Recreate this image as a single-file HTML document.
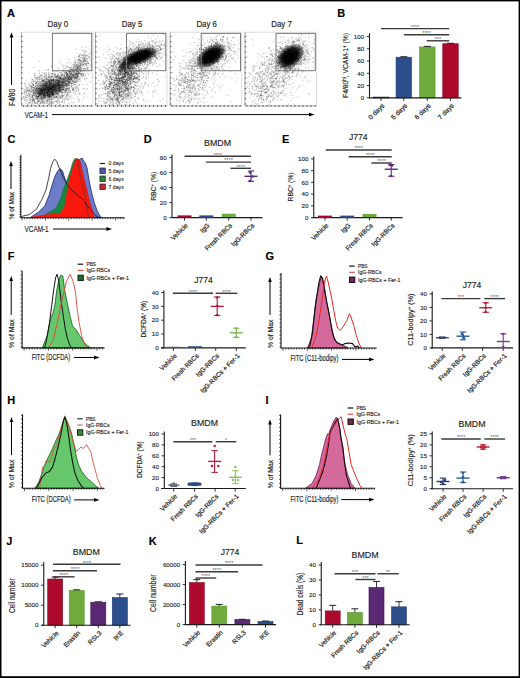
<!DOCTYPE html><html><head><meta charset="utf-8"><style>html,body{margin:0;padding:0;background:#fff;}svg{display:block;}text{font-family:"Liberation Sans", sans-serif;stroke:#222;stroke-width:0.15px;}</style></head><body>
<svg width="520" height="678" viewBox="0 0 520 678">
<rect x="0.00" y="0.00" width="520.00" height="678.00" fill="#fff" stroke="none" stroke-width="0" />
<text x="7.00" y="16.60" font-size="11" fill="#000" font-weight="bold">A</text>
<rect x="21.40" y="32.20" width="71.50" height="73.80" fill="none" stroke="#d4d4d4" stroke-width="0.8" />
<line x1="21.40" y1="32.20" x2="21.40" y2="106.00" stroke="#888" stroke-width="0.6" />
<line x1="21.20" y1="104.00" x2="22.60" y2="104.00" stroke="#333" stroke-width="0.8" />
<line x1="21.20" y1="98.80" x2="22.60" y2="98.80" stroke="#333" stroke-width="0.8" />
<line x1="21.20" y1="93.60" x2="22.60" y2="93.60" stroke="#333" stroke-width="0.8" />
<line x1="21.20" y1="88.40" x2="22.60" y2="88.40" stroke="#333" stroke-width="0.8" />
<line x1="21.20" y1="83.20" x2="22.60" y2="83.20" stroke="#333" stroke-width="0.8" />
<line x1="21.20" y1="78.00" x2="22.60" y2="78.00" stroke="#333" stroke-width="0.8" />
<line x1="21.20" y1="72.80" x2="22.60" y2="72.80" stroke="#333" stroke-width="0.8" />
<line x1="21.20" y1="67.60" x2="22.60" y2="67.60" stroke="#333" stroke-width="0.8" />
<line x1="21.20" y1="62.40" x2="22.60" y2="62.40" stroke="#333" stroke-width="0.8" />
<line x1="21.20" y1="57.20" x2="22.60" y2="57.20" stroke="#333" stroke-width="0.8" />
<line x1="21.20" y1="52.00" x2="22.60" y2="52.00" stroke="#333" stroke-width="0.8" />
<line x1="21.20" y1="46.80" x2="22.60" y2="46.80" stroke="#333" stroke-width="0.8" />
<line x1="21.20" y1="41.60" x2="22.60" y2="41.60" stroke="#333" stroke-width="0.8" />
<line x1="21.20" y1="36.40" x2="22.60" y2="36.40" stroke="#333" stroke-width="0.8" />
<line x1="21.40" y1="106.00" x2="92.90" y2="106.00" stroke="#999" stroke-width="0.6" />
<line x1="23.40" y1="105.00" x2="23.40" y2="106.60" stroke="#333" stroke-width="0.8" />
<line x1="27.40" y1="105.00" x2="27.40" y2="106.60" stroke="#333" stroke-width="0.8" />
<line x1="31.40" y1="105.00" x2="31.40" y2="106.60" stroke="#333" stroke-width="0.8" />
<line x1="35.40" y1="105.00" x2="35.40" y2="106.60" stroke="#333" stroke-width="0.8" />
<line x1="39.40" y1="105.00" x2="39.40" y2="106.60" stroke="#333" stroke-width="0.8" />
<line x1="43.40" y1="105.00" x2="43.40" y2="106.60" stroke="#333" stroke-width="0.8" />
<line x1="47.40" y1="105.00" x2="47.40" y2="106.60" stroke="#333" stroke-width="0.8" />
<line x1="51.40" y1="105.00" x2="51.40" y2="106.60" stroke="#333" stroke-width="0.8" />
<line x1="55.40" y1="105.00" x2="55.40" y2="106.60" stroke="#333" stroke-width="0.8" />
<line x1="59.40" y1="105.00" x2="59.40" y2="106.60" stroke="#333" stroke-width="0.8" />
<line x1="63.40" y1="105.00" x2="63.40" y2="106.60" stroke="#333" stroke-width="0.8" />
<line x1="67.40" y1="105.00" x2="67.40" y2="106.60" stroke="#333" stroke-width="0.8" />
<line x1="71.40" y1="105.00" x2="71.40" y2="106.60" stroke="#333" stroke-width="0.8" />
<line x1="75.40" y1="105.00" x2="75.40" y2="106.60" stroke="#333" stroke-width="0.8" />
<line x1="79.40" y1="105.00" x2="79.40" y2="106.60" stroke="#333" stroke-width="0.8" />
<line x1="83.40" y1="105.00" x2="83.40" y2="106.60" stroke="#333" stroke-width="0.8" />
<line x1="87.40" y1="105.00" x2="87.40" y2="106.60" stroke="#333" stroke-width="0.8" />
<line x1="91.40" y1="105.00" x2="91.40" y2="106.60" stroke="#333" stroke-width="0.8" />
<text x="57.90" y="27.30" font-size="8.7" fill="#1a1a1a" text-anchor="middle" textLength="20.6" lengthAdjust="spacingAndGlyphs">Day 0</text>
<rect x="95.50" y="32.20" width="71.50" height="73.80" fill="none" stroke="#d4d4d4" stroke-width="0.8" />
<line x1="95.50" y1="32.20" x2="95.50" y2="106.00" stroke="#888" stroke-width="0.6" />
<line x1="95.30" y1="104.00" x2="96.70" y2="104.00" stroke="#333" stroke-width="0.8" />
<line x1="95.30" y1="98.80" x2="96.70" y2="98.80" stroke="#333" stroke-width="0.8" />
<line x1="95.30" y1="93.60" x2="96.70" y2="93.60" stroke="#333" stroke-width="0.8" />
<line x1="95.30" y1="88.40" x2="96.70" y2="88.40" stroke="#333" stroke-width="0.8" />
<line x1="95.30" y1="83.20" x2="96.70" y2="83.20" stroke="#333" stroke-width="0.8" />
<line x1="95.30" y1="78.00" x2="96.70" y2="78.00" stroke="#333" stroke-width="0.8" />
<line x1="95.30" y1="72.80" x2="96.70" y2="72.80" stroke="#333" stroke-width="0.8" />
<line x1="95.30" y1="67.60" x2="96.70" y2="67.60" stroke="#333" stroke-width="0.8" />
<line x1="95.30" y1="62.40" x2="96.70" y2="62.40" stroke="#333" stroke-width="0.8" />
<line x1="95.30" y1="57.20" x2="96.70" y2="57.20" stroke="#333" stroke-width="0.8" />
<line x1="95.30" y1="52.00" x2="96.70" y2="52.00" stroke="#333" stroke-width="0.8" />
<line x1="95.30" y1="46.80" x2="96.70" y2="46.80" stroke="#333" stroke-width="0.8" />
<line x1="95.30" y1="41.60" x2="96.70" y2="41.60" stroke="#333" stroke-width="0.8" />
<line x1="95.30" y1="36.40" x2="96.70" y2="36.40" stroke="#333" stroke-width="0.8" />
<line x1="95.50" y1="106.00" x2="167.00" y2="106.00" stroke="#999" stroke-width="0.6" />
<line x1="97.50" y1="105.00" x2="97.50" y2="106.60" stroke="#333" stroke-width="0.8" />
<line x1="101.50" y1="105.00" x2="101.50" y2="106.60" stroke="#333" stroke-width="0.8" />
<line x1="105.50" y1="105.00" x2="105.50" y2="106.60" stroke="#333" stroke-width="0.8" />
<line x1="109.50" y1="105.00" x2="109.50" y2="106.60" stroke="#333" stroke-width="0.8" />
<line x1="113.50" y1="105.00" x2="113.50" y2="106.60" stroke="#333" stroke-width="0.8" />
<line x1="117.50" y1="105.00" x2="117.50" y2="106.60" stroke="#333" stroke-width="0.8" />
<line x1="121.50" y1="105.00" x2="121.50" y2="106.60" stroke="#333" stroke-width="0.8" />
<line x1="125.50" y1="105.00" x2="125.50" y2="106.60" stroke="#333" stroke-width="0.8" />
<line x1="129.50" y1="105.00" x2="129.50" y2="106.60" stroke="#333" stroke-width="0.8" />
<line x1="133.50" y1="105.00" x2="133.50" y2="106.60" stroke="#333" stroke-width="0.8" />
<line x1="137.50" y1="105.00" x2="137.50" y2="106.60" stroke="#333" stroke-width="0.8" />
<line x1="141.50" y1="105.00" x2="141.50" y2="106.60" stroke="#333" stroke-width="0.8" />
<line x1="145.50" y1="105.00" x2="145.50" y2="106.60" stroke="#333" stroke-width="0.8" />
<line x1="149.50" y1="105.00" x2="149.50" y2="106.60" stroke="#333" stroke-width="0.8" />
<line x1="153.50" y1="105.00" x2="153.50" y2="106.60" stroke="#333" stroke-width="0.8" />
<line x1="157.50" y1="105.00" x2="157.50" y2="106.60" stroke="#333" stroke-width="0.8" />
<line x1="161.50" y1="105.00" x2="161.50" y2="106.60" stroke="#333" stroke-width="0.8" />
<line x1="165.50" y1="105.00" x2="165.50" y2="106.60" stroke="#333" stroke-width="0.8" />
<text x="132.00" y="27.30" font-size="8.7" fill="#1a1a1a" text-anchor="middle" textLength="20.6" lengthAdjust="spacingAndGlyphs">Day 5</text>
<rect x="170.20" y="32.20" width="71.50" height="73.80" fill="none" stroke="#d4d4d4" stroke-width="0.8" />
<line x1="170.20" y1="32.20" x2="170.20" y2="106.00" stroke="#888" stroke-width="0.6" />
<line x1="170.00" y1="104.00" x2="171.40" y2="104.00" stroke="#333" stroke-width="0.8" />
<line x1="170.00" y1="98.80" x2="171.40" y2="98.80" stroke="#333" stroke-width="0.8" />
<line x1="170.00" y1="93.60" x2="171.40" y2="93.60" stroke="#333" stroke-width="0.8" />
<line x1="170.00" y1="88.40" x2="171.40" y2="88.40" stroke="#333" stroke-width="0.8" />
<line x1="170.00" y1="83.20" x2="171.40" y2="83.20" stroke="#333" stroke-width="0.8" />
<line x1="170.00" y1="78.00" x2="171.40" y2="78.00" stroke="#333" stroke-width="0.8" />
<line x1="170.00" y1="72.80" x2="171.40" y2="72.80" stroke="#333" stroke-width="0.8" />
<line x1="170.00" y1="67.60" x2="171.40" y2="67.60" stroke="#333" stroke-width="0.8" />
<line x1="170.00" y1="62.40" x2="171.40" y2="62.40" stroke="#333" stroke-width="0.8" />
<line x1="170.00" y1="57.20" x2="171.40" y2="57.20" stroke="#333" stroke-width="0.8" />
<line x1="170.00" y1="52.00" x2="171.40" y2="52.00" stroke="#333" stroke-width="0.8" />
<line x1="170.00" y1="46.80" x2="171.40" y2="46.80" stroke="#333" stroke-width="0.8" />
<line x1="170.00" y1="41.60" x2="171.40" y2="41.60" stroke="#333" stroke-width="0.8" />
<line x1="170.00" y1="36.40" x2="171.40" y2="36.40" stroke="#333" stroke-width="0.8" />
<line x1="170.20" y1="106.00" x2="241.70" y2="106.00" stroke="#999" stroke-width="0.6" />
<line x1="172.20" y1="105.00" x2="172.20" y2="106.60" stroke="#333" stroke-width="0.8" />
<line x1="176.20" y1="105.00" x2="176.20" y2="106.60" stroke="#333" stroke-width="0.8" />
<line x1="180.20" y1="105.00" x2="180.20" y2="106.60" stroke="#333" stroke-width="0.8" />
<line x1="184.20" y1="105.00" x2="184.20" y2="106.60" stroke="#333" stroke-width="0.8" />
<line x1="188.20" y1="105.00" x2="188.20" y2="106.60" stroke="#333" stroke-width="0.8" />
<line x1="192.20" y1="105.00" x2="192.20" y2="106.60" stroke="#333" stroke-width="0.8" />
<line x1="196.20" y1="105.00" x2="196.20" y2="106.60" stroke="#333" stroke-width="0.8" />
<line x1="200.20" y1="105.00" x2="200.20" y2="106.60" stroke="#333" stroke-width="0.8" />
<line x1="204.20" y1="105.00" x2="204.20" y2="106.60" stroke="#333" stroke-width="0.8" />
<line x1="208.20" y1="105.00" x2="208.20" y2="106.60" stroke="#333" stroke-width="0.8" />
<line x1="212.20" y1="105.00" x2="212.20" y2="106.60" stroke="#333" stroke-width="0.8" />
<line x1="216.20" y1="105.00" x2="216.20" y2="106.60" stroke="#333" stroke-width="0.8" />
<line x1="220.20" y1="105.00" x2="220.20" y2="106.60" stroke="#333" stroke-width="0.8" />
<line x1="224.20" y1="105.00" x2="224.20" y2="106.60" stroke="#333" stroke-width="0.8" />
<line x1="228.20" y1="105.00" x2="228.20" y2="106.60" stroke="#333" stroke-width="0.8" />
<line x1="232.20" y1="105.00" x2="232.20" y2="106.60" stroke="#333" stroke-width="0.8" />
<line x1="236.20" y1="105.00" x2="236.20" y2="106.60" stroke="#333" stroke-width="0.8" />
<line x1="240.20" y1="105.00" x2="240.20" y2="106.60" stroke="#333" stroke-width="0.8" />
<text x="206.70" y="27.30" font-size="8.7" fill="#1a1a1a" text-anchor="middle" textLength="20.6" lengthAdjust="spacingAndGlyphs">Day 6</text>
<rect x="245.00" y="32.20" width="71.50" height="73.80" fill="none" stroke="#d4d4d4" stroke-width="0.8" />
<line x1="245.00" y1="32.20" x2="245.00" y2="106.00" stroke="#888" stroke-width="0.6" />
<line x1="244.80" y1="104.00" x2="246.20" y2="104.00" stroke="#333" stroke-width="0.8" />
<line x1="244.80" y1="98.80" x2="246.20" y2="98.80" stroke="#333" stroke-width="0.8" />
<line x1="244.80" y1="93.60" x2="246.20" y2="93.60" stroke="#333" stroke-width="0.8" />
<line x1="244.80" y1="88.40" x2="246.20" y2="88.40" stroke="#333" stroke-width="0.8" />
<line x1="244.80" y1="83.20" x2="246.20" y2="83.20" stroke="#333" stroke-width="0.8" />
<line x1="244.80" y1="78.00" x2="246.20" y2="78.00" stroke="#333" stroke-width="0.8" />
<line x1="244.80" y1="72.80" x2="246.20" y2="72.80" stroke="#333" stroke-width="0.8" />
<line x1="244.80" y1="67.60" x2="246.20" y2="67.60" stroke="#333" stroke-width="0.8" />
<line x1="244.80" y1="62.40" x2="246.20" y2="62.40" stroke="#333" stroke-width="0.8" />
<line x1="244.80" y1="57.20" x2="246.20" y2="57.20" stroke="#333" stroke-width="0.8" />
<line x1="244.80" y1="52.00" x2="246.20" y2="52.00" stroke="#333" stroke-width="0.8" />
<line x1="244.80" y1="46.80" x2="246.20" y2="46.80" stroke="#333" stroke-width="0.8" />
<line x1="244.80" y1="41.60" x2="246.20" y2="41.60" stroke="#333" stroke-width="0.8" />
<line x1="244.80" y1="36.40" x2="246.20" y2="36.40" stroke="#333" stroke-width="0.8" />
<line x1="245.00" y1="106.00" x2="316.50" y2="106.00" stroke="#999" stroke-width="0.6" />
<line x1="247.00" y1="105.00" x2="247.00" y2="106.60" stroke="#333" stroke-width="0.8" />
<line x1="251.00" y1="105.00" x2="251.00" y2="106.60" stroke="#333" stroke-width="0.8" />
<line x1="255.00" y1="105.00" x2="255.00" y2="106.60" stroke="#333" stroke-width="0.8" />
<line x1="259.00" y1="105.00" x2="259.00" y2="106.60" stroke="#333" stroke-width="0.8" />
<line x1="263.00" y1="105.00" x2="263.00" y2="106.60" stroke="#333" stroke-width="0.8" />
<line x1="267.00" y1="105.00" x2="267.00" y2="106.60" stroke="#333" stroke-width="0.8" />
<line x1="271.00" y1="105.00" x2="271.00" y2="106.60" stroke="#333" stroke-width="0.8" />
<line x1="275.00" y1="105.00" x2="275.00" y2="106.60" stroke="#333" stroke-width="0.8" />
<line x1="279.00" y1="105.00" x2="279.00" y2="106.60" stroke="#333" stroke-width="0.8" />
<line x1="283.00" y1="105.00" x2="283.00" y2="106.60" stroke="#333" stroke-width="0.8" />
<line x1="287.00" y1="105.00" x2="287.00" y2="106.60" stroke="#333" stroke-width="0.8" />
<line x1="291.00" y1="105.00" x2="291.00" y2="106.60" stroke="#333" stroke-width="0.8" />
<line x1="295.00" y1="105.00" x2="295.00" y2="106.60" stroke="#333" stroke-width="0.8" />
<line x1="299.00" y1="105.00" x2="299.00" y2="106.60" stroke="#333" stroke-width="0.8" />
<line x1="303.00" y1="105.00" x2="303.00" y2="106.60" stroke="#333" stroke-width="0.8" />
<line x1="307.00" y1="105.00" x2="307.00" y2="106.60" stroke="#333" stroke-width="0.8" />
<line x1="311.00" y1="105.00" x2="311.00" y2="106.60" stroke="#333" stroke-width="0.8" />
<line x1="315.00" y1="105.00" x2="315.00" y2="106.60" stroke="#333" stroke-width="0.8" />
<text x="281.50" y="27.30" font-size="8.7" fill="#1a1a1a" text-anchor="middle" textLength="20.6" lengthAdjust="spacingAndGlyphs">Day 7</text>
<defs><radialGradient id="cg"><stop offset="0" stop-color="#000" stop-opacity="1"/><stop offset="0.55" stop-color="#000" stop-opacity="0.92"/><stop offset="0.8" stop-color="#000" stop-opacity="0.5"/><stop offset="1" stop-color="#000" stop-opacity="0"/></radialGradient></defs>
<clipPath id="cp0"><rect x="22.4" y="33.0" width="70" height="72.0"/></clipPath>
<g clip-path="url(#cp0)">
<ellipse cx="50" cy="89" rx="18" ry="8.5" transform="rotate(-22 50 89)" fill="url(#cg)" opacity="0.42"/>
<ellipse cx="46" cy="91" rx="9" ry="6" transform="rotate(-20 46 91)" fill="url(#cg)" opacity="0.3"/>
<path d="M51.9 89.9h0M45.2 83.8h0M42.8 84.1h0M55.5 96.3h0M43.4 86.6h0M57.8 87.7h0M49.6 81.5h0M52.6 92.6h0M33.7 92.2h0M24.7 89.8h0M28.5 96.2h0M36.7 96.4h0M52.3 86.0h0M50.7 89.0h0M31.5 93.0h0M37.1 88.0h0M61.3 77.2h0M53.1 93.8h0M43.8 90.4h0M52.5 87.8h0M36.7 95.0h0M62.7 70.9h0M61.5 84.2h0M49.1 104.2h0M56.6 76.3h0M53.5 91.3h0M50.7 93.4h0M52.1 92.6h0M66.2 76.1h0M52.1 84.0h0M49.1 79.7h0M43.6 89.8h0M64.9 90.6h0M33.0 89.9h0M53.0 71.8h0M45.2 89.8h0M67.9 85.8h0M46.1 87.4h0M52.4 99.1h0M45.1 88.3h0M54.8 85.4h0M45.5 81.9h0M49.6 85.2h0M66.7 86.0h0M52.6 92.4h0M50.0 96.5h0M52.6 91.8h0M36.7 97.0h0M25.2 83.9h0M44.8 83.9h0M59.3 101.5h0M39.3 88.4h0M54.8 90.1h0M48.3 87.6h0M60.8 87.6h0M38.5 93.0h0M48.4 81.1h0M51.6 81.1h0M63.1 84.1h0M50.4 83.7h0M43.9 75.9h0M38.6 96.3h0M28.1 104.7h0M32.4 102.1h0M43.2 97.5h0M48.2 77.5h0M69.9 90.6h0M49.4 86.6h0M46.3 82.6h0M62.5 78.7h0M48.1 83.2h0M39.9 83.1h0M65.5 80.4h0M62.5 83.0h0M41.8 89.6h0M44.4 91.0h0M45.7 88.1h0M32.3 90.1h0M68.7 75.0h0M39.4 95.7h0M63.6 71.3h0M46.7 85.1h0M32.2 102.0h0M50.9 88.6h0M43.4 94.9h0M44.2 89.9h0M34.4 86.1h0M65.4 77.7h0M54.4 86.2h0M44.3 87.1h0M57.6 82.7h0M49.3 88.9h0M66.9 86.1h0M53.9 82.4h0M37.3 101.4h0M62.1 82.0h0M59.7 90.1h0M63.5 89.5h0M49.9 100.1h0M38.6 100.1h0M59.4 91.0h0M77.5 87.6h0M32.6 83.3h0M57.8 77.2h0M53.2 93.4h0M25.5 83.2h0M54.2 86.9h0M48.2 89.5h0M36.5 82.9h0M46.3 82.7h0M32.9 99.9h0M51.4 90.9h0M37.4 89.0h0M36.6 87.6h0M51.1 82.0h0M56.2 88.3h0M71.1 68.4h0M61.3 82.7h0M46.7 78.8h0M47.7 95.2h0M50.3 89.0h0M50.8 96.9h0M44.5 74.0h0M37.2 79.1h0M67.0 81.3h0M34.4 88.2h0M64.9 83.0h0M51.4 87.4h0M53.7 92.9h0M58.2 86.5h0M40.1 96.8h0M46.0 98.6h0M35.5 93.8h0M47.1 79.6h0M75.6 88.2h0M47.7 95.4h0M48.1 69.3h0M53.8 86.3h0M48.9 80.7h0M47.3 88.3h0M66.1 83.9h0M55.3 97.8h0M43.3 88.4h0M65.1 88.8h0M59.3 85.2h0M52.8 85.2h0M48.7 89.4h0M70.5 83.6h0M48.7 84.6h0M48.0 101.6h0M57.2 85.8h0M43.7 82.7h0M52.7 93.9h0M45.7 88.6h0M48.7 89.9h0M31.4 94.9h0M43.4 98.2h0M43.5 95.8h0M68.2 77.9h0M44.4 92.4h0M48.1 81.7h0M62.2 98.5h0M47.4 88.1h0M39.5 95.6h0M33.0 87.5h0M63.6 75.4h0M68.2 92.0h0M55.7 90.2h0M73.6 76.4h0M40.1 82.5h0M55.7 97.2h0M59.7 76.9h0M39.4 89.3h0M53.9 85.1h0M54.4 88.8h0M47.3 89.3h0M53.2 86.4h0M62.3 97.3h0M58.2 85.2h0M32.1 99.4h0M23.9 89.3h0M63.2 88.0h0M44.4 77.9h0M44.7 85.6h0M65.0 99.1h0M51.4 81.9h0M36.9 93.8h0M45.6 81.6h0M49.1 80.0h0M67.2 88.9h0M62.5 79.2h0M56.7 84.4h0M45.4 87.9h0M31.5 85.6h0M59.9 82.6h0M56.4 93.3h0M28.2 92.1h0M54.2 89.6h0M49.5 96.6h0M50.0 79.1h0M42.2 98.1h0M51.1 73.4h0M68.7 84.7h0M65.9 78.4h0M44.3 82.4h0M80.6 73.5h0M68.0 75.5h0M48.2 76.4h0M49.3 96.3h0M39.2 101.5h0M52.0 79.5h0M43.7 87.7h0M48.9 84.8h0M40.3 90.4h0M35.1 85.2h0M52.9 93.9h0M32.8 96.1h0M40.5 85.2h0M59.7 80.2h0M66.6 75.1h0M54.9 84.5h0M43.7 95.7h0M50.9 92.7h0M47.3 81.3h0M49.9 88.9h0M59.8 77.1h0M45.6 77.2h0M55.7 77.6h0M29.4 97.2h0M59.8 72.4h0M36.0 89.0h0M38.7 96.4h0M39.4 87.7h0M55.8 80.1h0M53.4 79.5h0M31.4 82.7h0M72.2 76.1h0M53.8 86.5h0M53.0 87.5h0M70.7 71.3h0M29.6 89.8h0M37.3 99.8h0M58.0 77.5h0M33.5 93.1h0M59.5 62.6h0M54.2 78.3h0M60.3 75.6h0M43.3 79.9h0M43.3 102.0h0M59.6 81.1h0M35.3 80.5h0M46.2 89.9h0M49.7 87.8h0M37.5 93.5h0M54.2 96.5h0M72.8 77.3h0M41.7 91.6h0M41.7 86.5h0M47.3 81.6h0M57.9 84.1h0M53.4 85.5h0M39.7 85.8h0M46.6 85.7h0M53.8 86.7h0M35.0 95.6h0M33.3 91.2h0M41.6 76.3h0M52.5 88.5h0M47.9 86.1h0M43.8 83.7h0M46.2 85.9h0M48.7 79.8h0M54.2 87.7h0M48.1 85.9h0M52.8 74.4h0M57.2 87.1h0M55.5 89.0h0M42.5 89.8h0M59.8 87.4h0M49.1 77.2h0M60.7 92.6h0M63.7 84.2h0M35.2 102.3h0M42.0 72.6h0M51.2 76.5h0M33.8 90.8h0M65.1 78.9h0M59.2 97.7h0M69.6 78.9h0M44.5 81.2h0M44.0 94.4h0M56.0 86.6h0M60.6 77.8h0M52.4 93.0h0M61.0 91.8h0M54.8 83.9h0M52.4 79.7h0M33.2 100.4h0M51.2 90.3h0M29.8 94.6h0M41.4 85.6h0M23.3 97.8h0M62.7 85.7h0M43.8 91.1h0M52.1 66.3h0M51.1 92.1h0M63.9 95.3h0M65.4 84.0h0M56.8 91.4h0M44.5 90.6h0M67.3 95.7h0M49.0 88.5h0M57.2 95.5h0M54.8 97.6h0M39.0 91.9h0M50.9 94.1h0M59.1 72.8h0M41.1 95.0h0M38.8 81.7h0M64.7 85.7h0M55.5 82.4h0M62.5 81.0h0M61.4 76.4h0M41.4 93.8h0M44.6 96.0h0M51.5 80.7h0M50.9 85.4h0M60.1 79.1h0M49.2 98.1h0M83.3 88.9h0M52.4 89.1h0M68.9 79.1h0M39.7 93.9h0M54.0 80.3h0M27.4 87.5h0M56.7 79.6h0M49.9 90.1h0M57.4 82.6h0M54.4 79.7h0M43.8 83.4h0M64.4 81.8h0M41.2 89.7h0M50.4 93.7h0M29.1 89.8h0M62.0 82.2h0M65.3 97.4h0M47.2 86.9h0M66.8 84.8h0M57.5 81.2h0M78.7 88.8h0M59.7 89.4h0M28.7 102.8h0M49.9 91.8h0M58.1 82.2h0M32.0 99.3h0M41.3 89.8h0M42.8 89.0h0M57.2 93.8h0M74.6 77.7h0M27.0 91.8h0M35.2 91.2h0M46.2 74.8h0M50.8 76.5h0M54.2 85.7h0M47.1 89.2h0M42.8 86.9h0M30.9 96.7h0M78.6 90.9h0M68.7 85.5h0M47.1 100.8h0M50.1 87.9h0M47.8 90.1h0M45.6 89.8h0M37.1 91.3h0M77.9 75.5h0M49.7 92.7h0M56.2 77.1h0M51.2 95.0h0M54.6 87.4h0M67.5 75.4h0M50.5 84.2h0M63.1 67.6h0M41.5 88.2h0M60.6 88.4h0M63.1 70.6h0M59.1 82.2h0M44.6 95.0h0M34.2 79.6h0M42.3 80.4h0M44.4 93.8h0M59.2 96.5h0M44.3 79.3h0M39.4 86.1h0M37.8 97.2h0M37.7 78.8h0M59.0 83.6h0M55.5 86.8h0M58.6 84.9h0M66.9 84.2h0M56.8 88.5h0M33.2 94.6h0M48.5 90.7h0M48.8 79.7h0M29.9 95.2h0M47.9 83.9h0M50.3 83.4h0M55.5 80.4h0M53.3 94.5h0M78.7 68.0h0M43.1 85.1h0M57.0 76.5h0M45.2 90.4h0M36.7 87.1h0M39.4 77.1h0M32.7 93.0h0M52.2 86.0h0M28.6 94.4h0M62.1 87.3h0M47.5 82.7h0M56.8 81.0h0M34.8 89.1h0M68.8 81.7h0M63.4 78.8h0M60.4 79.2h0M56.2 104.7h0M58.7 80.7h0M50.9 90.5h0M64.0 78.5h0M29.5 95.4h0M51.5 88.6h0M67.5 83.1h0M57.5 76.7h0M67.3 96.8h0M60.9 85.5h0M57.9 98.6h0M39.7 92.2h0M58.6 90.3h0M46.7 92.3h0M48.0 90.2h0M46.2 81.4h0M53.2 93.7h0M38.8 91.6h0M55.8 77.6h0M50.2 80.3h0M71.1 96.8h0M74.4 75.9h0M60.1 84.9h0M56.6 97.4h0M38.3 101.7h0M54.4 97.3h0M51.3 82.7h0M56.4 91.2h0M52.8 90.9h0M38.7 77.1h0M63.7 87.7h0M53.0 87.7h0M62.0 79.6h0M42.1 90.5h0M61.2 72.8h0M63.3 77.6h0M41.5 101.9h0M46.1 80.2h0M49.4 95.9h0M63.9 79.0h0M57.9 90.4h0M44.4 93.7h0M49.1 84.7h0M45.3 91.0h0M49.7 84.2h0M49.1 97.4h0M56.1 92.5h0M66.9 85.4h0M75.6 70.7h0M59.7 81.7h0M77.9 89.1h0M25.0 92.1h0M61.1 89.5h0M59.5 83.7h0M58.3 89.8h0M53.0 95.0h0M26.0 104.0h0M41.4 99.6h0M45.8 83.5h0M52.8 80.2h0M35.7 82.8h0M52.1 91.3h0M62.7 81.7h0M63.5 82.6h0M51.5 92.2h0M62.6 80.2h0M47.6 88.3h0M49.4 81.8h0M62.1 80.0h0M54.1 80.3h0M56.4 88.6h0M51.8 103.1h0M60.5 97.4h0M60.5 78.7h0M47.7 92.8h0M51.9 88.0h0M42.5 77.9h0M42.0 75.0h0M53.3 81.4h0M41.9 90.4h0M50.2 77.4h0M27.2 90.4h0M24.0 92.6h0M66.9 72.8h0M54.8 75.8h0M53.6 84.4h0M51.9 92.0h0M72.4 80.0h0M49.7 81.1h0M57.2 83.3h0M60.8 83.3h0M66.0 66.1h0M50.0 95.2h0M44.6 84.8h0M43.9 80.6h0M59.4 103.0h0M61.4 74.9h0M39.5 90.0h0M60.6 77.4h0M45.3 97.3h0M60.2 81.0h0M33.3 84.0h0M36.3 77.4h0M58.1 80.0h0M62.0 97.4h0M61.7 74.4h0M64.6 90.8h0M39.4 85.9h0M45.1 78.3h0M61.6 64.8h0M37.1 92.1h0M48.8 90.3h0M53.6 85.2h0M58.4 68.3h0M49.0 83.4h0M53.2 88.7h0M38.3 88.7h0M61.4 86.0h0M48.7 104.6h0M74.3 66.4h0M61.7 102.4h0M60.9 85.3h0M47.0 85.6h0M46.9 85.6h0M58.7 81.5h0M42.3 82.6h0M47.9 82.5h0M51.8 95.6h0M56.8 89.3h0M55.4 86.5h0M48.6 86.7h0M56.9 77.1h0M67.0 81.1h0M40.7 88.8h0M43.4 92.6h0M45.7 99.1h0M35.2 77.6h0M36.6 79.0h0M53.5 95.0h0M54.9 76.0h0M47.0 103.4h0M54.8 86.3h0M70.5 98.1h0M66.8 82.0h0M57.0 90.1h0M40.7 84.5h0M48.9 81.7h0M50.5 88.9h0M76.4 70.2h0M49.1 87.6h0M59.2 92.4h0M42.8 85.3h0M28.9 90.8h0M57.5 85.5h0M37.9 91.0h0M52.8 91.1h0M43.2 89.5h0M26.1 90.3h0M64.0 65.5h0M47.6 91.2h0M44.3 84.8h0M50.3 88.3h0M44.7 76.4h0M46.8 83.3h0M45.1 92.3h0M61.2 90.3h0M47.7 96.5h0M68.2 89.1h0M67.1 79.7h0M51.3 94.2h0M35.4 96.6h0M43.6 88.4h0M27.8 91.5h0M53.3 93.8h0M62.5 82.3h0M46.4 83.7h0M55.1 84.3h0M63.2 96.0h0M46.4 78.6h0M36.6 83.2h0M40.5 102.7h0M49.4 77.1h0M62.4 92.6h0M44.8 85.6h0M47.8 91.6h0M62.0 92.2h0M68.8 89.2h0M69.1 85.0h0M32.4 95.3h0M53.6 83.9h0M60.8 80.9h0M44.1 102.1h0M59.5 85.9h0M65.0 89.9h0M48.1 70.5h0M41.7 88.7h0M39.9 94.5h0M63.8 78.6h0M42.1 82.5h0M55.0 89.5h0M44.9 96.8h0M42.6 84.7h0M55.3 92.0h0M44.4 93.5h0M46.5 100.6h0M50.0 87.5h0M62.1 89.9h0M67.0 83.4h0M42.3 87.7h0M58.7 89.0h0M68.8 83.3h0M67.9 92.1h0M48.7 77.6h0M32.9 85.0h0M67.5 74.2h0M67.3 85.2h0M74.2 85.3h0M49.2 87.3h0M52.5 88.7h0M44.6 90.6h0M65.3 68.6h0M51.5 80.8h0M55.6 92.4h0M52.5 93.2h0M35.3 103.5h0M45.6 95.2h0M45.8 70.5h0M42.6 93.4h0M70.3 81.6h0M50.0 77.6h0M73.1 92.0h0M50.7 86.4h0M34.3 102.2h0M85.1 78.3h0M67.6 84.8h0M43.1 101.8h0M35.7 93.2h0M56.8 92.2h0M57.0 88.3h0M38.3 83.8h0M49.7 83.1h0M31.9 86.8h0M39.9 78.7h0M30.3 84.7h0M54.3 89.6h0M70.6 67.8h0M45.5 97.4h0M47.5 87.1h0M70.3 76.8h0M33.5 85.7h0M55.9 88.2h0M31.9 89.0h0M59.0 88.9h0M45.1 95.4h0M52.7 73.6h0M48.5 92.3h0M38.1 77.4h0M49.8 94.3h0M63.5 65.6h0M78.8 67.0h0M65.9 90.8h0M63.1 83.8h0M39.0 98.1h0M35.3 75.6h0M86.6 77.6h0M70.0 72.6h0M73.0 90.4h0M69.4 79.6h0M36.2 93.2h0M49.3 81.2h0M48.7 88.2h0M77.6 86.1h0M53.9 96.0h0M40.8 90.0h0M58.3 75.2h0M43.9 81.0h0M57.0 97.8h0M42.7 93.4h0M37.1 85.4h0M40.5 103.8h0M80.4 78.6h0M44.5 96.3h0M49.3 94.9h0M55.3 88.3h0M56.6 81.1h0M41.3 79.1h0M41.7 81.2h0M46.6 82.6h0M53.5 90.4h0M31.8 90.3h0M41.9 97.8h0M73.7 84.4h0M51.0 99.2h0M35.3 73.7h0M87.0 84.1h0M39.2 94.5h0M48.7 89.8h0M31.4 91.5h0M57.2 86.9h0M65.5 82.2h0M76.9 71.0h0M48.6 74.4h0M39.9 103.1h0M41.3 96.4h0M47.3 81.6h0M45.4 86.6h0M47.4 95.4h0M57.1 80.9h0M41.0 94.6h0M52.7 95.1h0M84.9 79.4h0M50.1 87.1h0M38.2 86.7h0M38.0 90.8h0M48.0 95.0h0M45.7 88.8h0M62.1 96.8h0M64.7 93.3h0M50.1 93.9h0M79.6 65.9h0M69.8 92.6h0M58.2 90.7h0M64.3 76.9h0M53.4 80.1h0M41.0 87.6h0M49.7 89.7h0M52.4 76.3h0M78.4 84.9h0M58.8 81.7h0M51.5 92.1h0M51.1 74.8h0M68.5 103.1h0M31.4 104.5h0M55.2 85.3h0M64.3 72.8h0M57.3 96.7h0M47.4 86.3h0M51.1 84.5h0M67.2 73.6h0M58.0 75.0h0M58.9 83.7h0M36.7 90.9h0M66.5 72.3h0M42.3 103.2h0M56.9 97.5h0M52.4 80.4h0M53.8 96.4h0M62.5 82.9h0M51.3 87.0h0M49.6 103.8h0M47.8 80.5h0M47.3 95.4h0M58.4 83.6h0M42.9 91.8h0M26.8 88.5h0M59.4 80.5h0M59.1 94.0h0M59.0 84.6h0M78.9 80.8h0M48.8 94.7h0M53.5 80.2h0M51.4 86.5h0M26.5 97.6h0M46.3 86.7h0M29.9 94.6h0M50.8 88.9h0M39.0 98.3h0M35.5 93.1h0M64.9 76.4h0M47.9 97.8h0M45.4 88.1h0M56.8 93.7h0M35.5 86.3h0M38.1 87.1h0M52.1 80.5h0M53.7 90.0h0M42.5 92.8h0M71.9 81.2h0M43.1 91.0h0M40.6 94.7h0M59.1 78.0h0M51.7 96.4h0M45.5 91.9h0M36.2 88.2h0M51.0 104.7h0M44.6 86.8h0M43.8 89.9h0M59.3 85.7h0M76.0 78.5h0M69.0 82.1h0M54.1 75.6h0M49.3 88.2h0M42.0 75.5h0M60.4 80.9h0M45.1 88.7h0M49.5 91.8h0M33.3 88.8h0M54.9 87.4h0M44.9 86.3h0M40.9 92.0h0M62.0 75.0h0M71.5 85.3h0M47.9 95.4h0M28.7 84.7h0M34.5 92.2h0M45.7 86.4h0M46.1 73.8h0M52.8 76.3h0M42.0 88.9h0M33.4 85.3h0M39.0 93.2h0M59.6 88.5h0M36.9 88.2h0M41.3 95.7h0M43.0 85.6h0M58.0 92.8h0M58.1 92.9h0M56.1 95.2h0M65.5 80.8h0M68.6 81.4h0M49.4 81.6h0M49.8 94.5h0M37.3 99.1h0M55.9 87.9h0M24.5 99.0h0M56.5 79.7h0M45.3 72.3h0M57.1 80.2h0M56.1 71.6h0M58.5 82.8h0M58.0 77.8h0M39.1 87.9h0M44.8 82.9h0M70.0 92.7h0M37.7 80.7h0M68.1 88.9h0M64.1 91.1h0M40.2 91.5h0M30.5 86.2h0M60.7 78.5h0M78.3 76.4h0M45.7 96.5h0M73.8 81.6h0M37.6 96.8h0M65.9 77.6h0M44.7 98.6h0M49.5 80.2h0M44.3 85.2h0M54.8 87.1h0M66.7 86.5h0M33.6 98.9h0M63.0 86.2h0M61.7 79.0h0M42.4 99.0h0M32.2 79.8h0M61.1 77.9h0M43.4 80.7h0M32.0 87.6h0M47.8 92.3h0M33.9 87.4h0M58.8 83.9h0M41.5 94.1h0M57.4 96.0h0M48.5 96.9h0M45.4 99.1h0M40.9 89.7h0M74.4 80.0h0M58.7 101.8h0M53.0 80.9h0M56.4 76.6h0M67.8 89.7h0M42.4 87.0h0M53.1 87.2h0M41.0 96.8h0M25.5 96.0h0M45.4 88.4h0M51.2 78.5h0M57.5 83.7h0M39.4 82.7h0M38.0 96.6h0M39.7 93.5h0M66.6 89.0h0M68.7 77.9h0M41.0 100.3h0M57.9 93.6h0M54.5 95.6h0M63.1 88.1h0M58.1 87.9h0M54.4 88.2h0M61.3 79.5h0M71.3 78.1h0M62.4 82.2h0M53.9 102.3h0M43.7 81.5h0M41.6 89.7h0M77.2 77.9h0M59.2 76.7h0M57.1 90.4h0M70.4 74.0h0M59.0 86.7h0M38.8 93.3h0M41.3 74.5h0M59.6 88.3h0M42.0 81.8h0M69.3 81.9h0M67.1 91.6h0M47.1 95.9h0M48.0 88.9h0M50.0 88.4h0M64.6 82.9h0M48.4 87.0h0M52.5 80.5h0M44.9 90.3h0M43.9 90.2h0M49.5 104.0h0M68.1 83.8h0M56.6 102.3h0M54.6 85.7h0M55.5 88.4h0M67.7 80.4h0M73.4 71.3h0M56.4 77.9h0M71.6 76.3h0M52.9 94.2h0M62.7 74.3h0M42.9 80.9h0M52.3 86.6h0M44.9 85.5h0M44.3 85.3h0M61.6 94.9h0M27.7 97.5h0M47.4 93.4h0M39.3 92.1h0M40.6 98.0h0M51.7 86.4h0M54.7 84.5h0M34.2 100.0h0M54.0 85.5h0M66.2 90.6h0M35.8 88.8h0M73.4 88.9h0M38.9 84.4h0M42.0 88.2h0M32.3 96.6h0M32.4 87.0h0M59.9 78.8h0M51.9 92.4h0M59.7 81.5h0M49.2 82.5h0M73.6 82.9h0M37.9 93.9h0M60.8 87.3h0M76.6 87.1h0M44.3 90.3h0M36.5 96.4h0M60.5 104.5h0M46.2 74.1h0M43.3 92.3h0M33.6 89.1h0M47.6 92.1h0M46.5 83.2h0M58.8 80.4h0M41.1 81.8h0M43.5 96.3h0M31.6 96.1h0M58.5 81.8h0M50.7 79.6h0M69.7 88.1h0M48.8 75.5h0M41.4 99.8h0M72.2 80.8h0M64.1 77.5h0M48.8 89.0h0M51.7 76.0h0M65.9 91.5h0M33.5 85.4h0M53.3 82.0h0M51.5 84.1h0M76.5 77.7h0M42.3 92.6h0M36.5 88.6h0M54.0 82.4h0M50.4 101.1h0M63.5 88.6h0M58.7 88.3h0M68.2 80.2h0M70.3 72.1h0M44.0 80.5h0M48.4 93.1h0M66.3 76.1h0M50.0 85.7h0M38.8 84.3h0M46.8 76.6h0M52.4 87.5h0M40.3 85.0h0M57.1 82.5h0M40.2 100.8h0M68.9 72.9h0M50.4 96.3h0M60.7 99.0h0M45.8 94.5h0M36.0 77.7h0M49.1 87.8h0M72.8 75.7h0M52.5 91.9h0M69.7 79.2h0M64.8 85.8h0M47.7 90.1h0M48.7 82.0h0M61.5 72.7h0M67.6 87.9h0M47.7 83.6h0M49.7 92.2h0M60.6 85.9h0M61.2 79.2h0M49.3 76.7h0M60.5 84.9h0M49.4 97.6h0M51.2 66.3h0M47.3 78.5h0M70.8 98.3h0M45.1 91.2h0M49.0 91.6h0M62.3 92.8h0M43.7 103.3h0M40.7 94.7h0M66.8 86.4h0M37.9 88.5h0M45.4 90.1h0M60.9 73.7h0M58.3 89.4h0M59.0 88.0h0M70.4 83.1h0M62.8 87.1h0M66.9 66.4h0M65.5 79.6h0M44.9 83.3h0M27.7 95.4h0M44.2 94.8h0M53.5 85.0h0M40.3 86.7h0M36.0 90.5h0M50.6 86.8h0M33.4 93.8h0M40.8 93.7h0M74.9 82.1h0M42.7 79.3h0M29.4 84.7h0M57.4 79.3h0M50.0 83.7h0M56.1 96.5h0M41.9 89.4h0M43.9 97.9h0M35.6 86.2h0M30.5 86.3h0M63.9 101.9h0M41.9 99.3h0M50.8 79.6h0M47.1 88.0h0M48.3 104.0h0M29.4 100.5h0M53.3 82.5h0M55.3 92.8h0M54.0 89.9h0M53.4 71.3h0M75.0 94.8h0M65.5 89.3h0M33.9 94.7h0M39.7 88.5h0M60.2 77.7h0M44.0 76.5h0M49.4 89.4h0M40.6 87.1h0M70.0 70.3h0M36.2 88.4h0M71.2 95.1h0M52.9 81.7h0M49.0 97.1h0M44.3 102.1h0M68.0 81.0h0M60.8 89.4h0M66.5 73.1h0M64.0 79.4h0M42.2 92.7h0M45.6 82.8h0M29.3 90.4h0M73.8 92.9h0M62.1 92.1h0M44.6 90.2h0M51.3 79.6h0M39.5 93.9h0M44.2 82.9h0M54.8 84.3h0M63.1 82.6h0M47.8 90.4h0M47.1 84.6h0M48.4 94.9h0M62.3 92.8h0M29.8 94.4h0M46.6 91.3h0M44.2 87.1h0M60.8 85.0h0M40.9 102.7h0M61.2 79.1h0M58.8 78.9h0M63.7 80.7h0M40.4 89.9h0M42.5 93.3h0M53.2 87.3h0M34.0 67.5h0M46.7 75.4h0M57.1 93.9h0M53.1 84.1h0M48.5 88.1h0M42.8 87.2h0M43.4 100.5h0M53.5 94.2h0M48.2 89.8h0M50.3 91.9h0M61.5 85.2h0M40.8 86.6h0M69.9 77.4h0M51.7 98.9h0M65.4 85.7h0M57.2 89.4h0M44.9 79.9h0M36.3 97.7h0M55.0 84.4h0M33.0 85.0h0M43.0 80.4h0M65.0 90.6h0M87.1 78.7h0M41.5 85.6h0M51.7 95.1h0M59.9 88.5h0M55.4 91.1h0M65.2 73.5h0M41.6 81.5h0M73.9 87.7h0M56.5 76.4h0M52.4 85.6h0M51.4 86.4h0M56.1 82.7h0M61.8 85.0h0M47.2 88.8h0M48.1 95.5h0M48.6 91.3h0M42.1 80.6h0M58.7 76.4h0M60.3 87.1h0M28.6 90.7h0M42.6 85.5h0M39.1 99.0h0M49.3 91.7h0M46.8 92.2h0M42.0 91.8h0M58.0 85.2h0M42.5 83.5h0M54.0 89.3h0M45.7 84.4h0M64.5 101.0h0M48.4 91.8h0M48.2 69.6h0M50.5 82.8h0M66.7 79.1h0M41.1 90.7h0M51.4 83.5h0M46.5 79.6h0M50.5 94.2h0M76.4 82.1h0M57.6 94.1h0M67.8 93.3h0M63.5 81.5h0M54.6 87.8h0M55.2 87.7h0M35.7 78.7h0M37.3 78.6h0M51.8 87.7h0M33.1 101.3h0M61.6 84.0h0M76.1 91.2h0M39.6 101.0h0M57.4 88.3h0M60.1 78.5h0M41.6 85.8h0M41.8 91.4h0M30.8 89.0h0M57.7 84.5h0M50.2 73.9h0M40.1 88.6h0M49.7 84.1h0M61.9 82.7h0M51.2 88.0h0M58.1 81.2h0M65.6 85.0h0M52.9 87.5h0M60.1 91.7h0M63.3 85.4h0M61.7 84.1h0M65.8 81.2h0M48.9 79.9h0M46.1 83.4h0M77.4 80.1h0M33.9 99.8h0M51.7 102.4h0M32.1 79.2h0M50.8 85.4h0M40.0 76.5h0M60.8 96.4h0M55.6 84.5h0M65.6 85.5h0M46.0 95.7h0M39.8 79.3h0M74.1 75.0h0M44.7 93.4h0M28.6 87.6h0M43.6 87.3h0M55.0 94.8h0M46.8 93.7h0M55.1 77.9h0M51.0 80.8h0M64.9 85.3h0M47.4 79.3h0M50.2 82.5h0M59.0 83.5h0M44.0 98.2h0M57.9 80.4h0M64.0 79.9h0M47.7 90.4h0M40.8 89.2h0M53.5 98.6h0M68.1 78.4h0M70.0 79.2h0M58.0 91.6h0M61.3 101.9h0M50.5 79.1h0M65.3 78.5h0M38.9 70.5h0M65.2 87.9h0M63.3 90.0h0M71.0 78.8h0M60.0 78.3h0M49.8 96.6h0M51.8 77.4h0M54.8 84.9h0M42.5 95.1h0M41.7 80.1h0M33.6 97.4h0M60.1 88.9h0M35.5 92.4h0M55.0 92.4h0M40.0 84.0h0M66.1 89.8h0M53.7 82.2h0M56.1 86.5h0M57.4 75.6h0M51.9 86.4h0M38.4 95.2h0M50.2 85.2h0M51.7 76.8h0M51.6 91.0h0M57.4 93.4h0M32.4 84.7h0M55.1 89.6h0M77.9 80.7h0M42.9 97.8h0M36.7 83.0h0M82.9 76.3h0M61.1 87.8h0M73.3 80.2h0M62.5 75.0h0M38.5 104.5h0M70.0 83.5h0M54.2 87.9h0M47.2 101.5h0M60.3 87.8h0M58.5 92.7h0M59.1 90.1h0M38.6 97.4h0M75.5 73.1h0M52.0 94.4h0M64.1 86.9h0M33.2 99.8h0M34.6 89.0h0M56.7 83.2h0M69.6 103.9h0M62.3 88.5h0M38.5 88.6h0M36.9 90.2h0M36.2 89.6h0M45.7 82.7h0M30.3 86.8h0M56.6 86.0h0M66.2 89.3h0M48.9 94.1h0M64.6 80.3h0M38.3 96.6h0M26.6 92.9h0M60.1 84.5h0M47.9 96.7h0M39.5 95.3h0M42.7 85.2h0M53.7 79.2h0M71.9 74.2h0M71.5 70.5h0M54.8 77.1h0M35.5 96.1h0M55.4 76.3h0M62.8 76.6h0M53.6 89.7h0M52.9 73.4h0M71.8 83.0h0M43.0 83.7h0M27.0 88.3h0M56.5 82.9h0M36.1 90.6h0M68.6 77.6h0M47.9 99.7h0M56.6 85.8h0M39.4 81.3h0M35.7 91.1h0M49.4 91.4h0M58.2 86.5h0M50.7 80.4h0M23.9 96.1h0M37.8 88.9h0M44.2 81.5h0M37.5 93.2h0M50.5 83.2h0M56.3 84.0h0M39.0 93.7h0M71.4 73.7h0M68.8 90.6h0M66.5 74.8h0M75.3 78.1h0M47.3 87.9h0M58.3 85.1h0M52.6 97.1h0M39.4 85.2h0M62.4 88.3h0M60.9 75.4h0M65.2 85.4h0M68.4 70.7h0M52.8 85.1h0M30.1 91.8h0M63.0 79.0h0M44.9 97.4h0M65.6 89.1h0M41.5 91.8h0M61.4 78.4h0M44.5 97.3h0M66.3 72.4h0M38.6 92.5h0M57.9 83.8h0M43.1 92.7h0M39.4 92.8h0M58.3 78.3h0M37.9 90.5h0M29.4 92.0h0M44.7 97.6h0M43.7 85.2h0M31.7 87.6h0M49.6 87.0h0M62.7 78.0h0M64.3 84.0h0M45.2 75.2h0M37.8 99.6h0M68.2 81.9h0M58.9 81.4h0M44.7 85.7h0M63.6 85.0h0M47.3 87.1h0M58.5 87.1h0M46.0 103.4h0M54.1 86.7h0M71.5 86.7h0M51.5 91.9h0M36.5 89.6h0M30.4 102.4h0M38.3 86.1h0M49.4 90.7h0M63.3 96.1h0M57.8 91.7h0M45.9 95.7h0M51.5 84.2h0M49.7 88.1h0M54.4 89.6h0M42.8 86.0h0M55.0 73.2h0M48.1 101.2h0M54.5 73.8h0M74.5 57.7h0M72.5 90.4h0M61.3 81.7h0M52.7 80.4h0M57.4 76.6h0M50.6 95.8h0M36.7 91.6h0M49.1 78.6h0M65.8 84.0h0M32.9 95.7h0M39.9 87.9h0M49.9 83.1h0M60.4 78.4h0M62.5 82.5h0M59.6 80.0h0M41.7 83.3h0M60.5 90.9h0M79.8 85.0h0M53.4 85.3h0M55.5 85.8h0M71.1 86.3h0M39.1 88.0h0M68.1 82.7h0M51.6 96.8h0M45.6 88.3h0M39.9 77.9h0M57.8 75.7h0M42.1 86.3h0M59.4 83.7h0M46.4 77.2h0M45.8 79.0h0M55.7 88.7h0M56.6 101.2h0M59.0 89.0h0M52.1 86.0h0M65.6 89.9h0M38.5 101.6h0M59.8 91.4h0M53.0 77.6h0M50.0 77.6h0M54.1 83.8h0M32.7 98.2h0M49.7 86.7h0M56.1 90.3h0M25.2 97.2h0M37.7 84.5h0M44.2 90.1h0M43.7 80.1h0M51.0 103.4h0M33.7 82.8h0M56.0 90.4h0M53.3 78.4h0M60.6 77.7h0M35.8 90.1h0M51.7 93.1h0M58.3 84.6h0M62.3 83.6h0M57.6 74.3h0M34.5 101.3h0M33.6 93.4h0M48.4 85.4h0M49.6 99.3h0M78.3 76.0h0M52.8 92.7h0M69.3 70.7h0M51.5 86.3h0M58.1 86.1h0M57.6 81.8h0M49.7 83.5h0M42.7 90.6h0M46.0 81.3h0M69.3 78.8h0M37.7 102.4h0M43.6 95.2h0M51.5 89.7h0M51.4 83.4h0M57.3 100.8h0M24.6 100.3h0M53.2 79.0h0M52.5 103.3h0M57.6 85.7h0M58.5 89.5h0M66.3 84.5h0M53.2 88.4h0M69.4 86.1h0M37.3 89.2h0M53.2 82.3h0M43.8 83.9h0M49.1 92.1h0M62.8 82.8h0M75.4 76.5h0M91.8 77.5h0M55.5 82.2h0M58.6 99.4h0M50.1 94.0h0M48.9 94.2h0M48.8 80.2h0M64.2 87.4h0M61.0 91.3h0M64.0 82.0h0M30.9 86.3h0M69.1 85.4h0M51.0 84.7h0M51.4 88.0h0M45.0 85.3h0M77.4 78.0h0M40.1 82.9h0M44.4 96.4h0M59.4 82.6h0M50.7 85.8h0M41.5 102.2h0M62.5 101.9h0M41.6 91.1h0M60.8 81.8h0M31.8 89.3h0M53.2 89.7h0M52.7 94.9h0M63.7 84.8h0M50.6 86.2h0M60.2 91.0h0M53.0 90.6h0M43.1 80.7h0M41.3 98.2h0M60.8 95.8h0M54.1 93.2h0M69.5 87.4h0M43.2 90.0h0M49.7 81.0h0M59.5 92.0h0M50.9 103.2h0M47.0 88.2h0M46.2 84.7h0M56.0 85.9h0M72.5 83.1h0M56.8 83.7h0M33.9 94.9h0M43.6 98.6h0M55.4 98.8h0M62.1 89.5h0M54.3 88.1h0M61.4 90.4h0M44.0 94.9h0M81.9 73.6h0M46.0 84.9h0M37.2 103.3h0M52.6 89.6h0M80.1 94.3h0M43.5 99.4h0M59.5 87.3h0M56.6 85.3h0M71.7 83.5h0M58.7 94.2h0M63.0 86.2h0M59.9 97.5h0M56.8 84.7h0M39.9 90.3h0M38.9 94.2h0M48.3 73.5h0M53.1 92.1h0M50.3 81.0h0M64.1 76.8h0M33.4 87.6h0M53.7 94.4h0M65.5 83.2h0M35.0 90.1h0M39.9 91.6h0M30.3 98.1h0M58.3 83.6h0M53.8 79.6h0M31.9 91.6h0M67.7 88.5h0M49.0 98.1h0M51.5 99.4h0M55.5 82.6h0M58.2 78.8h0M35.8 83.7h0M53.9 86.3h0M48.9 85.8h0M66.9 77.7h0M46.0 99.8h0M68.8 82.7h0M28.6 93.4h0M58.3 84.9h0M65.6 71.0h0M57.3 80.4h0M66.5 80.5h0M61.4 78.4h0M31.1 88.4h0M40.9 84.7h0M69.1 90.2h0M51.3 79.9h0M47.6 84.2h0M69.2 82.3h0M55.7 82.9h0M24.9 93.7h0M38.8 96.3h0M49.9 82.4h0M50.8 100.1h0M37.0 87.2h0M46.3 84.7h0M47.4 93.7h0M66.5 67.5h0M50.9 88.4h0M49.5 87.2h0M49.8 96.2h0M45.1 89.6h0M51.3 88.7h0M51.8 95.3h0M51.4 89.2h0M47.5 81.9h0M38.2 85.7h0M51.3 82.4h0M39.1 95.1h0M52.2 74.0h0M71.2 79.3h0M52.8 95.4h0M50.1 83.8h0M74.0 69.5h0M52.3 93.9h0M38.0 93.0h0M62.4 101.3h0M40.3 92.4h0M59.1 85.0h0M37.9 97.0h0M53.5 90.3h0M67.3 88.5h0M56.7 87.8h0M37.6 92.9h0M52.5 84.3h0M49.8 82.2h0M75.3 93.6h0M47.5 92.6h0M51.8 97.3h0M56.4 86.2h0M48.7 90.0h0M41.0 97.6h0M44.0 95.2h0M55.7 94.3h0M53.7 94.6h0M41.8 96.8h0M48.9 90.4h0M54.5 93.6h0M27.9 100.7h0M36.7 103.6h0M24.7 92.0h0M36.0 95.5h0M39.5 79.3h0M48.9 94.0h0M51.5 95.0h0M46.7 90.0h0M47.4 92.2h0M74.6 80.3h0M51.5 83.0h0M46.2 101.4h0M35.2 88.0h0M48.6 85.8h0M67.5 62.5h0M57.3 90.6h0M35.9 89.8h0M60.8 96.1h0M35.6 82.8h0M66.9 92.6h0M40.7 75.6h0M67.7 79.1h0M64.2 81.8h0M45.3 87.1h0M72.6 89.4h0M22.9 93.3h0M71.1 76.3h0M34.9 95.2h0M49.4 88.0h0M44.4 88.6h0M46.5 92.5h0M40.5 90.4h0M53.0 97.1h0M55.1 85.3h0M58.5 87.8h0M65.4 85.5h0M76.1 87.1h0M49.3 85.6h0M63.0 86.6h0M45.7 79.1h0M30.2 99.9h0M62.4 89.1h0M38.7 101.4h0M45.8 93.3h0M53.7 80.7h0M38.1 77.9h0M35.0 81.3h0M56.4 86.1h0M62.9 85.4h0M44.4 93.6h0M48.1 94.0h0M51.9 80.0h0M51.2 88.3h0M49.9 95.3h0M70.3 76.6h0M40.4 75.5h0M48.2 85.9h0M26.2 101.3h0M55.9 80.2h0M43.8 83.8h0M55.7 74.3h0M52.8 102.1h0M52.9 90.7h0M45.9 81.3h0M51.8 90.8h0M39.8 95.6h0M68.8 88.3h0M29.4 90.1h0M34.9 103.4h0M60.3 89.3h0M37.2 85.2h0M52.2 88.2h0M41.3 93.4h0M59.3 86.0h0M32.6 80.0h0M48.4 90.4h0M46.7 86.6h0M44.8 96.2h0M50.7 89.1h0M37.7 89.2h0M50.1 80.7h0M35.1 92.6h0M65.8 82.9h0M68.0 79.4h0M43.4 80.7h0M48.2 100.2h0M57.0 91.0h0M59.3 84.2h0M48.9 89.8h0M60.3 87.4h0M57.3 86.4h0M41.1 90.4h0M42.7 99.4h0M25.4 97.7h0M78.4 73.2h0M37.5 93.9h0M65.9 80.2h0M58.6 85.4h0M50.3 84.2h0M46.3 93.0h0M58.1 90.8h0M70.5 69.7h0M76.0 71.1h0M67.3 71.9h0M67.1 75.9h0M69.2 70.6h0M73.7 75.1h0M63.5 79.2h0M69.2 82.6h0M54.2 87.9h0M60.2 82.8h0M77.5 68.3h0M71.9 71.6h0M89.0 67.1h0M77.7 64.6h0M67.9 84.5h0M71.0 75.3h0M72.3 69.2h0M78.5 70.8h0M74.7 70.2h0M74.9 69.9h0M82.6 73.3h0M80.7 71.6h0M70.8 63.0h0M78.2 69.5h0M73.0 73.6h0M61.8 81.0h0M81.2 75.8h0M66.4 75.6h0M81.1 64.2h0M87.8 63.7h0M69.2 83.0h0M81.5 61.1h0M83.4 65.5h0M82.6 65.6h0M63.1 85.3h0M84.7 76.5h0M86.9 67.6h0M70.0 74.7h0M68.9 74.0h0M64.8 68.5h0M74.2 73.9h0M71.0 79.4h0M62.8 79.9h0M63.3 89.9h0M74.3 68.0h0M74.9 78.3h0M77.5 73.5h0M65.3 77.7h0M75.9 77.4h0M64.4 76.1h0M78.8 65.7h0M81.2 69.8h0M83.5 75.6h0M79.8 73.6h0M64.8 77.9h0M81.3 76.3h0M88.6 74.6h0M75.7 73.9h0M80.2 69.5h0M70.0 72.0h0M77.4 66.1h0M73.1 67.7h0M78.2 65.7h0M75.1 65.3h0M72.8 81.2h0M67.5 79.7h0M63.9 70.4h0M76.2 74.7h0M66.6 82.9h0M64.9 76.2h0M71.4 72.8h0M85.4 57.4h0M80.7 74.0h0M54.7 80.5h0M75.8 70.4h0M78.5 76.5h0M67.7 73.7h0M54.1 90.8h0M67.2 81.1h0M71.2 69.4h0M87.9 68.9h0M76.1 66.6h0M68.8 75.5h0M67.3 73.8h0M76.6 73.3h0M74.3 71.4h0M82.6 68.4h0M52.0 88.2h0M75.0 78.4h0M70.3 75.9h0M69.9 80.8h0M68.3 75.6h0M69.1 80.9h0M65.1 72.7h0M75.7 69.3h0M76.5 74.2h0M84.1 71.6h0M68.5 77.7h0M68.0 87.4h0M79.6 76.9h0M65.7 70.3h0M84.1 66.8h0M74.1 74.4h0M78.9 73.1h0M64.4 87.2h0M68.1 76.5h0M87.5 68.3h0M66.0 71.0h0M75.5 75.8h0M69.4 71.5h0M64.3 75.4h0M76.5 76.4h0M78.5 67.0h0M76.0 75.4h0M69.0 77.4h0M88.6 63.9h0M78.2 68.7h0M69.1 69.4h0M75.8 78.9h0M90.8 67.1h0M78.0 71.4h0M68.4 77.8h0M75.4 69.1h0M77.2 66.7h0M57.9 81.7h0M57.8 79.9h0M80.5 68.1h0M77.4 77.4h0M80.7 66.4h0M83.4 68.9h0M74.1 76.4h0M61.0 80.4h0M73.7 77.5h0M70.0 76.7h0M83.4 74.1h0M81.6 74.7h0M69.4 76.3h0M74.5 72.3h0M73.5 83.0h0M69.2 73.1h0M81.0 78.1h0M76.6 78.4h0M68.7 75.9h0M67.8 78.4h0M83.2 61.2h0M82.1 62.7h0M73.4 78.9h0M78.2 72.4h0M62.2 85.3h0M72.1 88.8h0M72.0 76.8h0M63.7 79.8h0M66.3 85.2h0M72.5 78.2h0M66.9 77.2h0M79.7 64.8h0M61.2 86.3h0M63.8 79.9h0M77.4 67.4h0M77.6 68.0h0M86.8 70.9h0M69.1 76.9h0M67.6 80.2h0M77.6 64.1h0M76.2 65.7h0M62.5 74.1h0M88.1 63.5h0M73.1 71.5h0M75.4 62.5h0M78.6 81.8h0M70.3 77.2h0M75.8 68.7h0M75.5 77.9h0M75.3 75.1h0M71.3 77.9h0M77.0 79.3h0M77.5 70.2h0M57.4 90.8h0M76.1 67.9h0M56.0 82.5h0M76.9 66.5h0M70.3 78.2h0M81.6 68.2h0M70.9 73.8h0M87.2 69.3h0M68.9 71.1h0M68.8 81.2h0M70.1 81.8h0M76.3 73.9h0M78.9 73.0h0M66.1 78.7h0M86.6 58.2h0M72.3 81.0h0M69.9 73.3h0M64.9 84.0h0M83.7 73.8h0M76.0 78.0h0M66.1 81.3h0M68.6 79.3h0M81.0 74.2h0M69.1 84.5h0M67.1 74.4h0M68.2 71.3h0M73.7 75.9h0M72.9 77.8h0M70.8 76.8h0M62.9 83.1h0M65.9 78.3h0M72.8 76.1h0M57.5 79.2h0M72.0 78.2h0M77.8 75.8h0M83.4 69.4h0M70.3 71.9h0M65.1 78.8h0M75.4 74.2h0M72.7 74.5h0M78.0 72.2h0M75.9 74.3h0M66.6 74.8h0M77.5 73.6h0M70.4 74.9h0M87.3 60.0h0M72.1 77.0h0M65.1 81.8h0M88.0 68.0h0M78.9 73.4h0M76.2 77.4h0M70.9 74.5h0M76.0 77.3h0M77.0 75.3h0M61.6 90.0h0M68.7 74.1h0M72.5 70.4h0M76.9 69.3h0M83.2 74.0h0M59.3 87.2h0M64.6 74.4h0M68.1 77.7h0M76.6 64.5h0M85.4 75.5h0M78.6 73.4h0M70.0 71.4h0M77.7 73.2h0M84.5 79.0h0M79.2 72.3h0M80.8 62.1h0M64.0 80.1h0M70.1 80.8h0M75.0 82.2h0M85.7 69.0h0M71.8 79.1h0M76.1 67.1h0M77.2 75.3h0M78.4 78.8h0M79.6 65.7h0M71.8 71.7h0M75.0 69.1h0M80.5 71.1h0M79.5 69.2h0M67.0 88.6h0M75.2 80.3h0M77.7 74.7h0M86.8 65.9h0M79.3 62.6h0M78.6 69.4h0M72.1 75.8h0M79.5 78.3h0M60.0 85.4h0M70.8 82.6h0M71.1 78.8h0M71.8 79.3h0M79.2 68.1h0M69.9 70.3h0M77.3 76.0h0M71.8 81.6h0M53.7 80.7h0M62.0 81.2h0M72.9 74.6h0M74.3 77.7h0M66.5 73.6h0M69.4 88.6h0M55.9 87.5h0M84.5 68.4h0M67.1 79.6h0M82.1 74.0h0M68.5 82.4h0M77.5 77.1h0M82.0 66.2h0M63.7 84.3h0M87.3 67.3h0M80.5 81.3h0M67.8 83.6h0M69.1 78.3h0M77.4 79.3h0M65.0 78.5h0M62.9 85.4h0M70.8 78.9h0M64.5 79.8h0M79.9 68.7h0M78.7 73.2h0M66.7 72.0h0M80.4 70.1h0M75.0 63.2h0M56.0 77.4h0M69.3 83.1h0M76.9 71.8h0M75.8 76.7h0M71.8 77.9h0M68.6 67.3h0M73.6 81.4h0M69.8 76.7h0M67.5 76.8h0M80.3 67.9h0M58.1 70.9h0M64.1 72.0h0M62.0 87.6h0M73.3 65.0h0M80.2 71.7h0M69.3 81.7h0M58.5 80.2h0M60.1 79.5h0M75.9 65.9h0M62.5 78.4h0M73.5 72.8h0M77.4 68.0h0M62.6 80.6h0M70.9 71.9h0M79.4 79.2h0M68.9 78.4h0M80.9 65.5h0M64.2 76.3h0M77.0 74.4h0M71.9 76.0h0M84.0 70.7h0M62.9 82.8h0M75.3 76.7h0M69.6 74.3h0M65.1 72.0h0M71.1 73.3h0M73.5 69.2h0M67.2 74.4h0M66.9 83.2h0M70.5 79.1h0M65.0 81.6h0M59.5 82.9h0M70.5 79.7h0M73.5 73.5h0M79.0 71.1h0M78.3 74.5h0M71.4 74.5h0M73.9 72.0h0M78.1 76.4h0M77.7 69.2h0M63.3 82.0h0M74.4 79.3h0M69.3 76.6h0M76.6 69.5h0M75.6 81.4h0M84.6 68.9h0M72.1 70.6h0M76.6 72.2h0M72.8 72.3h0M72.0 74.6h0M78.3 77.9h0M71.0 67.9h0M61.8 75.5h0M68.3 81.3h0M73.9 71.0h0M72.6 71.3h0M59.0 78.5h0M70.0 84.3h0M66.1 86.4h0M81.5 67.2h0M70.7 73.5h0M74.0 77.3h0M75.0 78.2h0M81.8 69.6h0M74.7 73.1h0M72.2 69.7h0M75.9 73.5h0M71.7 86.7h0M63.5 77.8h0M69.7 67.5h0M63.2 74.7h0M65.3 80.1h0M77.5 76.8h0M81.1 74.4h0M75.5 70.4h0M79.2 67.4h0M71.9 83.3h0M78.6 71.5h0M80.0 73.7h0M62.6 82.4h0M64.4 82.0h0M71.1 83.1h0M74.2 69.7h0M69.4 71.4h0M74.1 76.6h0M69.6 67.6h0M71.3 78.6h0M77.5 77.1h0M64.6 83.9h0M68.3 79.4h0M77.0 75.1h0M68.8 78.9h0M60.7 77.2h0M76.3 71.9h0M58.9 81.4h0M76.4 79.9h0M81.8 71.9h0M59.6 84.7h0M76.8 73.7h0M74.8 72.1h0M88.5 70.1h0M69.4 72.6h0M85.6 62.0h0M85.6 74.5h0M66.5 81.3h0M71.2 78.7h0M79.5 79.5h0M76.6 71.8h0M79.8 68.0h0M75.4 84.2h0M65.4 78.1h0M70.1 71.6h0M60.1 90.2h0M65.5 77.8h0M67.4 74.1h0M65.2 81.6h0M91.3 64.2h0M74.0 66.3h0M69.4 71.5h0M77.4 70.1h0M72.5 74.7h0M64.6 73.6h0M73.1 67.6h0M63.3 80.7h0M68.1 79.9h0M80.2 70.3h0M73.9 74.1h0M74.0 64.6h0M72.7 70.2h0M63.7 82.0h0M71.1 79.1h0M74.5 61.7h0M76.7 81.7h0M82.2 74.9h0M69.6 70.1h0M66.2 83.6h0M77.4 67.5h0M71.2 77.5h0M59.2 83.7h0M89.3 73.1h0M76.2 81.5h0M66.7 75.5h0M58.9 90.6h0M75.5 84.6h0M75.3 73.9h0M63.3 89.9h0M69.5 76.6h0M59.1 90.3h0M78.0 67.8h0M74.1 75.9h0M79.5 70.1h0M84.1 64.8h0M67.0 77.0h0M52.5 86.7h0M80.3 70.4h0M67.5 80.8h0M57.5 85.4h0M77.9 74.4h0M69.2 82.3h0M84.7 63.4h0M73.9 66.1h0M60.1 87.9h0M73.3 75.5h0M67.6 77.4h0M82.5 76.0h0M66.9 71.1h0M83.0 70.0h0M77.8 71.9h0M89.2 62.5h0M71.6 66.4h0M66.7 76.2h0M73.2 76.4h0M71.5 84.7h0M63.8 79.6h0M71.1 69.9h0M78.1 74.0h0M75.1 82.8h0M73.8 75.6h0M61.6 75.2h0M67.2 77.6h0M71.2 80.1h0M52.8 84.8h0M62.9 89.5h0M67.2 76.6h0M66.9 84.1h0M70.1 78.1h0M61.0 90.1h0M76.7 74.7h0M80.8 67.7h0M73.1 78.3h0M74.9 72.0h0M71.6 73.3h0M79.9 74.1h0M77.2 81.0h0M61.0 82.9h0M83.6 64.3h0M64.6 88.4h0M73.5 68.3h0M75.5 67.6h0M62.6 82.1h0M66.4 74.3h0M67.5 74.0h0M72.9 74.7h0M76.7 69.5h0M59.8 78.3h0M74.6 81.3h0M77.0 68.4h0M76.4 66.2h0M78.8 68.3h0M79.6 72.8h0M71.4 77.7h0M64.8 80.8h0M90.4 82.0h0M77.8 71.5h0M68.0 84.1h0M58.8 81.8h0M72.1 69.3h0M86.2 70.0h0M67.1 76.5h0M59.7 78.0h0M77.2 74.6h0M75.7 74.0h0M69.5 79.4h0M62.1 83.3h0M73.2 98.2h0M37.8 90.4h0M72.5 102.7h0M52.3 101.7h0M33.4 100.4h0M53.1 89.0h0M42.5 102.3h0M55.5 79.8h0M47.3 79.2h0M31.1 83.0h0M30.8 99.9h0M59.0 86.8h0M29.0 102.8h0M59.5 95.0h0M62.0 86.4h0M24.2 91.7h0M54.2 83.0h0M31.8 81.9h0M28.3 103.3h0M51.6 79.9h0M27.1 90.6h0M53.1 79.5h0M39.3 73.4h0M26.0 99.9h0M59.0 78.4h0M34.8 101.6h0M38.6 88.4h0M55.2 91.7h0M66.2 94.8h0M36.3 92.8h0M42.6 80.0h0M31.8 103.8h0M50.7 89.5h0M56.1 94.1h0M65.6 83.9h0M41.9 90.4h0M79.4 93.5h0M30.2 92.1h0M34.5 94.4h0M52.2 84.0h0M42.8 87.9h0M49.0 100.5h0M55.5 101.2h0M57.8 99.4h0M45.7 84.3h0M58.9 95.7h0M77.6 66.7h0M45.0 101.9h0M25.0 94.3h0M84.3 96.8h0M67.6 94.5h0M53.2 92.6h0M30.9 90.4h0M58.9 90.5h0M76.6 82.3h0M51.8 94.2h0M46.0 84.4h0M70.1 80.7h0M57.8 86.8h0M53.0 87.2h0M58.8 88.3h0M42.6 91.3h0M27.1 89.1h0M58.4 94.6h0M45.3 85.7h0M54.8 74.5h0M40.5 90.9h0M32.8 96.2h0M34.0 87.2h0M78.0 92.1h0M66.8 88.1h0M64.2 95.4h0M43.5 95.0h0M39.4 61.2h0M23.6 97.1h0M56.3 84.6h0M68.1 99.3h0M76.9 89.9h0M43.5 89.2h0M47.9 86.8h0M66.3 95.0h0M68.3 92.8h0M33.5 93.4h0M60.8 85.3h0M39.4 104.2h0M59.4 89.1h0M44.0 96.6h0M62.3 95.8h0M42.8 96.9h0M62.5 95.8h0M33.7 92.7h0M51.7 99.5h0M57.0 88.7h0M37.4 96.8h0M73.7 89.5h0M40.3 92.4h0M65.4 92.4h0M44.3 100.8h0M54.4 91.4h0M52.5 93.2h0M40.5 89.2h0M45.6 83.5h0M43.0 92.6h0M44.8 92.7h0M47.5 92.5h0M35.4 103.0h0M37.4 103.6h0M63.2 87.2h0M36.5 97.7h0M29.8 96.4h0M37.2 99.0h0M60.0 81.4h0M72.6 81.1h0M72.4 85.8h0M34.8 87.7h0M39.3 72.0h0M60.4 85.8h0M44.8 103.2h0M45.5 85.4h0M54.3 84.9h0M69.2 96.1h0M49.2 97.1h0M55.9 87.6h0M61.5 86.8h0M55.5 81.5h0M49.5 95.3h0M33.1 91.1h0M39.5 100.3h0M35.9 98.4h0M73.1 89.8h0M63.9 85.8h0M66.7 93.6h0M53.6 88.3h0M38.1 91.6h0M49.2 96.4h0M53.6 87.9h0M49.0 95.2h0M33.5 93.1h0M42.2 90.8h0M34.0 101.1h0M48.8 76.6h0M45.4 82.1h0M74.7 82.1h0M40.9 94.2h0M43.9 92.3h0M73.5 88.6h0M63.3 99.1h0M60.6 98.1h0M34.5 102.3h0M53.2 85.9h0M86.4 89.0h0M43.7 94.7h0M64.6 98.8h0M59.3 100.8h0M69.5 76.0h0M37.5 85.5h0M51.7 104.5h0M56.3 80.6h0M44.4 102.2h0M38.4 93.1h0M49.0 75.0h0M61.0 92.4h0M55.0 81.5h0M33.5 89.6h0M51.7 91.8h0M67.7 81.2h0M72.9 81.7h0M43.0 93.8h0M31.2 86.5h0M42.3 101.0h0M39.5 91.9h0M37.1 81.7h0M67.7 66.2h0M37.5 99.3h0M25.3 102.4h0M66.6 80.1h0M48.8 81.6h0M56.0 91.1h0M53.5 103.4h0M57.7 102.3h0M55.7 79.3h0M52.6 95.5h0M49.2 95.1h0M32.6 95.9h0M51.7 88.2h0M44.7 73.2h0M67.9 77.5h0M34.5 99.8h0M32.7 97.8h0M31.7 101.5h0M32.5 100.6h0M55.6 75.7h0M26.2 85.8h0M28.6 82.8h0M49.9 96.5h0M24.4 91.8h0M47.0 90.0h0M37.1 101.7h0M62.6 95.1h0M75.4 82.4h0M47.4 102.9h0M34.7 98.4h0M46.7 85.7h0M40.4 79.0h0M34.4 76.4h0M87.9 97.2h0M68.2 90.4h0M66.1 99.7h0M65.8 96.5h0M32.8 99.0h0M36.0 83.5h0M28.9 99.8h0M62.1 76.3h0M78.9 98.8h0M39.9 89.3h0M47.7 100.9h0M38.6 83.6h0M48.9 72.6h0M51.5 101.7h0M53.6 97.8h0M56.6 96.7h0M47.9 84.2h0M43.1 92.1h0M71.0 101.9h0M52.6 83.9h0M34.5 92.9h0M70.7 90.0h0M44.6 85.5h0M62.2 91.4h0M46.3 93.1h0M74.7 84.6h0M77.4 97.0h0M49.5 99.6h0M43.4 85.1h0M40.8 85.0h0M55.5 90.3h0M58.0 97.3h0M32.6 96.0h0M66.5 72.1h0M50.0 90.6h0M46.6 87.4h0M37.1 77.5h0M30.8 92.1h0M40.5 92.7h0M30.6 100.5h0M36.4 81.7h0M32.7 91.5h0M62.0 93.3h0M41.4 93.4h0M37.6 98.3h0M57.3 81.0h0M50.5 92.8h0M40.2 98.7h0M66.2 98.3h0M44.2 94.3h0M84.0 74.0h0M52.4 99.1h0M50.7 97.2h0M51.3 98.0h0M67.9 85.5h0M50.2 90.8h0M40.3 93.3h0M29.6 102.6h0M78.5 101.0h0M66.4 79.0h0M70.9 80.3h0M30.7 103.2h0M51.4 89.7h0M33.2 98.8h0M41.2 102.8h0M64.8 75.5h0M38.0 91.0h0M25.3 86.3h0M48.1 89.9h0M53.4 79.5h0M65.9 73.1h0M25.2 100.1h0M26.7 94.0h0M40.5 98.5h0M41.2 77.5h0M56.5 96.5h0M42.3 90.0h0M56.5 101.1h0M50.5 96.2h0M45.5 88.8h0M32.2 97.5h0M41.6 90.9h0M63.4 93.0h0M58.5 75.1h0M55.2 84.8h0M32.0 87.4h0M68.7 95.0h0M33.0 84.5h0M46.4 87.9h0M71.9 73.3h0M47.4 93.1h0M40.3 88.4h0M60.7 86.7h0M66.7 88.1h0M72.8 89.6h0M28.2 90.1h0M53.1 98.7h0M79.4 84.6h0M41.0 83.1h0M64.1 91.9h0M38.4 100.2h0M52.8 73.6h0M59.6 90.6h0M39.7 89.7h0M78.9 99.3h0M75.2 75.4h0M37.8 102.3h0M25.6 89.9h0M65.5 92.3h0M49.9 87.6h0M41.5 98.8h0M37.2 86.1h0M68.3 86.1h0M55.5 86.4h0M52.9 94.7h0M46.5 80.9h0M59.0 76.0h0M37.8 86.7h0M42.3 100.8h0M37.5 99.2h0M55.3 74.5h0M26.9 92.7h0M37.7 96.8h0M59.1 87.9h0M24.0 96.9h0M39.1 98.9h0M46.9 98.7h0M52.3 77.0h0M57.0 78.7h0M46.8 83.6h0M40.0 95.1h0M44.5 89.0h0M82.8 84.5h0M32.6 103.6h0M62.9 99.9h0M75.0 77.4h0M66.8 98.3h0M47.5 94.2h0M73.4 70.0h0M38.6 96.4h0M59.6 104.3h0M58.8 77.4h0M69.9 92.1h0M52.8 87.9h0M41.6 84.2h0M50.4 88.4h0M41.7 92.3h0M60.3 91.4h0M26.8 95.1h0M54.0 86.2h0M67.6 94.8h0M31.1 98.3h0M82.9 98.7h0M47.7 100.1h0M33.1 81.6h0M56.7 92.2h0M55.5 90.0h0M51.5 86.3h0M56.4 97.7h0M47.6 99.4h0M74.3 102.4h0M51.0 90.2h0M26.6 99.7h0M57.2 76.2h0M57.2 94.3h0M52.2 80.5h0M53.2 76.9h0M72.0 87.9h0M65.0 82.2h0M81.8 75.4h0M54.4 101.3h0M45.9 92.1h0M29.7 98.7h0M26.7 87.4h0M37.3 82.8h0M70.7 74.7h0M33.9 91.9h0M48.5 99.0h0M60.0 86.4h0M40.7 93.7h0M62.0 95.2h0M34.6 75.7h0M84.4 92.8h0M52.0 94.1h0M36.5 85.0h0M41.1 91.2h0M33.9 81.4h0M42.9 98.2h0M38.8 93.9h0M42.7 81.6h0M34.5 99.2h0M41.2 99.0h0M38.5 79.9h0M44.9 89.4h0M57.1 85.7h0M42.1 101.0h0M67.8 94.6h0M65.1 92.3h0M61.5 97.0h0M53.8 91.1h0M46.8 89.9h0M40.9 93.0h0M48.9 81.2h0M51.5 101.7h0M75.5 89.3h0M35.6 83.6h0M33.9 95.2h0M48.0 97.7h0M41.6 94.1h0M33.9 90.5h0M73.1 88.0h0M51.2 82.1h0M69.4 80.2h0M60.5 90.1h0M33.0 104.4h0M47.6 93.5h0M54.5 90.2h0M41.6 97.4h0M40.4 94.0h0M33.1 81.2h0M34.9 90.0h0M49.5 102.4h0M34.4 74.0h0M48.1 90.7h0M42.7 85.0h0M76.1 91.5h0M43.1 103.8h0M50.8 97.1h0M49.0 82.1h0M63.4 90.0h0M28.8 88.9h0M62.2 85.4h0M49.0 97.6h0M46.3 78.1h0M59.4 98.0h0M64.4 103.2h0M54.5 97.6h0M72.9 83.8h0M79.1 101.1h0M59.5 81.2h0M66.5 90.9h0M54.2 91.9h0M70.6 92.1h0M36.3 98.7h0M57.8 83.0h0M39.1 90.2h0M37.6 97.2h0M68.8 96.8h0M68.5 99.7h0M42.0 99.4h0M52.1 89.7h0M38.5 89.2h0M40.2 82.1h0M55.6 90.0h0M49.4 94.6h0M57.9 84.2h0M42.2 78.2h0M69.1 70.5h0M57.6 103.3h0M79.5 93.8h0M87.6 89.1h0M35.9 99.2h0M37.2 82.1h0M38.1 93.7h0M36.3 95.6h0M42.4 89.3h0M24.4 83.9h0M35.4 97.3h0M83.7 94.0h0M78.5 89.9h0M43.3 80.7h0M43.3 73.2h0M54.9 100.9h0M38.4 81.3h0M38.7 90.3h0M34.4 91.6h0M44.3 89.6h0M26.9 97.3h0M54.2 94.2h0M27.2 95.4h0M30.0 93.3h0M38.9 88.6h0M26.6 80.3h0M76.8 88.3h0M46.9 97.4h0M50.1 102.5h0M56.5 93.2h0M43.9 95.5h0M63.0 69.8h0M44.7 88.9h0M38.9 75.8h0M58.2 82.1h0M42.9 88.5h0M42.4 93.2h0M48.3 90.8h0M84.0 88.5h0M26.2 91.1h0M36.3 92.9h0M36.0 86.8h0M75.1 86.7h0M41.5 91.1h0M57.7 100.4h0M44.9 77.0h0M56.3 84.8h0M67.5 99.0h0M57.7 80.4h0M87.3 73.0h0M43.7 79.7h0M70.4 91.5h0M62.6 89.9h0M46.9 94.0h0M62.2 85.5h0M48.1 94.9h0M74.7 90.5h0M47.5 87.6h0M48.5 89.8h0M50.4 98.5h0M55.6 93.1h0M59.1 91.6h0M48.2 96.5h0M28.0 104.2h0M50.2 102.0h0M46.7 83.8h0M66.1 90.1h0M50.0 92.6h0M66.1 95.9h0M79.5 55.9h0M82.1 63.0h0M91.5 53.6h0M86.7 64.4h0M82.9 61.3h0M79.4 56.3h0M88.4 57.6h0M78.8 59.3h0M88.5 63.5h0M77.7 61.1h0M80.1 54.9h0M73.5 70.0h0M79.9 63.3h0M82.3 64.3h0M80.7 60.4h0M83.6 64.6h0M89.9 58.8h0M76.0 49.2h0M78.6 64.7h0M79.2 55.8h0M89.8 55.1h0M81.5 64.2h0M79.7 60.5h0M84.0 57.4h0M76.0 65.7h0M79.7 58.6h0M84.9 52.3h0M80.2 65.5h0M87.4 55.0h0M79.2 66.6h0M86.6 47.9h0M85.6 58.3h0M81.8 60.4h0M85.4 65.0h0M82.7 55.6h0M85.5 50.4h0M86.6 58.3h0M89.2 56.3h0M87.5 55.9h0M88.3 57.3h0M89.6 49.2h0M89.5 56.6h0M82.4 58.6h0M80.7 55.0h0M80.4 69.0h0M81.9 71.7h0M83.2 62.8h0M85.1 61.6h0M81.3 61.2h0M86.2 64.1h0M91.8 58.9h0M84.3 58.7h0M79.0 70.2h0M85.5 55.9h0M90.6 60.5h0M87.1 63.1h0M79.4 55.0h0M80.5 62.0h0M82.9 56.2h0M78.9 60.4h0M83.6 61.2h0M89.7 58.4h0M84.9 60.7h0M84.3 60.6h0M81.9 47.3h0M83.8 62.5h0M84.5 52.8h0M87.5 61.5h0M76.0 58.0h0M78.5 59.4h0M83.4 55.7h0M90.8 53.0h0M78.9 63.2h0M80.5 66.9h0M88.6 53.4h0M84.2 54.2h0M91.8 65.4h0M81.9 70.5h0M82.3 50.6h0M75.0 64.9h0M86.0 55.3h0M85.1 63.4h0M84.7 60.9h0M85.7 65.2h0M85.7 68.7h0M79.8 60.3h0M87.4 59.0h0M76.6 70.5h0M75.8 64.9h0M83.9 55.0h0M83.7 58.2h0M90.7 51.7h0M75.6 63.4h0M80.4 65.3h0M86.4 63.4h0M84.5 60.4h0M84.3 59.0h0M87.0 61.5h0M84.8 55.9h0M74.2 66.9h0M76.9 53.2h0M83.0 64.2h0M77.8 60.6h0M86.5 65.5h0M85.0 52.0h0M90.9 46.1h0M79.0 59.3h0M79.7 57.1h0M86.7 63.7h0M83.4 59.2h0M86.6 51.5h0M86.2 55.7h0M84.3 60.0h0M83.7 60.2h0M78.6 63.0h0M84.7 58.6h0M76.7 64.4h0M80.5 63.9h0M84.3 60.3h0M80.8 64.0h0M69.2 59.8h0M78.0 56.9h0M75.9 62.2h0M82.0 54.9h0M82.8 58.4h0M73.6 62.6h0M86.2 59.8h0M91.8 62.1h0M85.1 60.4h0M83.0 61.8h0M79.1 60.3h0M85.1 47.0h0M85.5 60.9h0M80.7 57.8h0M80.9 60.7h0M78.8 65.8h0M79.8 61.4h0M82.4 55.1h0M82.9 57.4h0M84.9 59.2h0M80.9 57.4h0M77.4 62.4h0M85.9 62.1h0M85.6 54.8h0M78.3 56.5h0M71.8 69.0h0M75.6 60.1h0M77.7 70.5h0M74.7 60.4h0M92.4 50.8h0M83.8 64.2h0M84.8 68.6h0M73.0 64.7h0M80.0 59.7h0M83.4 50.5h0M80.8 65.0h0M88.0 61.0h0M90.9 65.1h0M81.5 63.7h0M85.1 56.3h0" fill="none" stroke="#000" stroke-width="0.75" stroke-linecap="square" stroke-opacity="0.36"/>
</g>
<rect x="52.40" y="33.40" width="39.30" height="37.30" fill="none" stroke="#7a7a7a" stroke-width="1.0" />
<clipPath id="cp1"><rect x="96.5" y="33.0" width="70" height="72.0"/></clipPath>
<g clip-path="url(#cp1)">
<ellipse cx="140" cy="56.5" rx="19" ry="7.5" transform="rotate(-20 140 56.5)" fill="url(#cg)" opacity="1.0"/>
<ellipse cx="124" cy="66" rx="6" ry="5" transform="rotate(-40 124 66)" fill="url(#cg)" opacity="0.6"/>
<path d="M134.7 54.8h0M128.7 52.7h0M129.0 49.9h0M141.2 45.2h0M153.4 49.5h0M134.2 65.6h0M142.9 58.2h0M132.1 65.4h0M129.1 60.4h0M115.3 60.5h0M144.9 51.0h0M135.0 62.5h0M140.8 63.3h0M108.7 70.7h0M142.7 44.9h0M124.0 67.1h0M123.9 57.5h0M146.4 51.2h0M143.7 48.8h0M145.3 60.6h0M139.0 42.1h0M147.8 53.2h0M130.2 68.1h0M120.2 74.8h0M134.1 67.8h0M135.9 48.7h0M141.1 57.4h0M148.4 59.3h0M128.4 63.0h0M148.3 50.9h0M125.0 55.0h0M150.6 56.9h0M125.6 52.4h0M152.2 41.3h0M139.6 50.7h0M116.4 65.0h0M139.6 64.9h0M154.7 56.9h0M130.5 53.6h0M159.5 46.2h0M138.2 54.4h0M136.2 53.2h0M151.5 59.4h0M131.4 50.0h0M136.8 47.4h0M133.3 65.9h0M126.8 65.4h0M108.3 62.8h0M160.6 52.9h0M117.7 53.2h0M150.2 51.6h0M132.2 61.1h0M127.7 47.9h0M148.4 48.5h0M123.3 53.3h0M140.8 50.2h0M146.8 51.5h0M152.5 48.6h0M126.6 48.0h0M126.2 65.2h0M126.3 62.8h0M144.0 49.9h0M136.9 46.6h0M137.1 62.4h0M160.2 47.2h0M136.7 59.7h0M154.6 53.4h0M130.1 61.5h0M150.4 47.3h0M122.7 65.2h0M145.9 59.6h0M139.0 51.9h0M131.4 52.3h0M125.7 57.3h0M135.1 64.5h0M123.1 61.5h0M134.5 67.1h0M141.9 52.6h0M150.0 52.5h0M136.1 66.8h0M152.1 62.3h0M156.0 54.8h0M138.8 49.3h0M148.7 53.0h0M148.1 52.7h0M128.2 53.6h0M151.1 59.9h0M136.5 59.9h0M155.7 44.7h0M132.6 51.3h0M155.3 51.8h0M129.9 48.9h0M139.0 62.4h0M134.6 55.0h0M145.2 46.0h0M141.3 59.1h0M127.5 55.0h0M142.4 54.2h0M136.7 58.2h0M140.4 49.7h0M131.6 61.7h0M156.8 58.2h0M130.6 66.1h0M149.3 52.2h0M147.5 58.3h0M160.6 41.6h0M147.0 52.3h0M139.1 63.4h0M148.1 46.4h0M136.3 58.6h0M122.8 67.5h0M138.9 57.2h0M147.6 64.5h0M139.3 53.8h0M161.2 44.9h0M129.9 50.7h0M154.2 52.4h0M146.0 54.7h0M136.2 52.2h0M130.3 62.1h0M144.5 64.5h0M128.7 56.9h0M129.1 68.5h0M125.1 66.1h0M158.0 48.4h0M144.7 40.7h0M131.2 48.6h0M141.8 55.2h0M131.5 64.9h0M143.2 51.4h0M129.9 50.2h0M141.5 68.7h0M131.2 61.7h0M134.1 63.1h0M144.9 52.6h0M115.4 61.6h0M154.7 48.9h0M146.8 50.3h0M116.2 67.2h0M142.6 51.2h0M135.4 59.3h0M132.6 60.7h0M132.2 43.8h0M136.5 53.3h0M129.6 62.2h0M134.4 61.3h0M154.2 51.6h0M118.0 59.2h0M151.0 50.2h0M129.0 59.3h0M146.7 55.0h0M146.4 48.3h0M135.6 55.9h0M135.1 44.4h0M133.9 49.6h0M160.9 58.1h0M163.2 52.5h0M135.3 63.6h0M138.3 60.3h0M126.8 57.0h0M149.4 63.7h0M144.0 68.7h0M137.4 50.8h0M136.8 53.7h0M140.8 61.7h0M152.5 53.0h0M140.0 56.6h0M142.6 58.6h0M140.8 58.8h0M124.3 66.6h0M162.9 48.7h0M124.1 70.2h0M129.4 40.9h0M138.2 60.4h0M147.3 61.1h0M148.1 53.7h0M111.8 59.1h0M143.5 58.9h0M125.2 57.4h0M142.0 43.1h0M114.0 63.9h0M142.1 52.1h0M110.0 67.0h0M123.8 65.9h0M139.0 57.9h0M147.1 50.0h0M153.1 59.0h0M147.7 61.5h0M133.5 64.1h0M141.3 49.2h0M137.7 53.4h0M132.8 59.1h0M153.0 49.2h0M138.5 47.2h0M143.6 61.9h0M151.3 54.8h0M131.0 53.0h0M135.9 49.0h0M125.7 67.1h0M131.5 70.4h0M122.1 65.2h0M124.9 62.5h0M126.4 61.2h0M136.9 54.2h0M149.6 62.0h0M133.9 63.7h0M140.9 55.4h0M164.0 33.5h0M127.3 49.1h0M135.3 56.2h0M165.9 54.7h0M135.1 60.8h0M161.9 49.0h0M143.6 57.8h0M118.6 58.6h0M145.3 57.4h0M127.2 58.5h0M137.9 55.7h0M149.1 53.3h0M139.1 47.3h0M126.7 62.8h0M119.6 65.1h0M129.5 54.6h0M146.9 49.1h0M127.2 56.3h0M146.1 71.1h0M112.1 65.9h0M138.5 62.5h0M129.9 43.9h0M154.8 43.6h0M136.1 48.6h0M124.4 58.4h0M152.6 56.6h0M132.9 61.6h0M135.0 58.4h0M142.9 58.7h0M131.3 58.2h0M142.6 55.4h0M132.7 69.4h0M135.1 62.4h0M144.7 61.8h0M115.2 77.9h0M134.3 50.1h0M145.9 68.0h0M143.7 46.7h0M136.2 65.7h0M120.8 61.6h0M140.1 69.5h0M138.4 64.7h0M129.1 54.7h0M153.9 54.7h0M118.3 67.8h0M146.7 49.5h0M143.0 56.4h0M132.0 55.0h0M130.2 57.6h0M122.1 62.1h0M120.1 63.5h0M136.3 50.6h0M154.6 62.8h0M154.0 42.0h0M156.6 51.1h0M137.6 52.9h0M142.2 63.8h0M145.8 51.1h0M129.9 56.8h0M150.9 63.6h0M125.7 61.0h0M132.9 53.6h0M145.8 57.2h0M118.9 56.9h0M155.7 52.1h0M145.3 50.7h0M135.5 60.3h0M130.7 52.1h0M141.3 61.0h0M128.2 66.8h0M146.9 47.8h0M139.5 55.7h0M149.1 56.7h0M119.8 54.6h0M153.1 51.7h0M145.6 55.9h0M157.0 42.0h0M152.0 46.2h0M151.7 60.0h0M122.3 64.8h0M135.3 55.7h0M137.9 49.9h0M128.3 64.2h0M149.3 48.8h0M125.2 75.8h0M154.5 52.8h0M124.9 57.6h0M140.7 49.5h0M160.6 49.1h0M142.5 48.4h0M126.1 55.9h0M142.5 53.2h0M136.4 59.1h0M145.4 63.2h0M134.9 51.3h0M142.3 64.2h0M132.4 58.9h0M135.7 59.9h0M141.2 50.3h0M138.4 62.3h0M155.5 55.9h0M150.0 50.1h0M136.7 62.8h0M124.2 61.2h0M114.7 62.6h0M127.9 52.6h0M145.5 49.2h0M134.2 56.3h0M132.8 67.3h0M133.5 59.4h0M121.7 59.5h0M134.7 55.8h0M132.2 59.5h0M159.4 47.9h0M136.9 54.5h0M148.1 57.3h0M130.0 58.5h0M142.5 55.6h0M126.9 55.7h0M146.8 55.3h0M112.5 66.4h0M154.6 46.4h0M139.7 46.8h0M148.0 45.9h0M122.7 60.1h0M124.2 64.5h0M145.8 64.1h0M120.0 53.1h0M136.2 59.5h0M146.3 60.3h0M118.6 58.4h0M139.5 61.2h0M144.8 51.4h0M128.1 65.6h0M157.2 66.5h0M140.5 65.8h0M122.9 58.6h0M129.9 56.6h0M127.2 57.1h0M137.9 53.7h0M147.9 52.4h0M142.5 64.1h0M143.9 55.4h0M139.4 56.4h0M145.3 48.9h0M157.5 59.3h0M153.4 47.8h0M118.1 61.0h0M143.2 59.8h0M136.6 55.2h0M157.8 45.1h0M155.1 56.0h0M123.0 63.8h0M130.5 53.4h0M112.6 56.0h0M144.1 51.9h0M140.9 48.8h0M134.9 56.0h0M116.3 54.0h0M145.5 54.7h0M127.3 59.8h0M151.8 63.0h0M129.4 63.5h0M153.3 34.8h0M158.2 49.1h0M116.9 69.1h0M155.5 57.7h0M155.0 50.2h0M129.0 56.9h0M139.9 58.4h0M133.4 58.5h0M151.5 53.7h0M123.6 58.2h0M120.3 55.7h0M144.6 47.9h0M125.5 59.4h0M149.2 50.2h0M136.8 62.7h0M146.6 56.3h0M149.8 45.9h0M141.1 51.5h0M154.5 55.7h0M128.8 68.3h0M126.8 68.0h0M140.4 50.2h0M124.5 59.6h0M137.8 52.2h0M144.0 45.6h0M139.5 56.0h0M116.0 66.5h0M118.2 48.1h0M131.1 57.6h0M150.3 49.0h0M161.5 57.0h0M156.4 58.2h0M143.0 51.2h0M149.9 58.3h0M142.1 53.5h0M120.6 67.1h0M141.5 47.1h0M142.3 59.5h0M139.7 60.8h0M146.3 44.2h0M136.6 60.1h0M154.3 59.5h0M114.5 64.7h0M151.3 59.4h0M159.6 42.8h0M132.6 51.9h0M147.5 44.7h0M156.8 55.6h0M141.5 41.6h0M132.3 63.3h0M120.6 61.3h0M140.0 61.4h0M143.8 56.2h0M133.8 58.1h0M139.3 60.7h0M139.3 62.6h0M119.9 70.7h0M139.6 63.1h0M142.3 60.3h0M157.8 45.8h0M140.2 54.6h0M138.9 46.0h0M136.8 55.4h0M128.9 58.6h0M122.3 71.1h0M149.1 64.4h0M125.8 53.6h0M139.8 45.3h0M141.0 51.0h0M135.7 59.0h0M143.9 66.1h0M145.1 45.8h0M149.5 43.9h0M138.1 48.6h0M131.4 67.2h0M130.9 55.0h0M131.5 56.9h0M155.8 42.6h0M124.5 65.0h0M118.0 61.5h0M154.1 50.6h0M131.7 54.3h0M126.3 57.0h0M143.7 62.2h0M150.8 48.2h0M131.3 63.3h0M114.8 62.1h0M132.8 51.3h0M127.1 62.6h0M115.9 58.7h0M131.0 59.5h0M123.6 68.5h0M134.7 56.0h0M133.1 53.9h0M128.7 67.0h0M141.5 54.4h0M150.6 47.3h0M147.3 53.1h0M129.0 64.4h0M120.9 66.6h0M128.3 62.4h0M158.0 52.6h0M131.1 58.6h0M131.8 51.2h0M124.6 61.4h0M142.3 43.6h0M138.9 59.1h0M138.2 49.8h0M149.7 44.3h0M150.4 61.8h0M112.8 67.0h0M143.2 55.7h0M128.1 57.8h0M120.9 63.2h0M144.3 49.7h0M125.7 57.7h0M138.6 56.3h0M137.4 56.8h0M116.2 47.0h0M149.4 60.9h0M118.9 58.9h0M144.4 59.8h0M149.5 59.9h0M138.7 58.5h0M143.0 51.6h0M155.3 53.7h0M150.4 49.2h0M149.7 45.3h0M138.3 39.6h0M127.0 64.7h0M133.0 59.0h0M120.7 72.1h0M146.1 53.0h0M144.5 55.8h0M157.2 50.5h0M119.0 61.4h0M156.2 53.0h0M134.3 61.3h0M141.2 58.7h0M116.3 58.4h0M146.6 51.6h0M146.9 65.1h0M135.0 58.7h0M130.1 55.1h0M134.6 48.3h0M114.2 73.3h0M139.4 62.6h0M140.4 56.2h0M148.5 56.7h0M125.4 68.2h0M126.4 61.6h0M159.2 46.2h0M146.5 53.3h0M142.2 49.3h0M127.4 62.1h0M116.7 58.6h0M145.5 49.5h0M124.9 54.0h0M139.7 53.2h0M140.1 54.2h0M161.4 44.9h0M113.6 65.7h0M138.8 56.8h0M120.2 69.6h0M138.0 55.8h0M119.1 65.9h0M140.4 63.6h0M130.7 51.1h0M138.3 50.3h0M141.7 48.0h0M136.4 55.3h0M137.0 53.3h0M128.0 59.4h0M131.4 59.5h0M130.5 44.9h0M140.5 63.8h0M143.6 57.8h0M143.4 51.2h0M123.1 66.5h0M153.1 54.1h0M144.7 56.1h0M138.7 57.5h0M139.3 57.6h0M125.2 56.9h0M145.1 51.4h0M108.0 67.8h0M113.3 76.9h0M149.0 56.3h0M127.9 52.9h0M135.9 57.0h0M129.1 60.3h0M148.5 56.0h0M121.1 49.0h0M137.3 52.3h0M147.5 62.8h0M159.9 49.9h0M155.9 59.7h0M139.7 57.2h0M149.3 51.8h0M130.9 54.2h0M137.5 52.5h0M148.1 50.5h0M159.5 55.8h0M125.3 67.4h0M136.4 65.2h0M145.1 53.3h0M146.1 49.9h0M143.7 56.5h0M137.7 58.7h0M127.4 63.5h0M124.9 64.8h0M146.2 57.6h0M137.9 74.8h0M136.4 57.8h0M132.3 67.1h0M135.0 63.4h0M127.8 61.9h0M136.2 62.6h0M133.8 52.7h0M142.4 47.5h0M128.7 64.4h0M117.3 68.5h0M132.4 52.9h0M143.5 58.2h0M131.6 57.7h0M150.7 56.4h0M137.1 52.1h0M126.4 57.1h0M148.9 56.0h0M145.8 62.0h0M134.9 55.3h0M138.3 67.9h0M114.4 66.8h0M145.1 54.3h0M147.3 47.7h0M145.0 51.7h0M140.5 56.8h0M134.8 61.5h0M161.8 54.1h0M138.6 44.7h0M155.2 56.8h0M136.4 54.3h0M146.3 48.7h0M147.5 46.7h0M128.4 60.2h0M121.7 62.6h0M143.8 46.6h0M150.2 48.8h0M147.0 54.7h0M133.2 55.3h0M117.4 60.0h0M133.5 68.2h0M149.8 44.2h0M150.2 53.6h0M136.1 60.1h0M148.6 49.4h0M136.8 58.1h0M128.1 61.4h0M137.6 52.8h0M130.1 61.4h0M151.4 53.8h0M130.8 63.8h0M143.2 58.4h0M152.5 46.0h0M137.1 53.5h0M133.0 70.5h0M148.1 42.5h0M144.1 51.2h0M154.3 51.3h0M138.1 57.5h0M144.7 54.4h0M137.0 56.3h0M144.1 47.8h0M139.7 55.4h0M135.4 62.1h0M123.4 59.8h0M130.6 62.7h0M134.3 58.4h0M141.7 45.9h0M144.1 50.0h0M136.6 56.5h0M151.3 56.3h0M162.0 49.0h0M133.2 55.5h0M151.1 61.5h0M143.1 51.4h0M143.9 56.1h0M139.0 51.9h0M107.8 64.5h0M153.3 52.4h0M112.9 65.9h0M121.1 74.7h0M140.0 48.8h0M148.3 48.3h0M146.9 53.6h0M126.8 64.8h0M126.1 69.0h0M138.8 50.3h0M120.8 72.6h0M155.4 42.9h0M160.5 49.5h0M137.1 56.5h0M139.4 64.7h0M138.3 45.6h0M125.9 59.0h0M129.0 60.3h0M145.3 55.5h0M131.1 54.5h0M150.2 51.7h0M166.1 41.7h0M149.8 52.7h0M133.3 66.6h0M139.8 50.7h0M138.0 62.8h0M127.6 68.7h0M147.9 51.5h0M160.0 59.1h0M147.7 54.2h0M165.6 55.6h0M128.2 59.1h0M136.6 54.8h0M123.3 67.5h0M141.2 56.1h0M156.3 46.7h0M139.8 57.7h0M134.5 57.4h0M149.4 52.5h0M155.0 46.1h0M139.7 47.5h0M137.2 52.8h0M158.3 53.8h0M149.8 63.5h0M159.2 53.3h0M128.7 51.4h0M138.9 54.2h0M131.4 57.4h0M122.4 71.4h0M124.6 57.6h0M143.9 44.8h0M153.2 56.8h0M134.0 51.7h0M130.5 48.3h0M157.3 50.0h0M129.1 54.5h0M150.0 61.4h0M123.1 58.7h0M119.5 67.6h0M146.3 67.3h0M137.6 54.2h0M132.8 63.8h0M121.2 67.4h0M142.1 52.2h0M130.8 65.7h0M162.3 45.2h0M150.0 62.9h0M131.8 57.5h0M124.5 60.7h0M138.2 54.1h0M127.7 50.9h0M121.3 56.9h0M147.0 50.4h0M130.6 63.4h0M145.6 49.4h0M133.5 62.4h0M142.9 49.9h0M143.0 54.7h0M152.2 46.3h0M151.9 54.3h0M129.4 66.3h0M148.8 44.8h0M162.6 40.8h0M127.8 58.5h0M150.8 55.6h0M141.5 63.8h0M147.8 61.7h0M106.7 65.4h0M126.6 61.4h0M138.8 48.9h0M124.9 59.9h0M132.4 42.8h0M152.4 51.7h0M140.5 57.7h0M126.9 60.4h0M155.3 57.1h0M145.3 52.3h0M132.2 67.0h0M145.8 51.3h0M110.6 61.3h0M117.9 71.8h0M140.9 51.0h0M141.6 71.5h0M152.9 43.0h0M135.9 49.8h0M118.2 65.0h0M139.8 53.7h0M144.7 60.8h0M117.4 52.5h0M164.8 48.7h0M161.2 49.8h0M157.9 45.7h0M149.6 62.3h0M152.3 48.6h0M150.2 48.1h0M122.6 65.6h0M159.9 54.1h0M125.4 66.8h0M147.9 50.2h0M109.7 73.4h0M152.6 54.6h0M114.4 55.9h0M154.8 55.7h0M145.9 52.3h0M144.0 51.1h0M134.2 52.6h0M142.5 52.4h0M153.9 55.5h0M133.1 70.2h0M126.2 63.9h0M156.8 58.0h0M113.1 72.1h0M158.9 58.3h0M109.5 62.8h0M137.8 54.0h0M156.2 45.8h0M157.3 53.3h0M118.9 57.4h0M134.0 58.8h0M152.7 50.2h0M148.7 42.8h0M99.2 68.7h0M145.3 51.8h0M127.6 63.2h0M165.2 46.2h0M128.7 54.7h0M165.8 46.4h0M150.6 59.9h0M152.3 45.6h0M154.3 56.2h0M148.5 59.3h0M132.5 58.3h0M134.7 62.8h0M132.2 61.3h0M125.4 60.6h0M135.0 57.1h0M141.4 54.3h0M132.9 45.4h0M153.3 47.2h0M135.1 52.5h0M151.3 46.1h0M149.1 60.2h0M164.1 54.8h0M145.7 46.3h0M159.4 56.5h0M152.7 56.5h0M140.0 52.7h0M156.9 58.0h0M128.3 66.1h0M145.1 59.8h0M146.0 61.0h0M155.4 56.1h0M123.8 67.2h0M138.5 49.4h0M146.7 45.0h0M155.4 61.3h0M135.5 63.6h0M147.5 57.5h0M123.8 65.9h0M143.6 59.5h0M142.7 62.1h0M145.3 58.5h0M158.6 50.5h0M153.8 52.6h0M146.1 50.6h0M153.0 59.2h0M141.0 60.8h0M143.8 47.8h0M147.7 61.7h0M130.5 48.4h0M141.8 51.5h0M165.0 46.8h0M139.2 52.6h0M142.6 51.7h0M128.7 59.9h0M132.7 67.2h0M125.3 61.1h0M128.8 51.6h0M157.8 36.6h0M156.5 41.4h0M146.3 68.1h0M110.3 58.4h0M157.8 50.8h0M133.4 58.4h0M128.3 61.2h0M159.0 46.9h0M144.8 62.0h0M165.0 43.4h0M143.3 51.5h0M131.4 56.8h0M128.9 49.4h0M113.4 61.3h0M144.7 62.1h0M133.4 57.6h0M150.5 57.0h0M139.0 56.3h0M164.0 45.4h0M131.0 49.3h0M145.6 52.5h0M164.5 45.2h0M152.9 57.4h0M159.1 41.1h0M160.7 48.8h0M138.6 54.8h0M134.8 56.0h0M111.5 69.8h0M139.4 50.5h0M144.3 69.0h0M144.6 52.1h0M160.9 43.6h0M137.4 53.7h0M139.0 61.2h0M146.5 49.3h0M139.0 57.1h0M135.2 57.7h0M129.8 55.4h0M139.0 50.1h0M145.5 53.0h0M127.4 57.0h0M134.0 57.4h0M141.5 54.3h0M132.2 67.9h0M152.3 52.4h0M153.3 53.4h0M137.3 57.7h0M153.0 49.0h0M152.6 65.6h0M148.0 59.9h0M157.8 53.7h0M161.0 50.0h0M145.5 50.3h0M144.6 63.1h0M134.2 58.3h0M130.5 59.8h0M136.6 60.8h0M137.6 53.3h0M136.4 56.7h0M135.8 63.5h0M149.3 53.7h0M126.3 64.4h0M124.5 63.0h0M139.9 52.6h0M128.5 56.1h0M166.0 45.1h0M139.7 62.2h0M147.8 59.8h0M122.7 55.8h0M137.0 58.2h0M150.6 45.0h0M143.9 54.6h0M149.3 53.9h0M131.9 53.8h0M111.4 72.6h0M121.0 60.6h0M160.7 46.1h0M147.7 52.1h0M149.3 53.0h0M136.6 65.7h0M134.4 50.0h0M137.3 60.5h0M127.9 65.4h0M154.3 64.0h0M133.6 62.6h0M118.4 61.4h0M142.5 57.7h0M139.5 55.8h0M131.8 56.4h0M145.4 57.6h0M150.4 58.5h0M151.9 40.8h0M133.5 57.5h0M134.3 64.6h0M149.6 52.0h0M144.4 62.3h0M135.4 55.9h0M152.8 54.4h0M159.0 51.5h0M148.8 49.6h0M128.5 60.3h0M107.7 70.4h0M152.8 52.0h0M139.8 62.9h0M141.8 61.5h0M153.2 54.4h0M144.1 56.4h0M143.4 61.6h0M119.6 62.0h0M147.0 48.5h0M137.7 52.8h0M147.6 58.7h0M159.7 52.1h0M131.9 60.7h0M150.3 61.0h0M114.2 67.8h0M118.8 68.2h0M147.0 56.7h0M152.3 54.0h0M133.0 60.9h0M155.3 49.9h0M138.4 49.4h0M154.0 48.0h0M130.2 57.0h0M129.1 58.6h0M158.0 54.5h0M161.2 57.5h0M130.1 62.7h0M163.7 61.5h0M119.8 54.8h0M145.6 52.1h0M128.7 62.6h0M126.0 47.4h0M140.3 56.8h0M150.2 58.2h0M142.2 53.9h0M128.8 50.2h0M136.8 63.4h0M152.6 64.1h0M134.9 47.1h0M152.8 57.8h0M122.5 52.7h0M143.6 59.2h0M125.6 59.3h0M128.3 53.2h0M124.0 62.8h0M134.3 54.1h0M111.0 77.3h0M128.2 59.6h0M126.7 63.3h0M121.5 63.4h0M139.7 61.8h0M125.2 57.5h0M141.4 68.4h0M122.3 64.3h0M132.6 60.7h0M148.7 53.8h0M144.0 56.3h0M132.4 57.5h0M118.7 61.7h0M130.0 58.2h0M150.2 54.7h0M148.2 59.8h0M111.0 69.2h0M139.6 55.6h0M124.8 64.9h0M156.5 56.3h0M140.3 59.8h0M155.3 61.6h0M155.8 51.2h0M141.6 56.5h0M142.0 52.3h0M148.4 48.8h0M130.7 61.6h0M132.4 57.3h0M115.6 69.8h0M139.7 55.3h0M146.3 55.0h0M135.2 70.0h0M136.3 63.3h0M161.8 44.3h0M139.6 51.2h0M152.6 49.4h0M128.8 68.1h0M149.8 47.0h0M155.3 51.6h0M132.5 57.1h0M129.3 60.7h0M142.1 59.7h0M138.2 47.7h0M132.6 67.3h0M154.2 49.9h0M138.0 55.7h0M137.0 46.9h0M150.0 48.4h0M136.9 41.7h0M145.6 62.1h0M114.9 74.4h0M144.5 49.9h0M122.4 69.5h0M144.4 58.0h0M135.0 53.0h0M149.1 46.9h0M148.0 42.9h0M125.5 52.4h0M153.0 40.6h0M127.0 64.8h0M147.2 66.8h0M164.4 50.9h0M145.1 43.0h0M128.3 58.3h0M135.1 49.4h0M126.6 55.7h0M154.2 53.4h0M135.3 56.0h0M142.3 50.9h0M133.3 47.9h0M150.3 58.1h0M145.5 56.9h0M148.6 65.3h0M140.0 47.9h0M128.2 64.6h0M154.9 55.3h0M150.9 53.2h0M119.8 59.0h0M116.4 62.2h0M123.0 62.8h0M134.0 46.3h0M150.7 56.7h0M122.7 63.2h0M148.4 51.1h0M151.1 53.1h0M153.8 52.1h0M138.8 59.5h0M150.3 53.7h0M132.6 53.8h0M134.0 54.6h0M142.8 56.0h0M138.8 56.4h0M145.1 63.7h0M153.9 47.3h0M144.5 52.3h0M138.1 55.1h0M129.2 51.5h0M109.0 68.4h0M153.0 45.6h0M145.4 51.6h0M141.7 50.3h0M136.6 56.5h0M110.0 68.1h0M133.1 43.1h0M147.9 52.8h0M143.0 57.0h0M132.3 52.1h0M133.2 55.7h0M132.6 56.0h0M144.9 57.6h0M128.9 53.7h0M166.3 52.8h0M116.3 53.5h0M129.5 61.0h0M145.9 51.6h0M119.4 64.7h0M147.3 53.2h0M134.4 61.4h0M136.6 50.1h0M138.2 48.5h0M152.8 54.1h0M127.2 61.8h0M151.3 38.4h0M141.0 65.7h0M119.4 62.3h0M121.2 62.2h0M105.5 58.3h0M132.9 59.2h0M145.2 56.5h0M155.7 54.4h0M147.1 47.1h0M143.9 74.2h0M151.0 58.0h0M138.3 68.7h0M134.5 57.3h0M163.4 34.3h0M140.7 44.8h0M130.9 58.5h0M135.3 58.6h0M129.4 59.0h0M123.4 59.4h0M122.9 66.1h0M124.2 65.9h0M133.6 56.2h0M155.1 51.0h0M116.0 67.7h0M102.5 71.2h0M131.5 50.1h0M139.9 53.9h0M164.7 44.0h0M129.9 54.3h0M156.5 49.0h0M141.1 53.8h0M123.0 59.6h0M123.9 52.0h0M139.4 67.3h0M160.5 48.0h0M142.4 58.2h0M157.9 51.3h0M132.5 56.1h0M159.7 65.2h0M127.2 47.5h0M150.0 51.7h0M143.9 62.2h0M137.7 48.2h0M113.8 65.1h0M125.0 63.1h0M122.1 60.1h0M119.6 61.0h0M134.9 61.4h0M156.8 48.5h0M132.3 71.1h0M145.6 57.7h0M150.5 61.2h0M154.2 55.0h0M147.9 47.5h0M131.4 58.3h0M140.9 55.6h0M143.7 54.7h0M130.7 48.9h0M151.8 55.3h0M129.1 63.0h0M144.9 54.5h0M113.0 58.0h0M135.0 67.9h0M127.6 58.1h0M124.0 58.5h0M139.9 42.7h0M103.7 73.3h0M138.8 52.4h0M154.3 56.8h0M111.7 65.1h0M152.8 46.9h0M137.4 62.8h0M133.6 50.5h0M127.9 51.8h0M143.3 43.6h0M149.4 41.9h0M137.2 47.5h0M137.5 63.2h0M157.0 58.0h0M138.7 57.0h0M143.9 58.3h0M136.6 64.1h0M146.2 60.9h0M147.3 57.5h0M129.1 57.1h0M122.0 60.5h0M139.0 61.5h0M129.7 80.2h0M140.6 63.7h0M148.1 36.8h0M139.2 65.5h0M109.3 71.9h0M126.6 57.7h0M138.7 44.4h0M140.8 51.4h0M131.2 63.5h0M146.8 53.0h0M130.6 60.9h0M159.9 49.8h0M150.8 50.4h0M148.4 56.2h0M140.8 48.4h0M124.1 60.1h0M138.3 48.7h0M126.6 64.2h0M151.9 47.9h0M128.8 55.2h0M140.7 62.0h0M109.1 79.4h0M117.9 78.3h0M111.7 76.0h0M110.3 85.5h0M124.9 65.8h0M108.2 73.9h0M123.2 91.0h0M130.5 41.7h0M118.5 73.1h0M121.3 67.4h0M118.7 74.2h0M138.5 97.9h0M118.5 82.4h0M118.3 85.5h0M116.7 82.4h0M125.0 96.0h0M117.7 100.8h0M124.9 71.5h0M108.6 71.0h0M118.0 88.3h0M130.1 78.4h0M111.0 91.5h0M130.6 79.8h0M117.8 101.4h0M122.5 83.4h0M99.2 95.8h0M124.4 86.3h0M120.4 66.8h0M119.4 81.9h0M132.4 70.4h0M130.9 86.8h0M132.3 73.7h0M118.4 99.5h0M125.7 65.1h0M115.5 89.5h0M113.9 62.3h0M124.9 71.9h0M129.1 70.0h0M108.2 69.8h0M134.3 75.6h0M119.0 86.5h0M108.8 95.2h0M119.7 89.4h0M112.7 57.9h0M99.1 75.3h0M115.6 92.1h0M132.2 83.3h0M116.2 88.6h0M134.4 76.3h0M125.5 81.6h0M114.5 93.0h0M117.3 68.4h0M125.1 84.5h0M118.2 81.2h0M124.9 79.8h0M124.4 90.3h0M127.0 102.5h0M127.2 82.7h0M122.8 76.3h0M142.6 86.6h0M119.6 101.7h0M112.1 70.3h0M120.1 70.2h0M111.8 74.4h0M127.4 95.3h0M120.0 83.9h0M104.7 88.8h0M126.8 70.8h0M122.1 81.5h0M119.2 70.0h0M117.8 70.3h0M122.2 89.1h0M123.0 81.9h0M101.4 94.7h0M122.4 85.2h0M116.7 79.8h0M115.4 63.7h0M124.6 62.5h0M122.6 99.3h0M98.5 56.9h0M121.3 86.8h0M119.3 89.1h0M122.7 96.0h0M133.6 87.6h0M132.0 65.0h0M123.0 68.0h0M128.4 68.4h0M118.9 83.8h0M117.8 97.7h0M136.2 52.3h0M132.1 80.2h0M110.8 100.3h0M122.4 65.9h0M109.5 81.6h0M121.9 104.4h0M120.2 77.4h0M134.0 81.3h0M130.4 89.6h0M122.5 81.2h0M123.8 78.4h0M115.1 80.6h0M113.9 86.1h0M121.4 80.6h0M119.1 80.4h0M133.4 87.2h0M116.3 78.7h0M125.7 82.5h0M119.6 80.1h0M119.9 88.9h0M128.8 64.0h0M120.5 48.5h0M122.4 99.2h0M129.5 88.1h0M128.9 85.6h0M124.1 64.1h0M115.8 74.6h0M115.0 87.4h0M124.6 74.5h0M109.1 70.6h0M109.9 76.7h0M119.4 81.1h0M117.0 89.3h0M109.7 92.8h0M106.8 80.9h0M125.5 74.5h0M105.4 88.3h0M112.1 92.0h0M125.8 85.1h0M116.6 96.0h0M125.9 72.7h0M119.3 90.9h0M120.8 86.4h0M119.1 81.8h0M117.5 63.8h0M130.7 78.0h0M126.6 65.3h0M123.9 73.6h0M146.1 77.0h0M109.3 93.4h0M135.7 59.6h0M118.9 95.1h0M108.2 89.6h0M119.2 70.0h0M118.7 77.1h0M118.9 73.3h0M126.7 84.4h0M131.0 83.0h0M122.3 85.5h0M121.8 81.3h0M113.5 104.3h0M116.5 75.4h0M115.3 90.0h0M119.8 96.1h0M108.7 84.1h0M119.5 79.6h0M127.7 59.4h0M121.5 85.9h0M109.2 79.5h0M133.0 81.9h0M125.2 82.0h0M116.7 70.5h0M112.5 98.9h0M128.5 76.5h0M127.9 84.0h0M113.1 87.5h0M118.1 62.2h0M135.9 63.5h0M129.1 65.7h0M120.3 81.1h0M123.8 55.5h0M119.2 82.9h0M113.2 80.9h0M129.9 76.7h0M125.7 69.9h0M120.7 92.3h0M135.8 99.9h0M118.5 102.0h0M108.7 94.9h0M117.8 74.8h0M127.5 88.8h0M134.8 68.4h0M123.7 77.7h0M124.2 59.5h0M126.3 88.2h0M116.9 65.0h0M108.7 99.2h0M120.3 79.4h0M123.6 84.9h0M119.2 93.4h0M119.5 95.3h0M110.7 82.1h0M116.9 84.4h0M121.7 75.9h0M114.2 94.8h0M119.9 67.4h0M121.2 97.0h0M117.5 84.9h0M114.3 79.7h0M125.7 96.0h0M122.0 80.8h0M106.6 84.5h0M120.0 97.8h0M134.0 92.7h0M130.9 72.2h0M126.3 97.1h0M128.1 95.0h0M118.6 103.1h0M112.9 90.6h0M130.8 76.6h0M109.9 87.0h0M119.0 91.8h0M127.4 76.0h0M118.9 98.6h0M118.3 79.9h0M108.9 91.9h0M139.2 71.3h0M122.8 96.8h0M117.1 78.5h0M114.7 72.5h0M119.2 92.5h0M118.1 94.9h0M125.4 70.3h0M127.1 101.7h0M108.9 104.5h0M123.2 86.8h0M142.7 57.6h0M105.7 89.7h0M121.3 72.2h0M129.9 93.3h0M112.6 73.7h0M104.2 83.4h0M123.0 62.2h0M124.1 64.4h0M110.8 103.1h0M121.4 95.0h0M123.5 90.0h0M131.3 72.1h0M114.6 94.2h0M116.1 77.6h0M118.3 73.3h0M123.7 89.0h0M113.1 90.5h0M124.1 86.7h0M122.9 98.8h0M138.9 104.0h0M113.7 87.1h0M122.6 77.8h0M121.3 88.2h0M121.4 78.5h0M131.7 66.7h0M126.4 86.4h0M130.1 56.0h0M138.6 66.8h0M111.5 90.8h0M116.9 78.4h0M104.7 74.7h0M119.6 93.4h0M117.3 86.7h0M125.7 77.2h0M109.7 98.1h0M115.9 102.9h0M113.7 89.7h0M123.4 82.5h0M125.1 75.8h0M120.9 79.6h0M126.3 85.1h0M110.9 77.3h0M122.4 73.3h0M128.9 92.3h0M129.1 77.0h0M113.9 96.3h0M108.1 86.3h0M122.5 78.7h0M124.4 71.6h0M125.9 70.1h0M105.9 99.3h0M121.9 57.2h0M130.1 77.1h0M126.1 90.9h0M133.7 86.6h0M128.1 73.5h0M116.4 103.9h0M123.5 87.7h0M106.4 76.0h0M107.8 91.6h0M113.4 87.6h0M110.8 84.0h0M139.5 92.7h0M111.5 90.5h0M124.9 97.5h0M104.5 83.3h0M97.7 103.8h0M122.3 79.1h0M123.7 92.1h0M105.8 102.4h0M124.2 62.4h0M128.0 94.1h0M110.3 94.5h0M131.7 98.6h0M135.0 78.4h0M124.9 98.4h0M114.2 61.5h0M114.4 84.3h0M124.4 82.9h0M120.1 83.2h0M118.9 92.2h0M124.2 85.1h0M123.7 79.7h0M128.0 80.1h0M132.9 87.8h0M124.9 75.9h0M117.0 86.1h0M122.5 77.1h0M111.2 82.9h0M119.6 91.9h0M130.8 83.4h0M105.4 78.9h0M110.4 65.0h0M126.2 94.0h0M117.4 75.5h0M125.4 62.7h0M125.1 81.4h0M137.9 75.4h0M130.2 78.4h0M131.4 74.7h0M127.4 80.8h0M114.4 81.2h0M122.5 90.8h0M129.6 98.3h0M101.3 74.4h0M106.2 75.9h0M129.5 69.4h0M110.7 84.2h0M112.7 104.0h0M120.9 92.1h0M135.4 82.2h0M123.6 72.4h0M118.8 98.3h0M130.9 87.2h0M117.3 73.8h0M109.1 83.5h0M138.7 58.0h0M98.8 97.9h0M106.7 85.7h0M107.9 92.1h0M125.7 88.6h0M126.5 87.2h0M131.0 78.9h0M114.9 80.3h0M118.3 85.4h0M113.4 91.9h0M119.4 89.6h0M118.3 92.7h0M105.7 102.3h0M121.5 91.4h0M121.4 99.9h0M125.2 89.5h0M124.4 64.0h0M123.0 81.6h0M105.8 81.9h0M126.5 99.7h0M134.2 71.7h0M110.8 90.9h0M121.4 88.1h0M124.7 82.7h0M123.5 76.9h0M121.7 79.0h0M127.1 67.9h0M107.3 87.9h0M125.4 73.6h0M122.1 71.6h0M141.4 69.8h0M136.4 78.5h0M124.5 82.8h0M114.3 96.2h0M127.7 83.3h0M130.8 90.0h0M117.1 88.4h0M117.0 100.5h0M112.9 83.6h0M109.9 100.1h0M134.6 87.9h0M119.8 104.1h0M121.2 73.0h0M126.7 93.8h0M113.9 103.2h0M128.2 63.5h0M123.3 85.3h0M135.0 89.0h0M117.3 90.4h0M127.0 68.2h0M122.4 81.5h0M115.0 70.9h0M116.1 75.4h0M114.9 84.6h0M133.2 71.3h0M114.7 59.0h0M124.5 104.3h0M114.0 61.7h0M117.7 99.4h0M127.6 89.9h0M124.6 90.9h0M124.1 71.4h0M122.0 65.0h0M116.9 99.2h0M106.8 96.9h0M135.3 94.5h0M114.3 72.3h0M122.1 68.6h0M111.6 79.5h0M117.0 92.6h0M125.6 98.8h0M131.7 76.3h0M128.7 85.5h0M121.3 88.3h0M115.1 81.3h0M116.8 78.6h0M127.2 74.3h0M125.7 88.3h0M123.3 98.2h0M127.9 95.9h0M126.5 84.6h0M127.9 75.2h0M116.0 94.3h0M118.5 90.9h0M107.6 100.4h0M114.6 89.2h0M117.1 97.1h0M120.8 72.0h0M106.8 77.6h0M109.4 89.6h0M139.1 60.4h0M109.4 86.6h0M128.9 91.8h0M121.2 92.4h0M129.3 71.0h0M116.0 87.0h0M115.0 80.4h0M118.7 75.5h0M127.1 81.9h0M114.4 74.1h0M117.4 104.6h0M131.5 59.3h0M126.2 75.4h0M113.5 69.0h0M139.6 69.2h0M111.7 98.7h0M131.4 65.2h0M121.3 78.6h0M116.3 94.5h0M117.0 80.1h0M138.0 65.1h0M115.9 90.5h0M112.8 74.8h0M109.7 84.6h0M112.9 94.0h0M128.2 88.1h0M116.6 87.8h0M125.0 70.1h0M128.0 90.4h0M131.2 69.7h0M130.1 68.3h0M120.9 84.6h0M122.9 82.8h0M125.8 80.5h0M124.5 77.1h0M117.8 98.1h0M114.3 92.7h0M114.7 78.7h0M114.3 100.6h0M110.3 99.1h0M109.5 80.2h0M125.1 96.0h0M116.7 67.7h0M131.5 71.1h0M126.7 79.9h0M129.6 99.1h0M108.5 86.4h0M121.1 84.1h0M136.7 66.2h0M122.4 87.5h0M110.4 82.9h0M128.4 57.5h0M112.5 69.9h0M123.3 98.9h0M124.2 89.5h0M102.4 83.3h0M112.4 99.0h0M123.1 97.0h0M112.0 84.0h0M107.6 94.0h0M111.7 79.9h0M115.5 77.5h0M125.8 78.9h0M125.5 72.8h0M133.5 79.9h0M104.6 67.4h0M114.7 99.6h0M115.2 88.9h0M112.7 90.7h0M108.0 93.2h0M103.3 54.7h0M134.0 91.1h0M124.7 101.7h0M114.9 92.1h0M130.0 65.0h0M125.6 83.9h0M126.0 104.5h0M117.3 76.0h0M119.6 93.8h0M117.5 82.7h0M123.7 91.7h0M128.7 90.5h0M119.4 60.6h0M127.8 82.5h0M118.6 80.6h0M109.2 76.7h0M101.1 74.3h0M124.6 83.2h0M119.1 94.7h0M115.1 80.4h0M127.6 59.8h0M116.3 97.7h0M116.7 80.3h0M114.2 68.7h0M99.3 95.1h0M109.9 87.3h0M125.1 77.3h0M121.0 83.8h0M116.2 84.5h0M124.2 71.8h0M112.9 71.2h0M116.4 103.0h0M130.9 92.1h0M127.4 88.5h0M128.6 88.9h0M124.4 82.0h0M110.7 82.3h0M112.2 96.0h0M135.8 84.7h0M131.0 64.3h0M118.6 83.5h0M99.4 88.6h0M122.9 88.9h0M114.2 73.3h0M113.5 89.7h0M107.3 101.7h0M130.9 57.3h0M133.2 90.5h0M115.5 84.9h0M104.9 83.3h0M104.1 66.1h0M126.7 104.1h0M120.9 71.4h0M127.9 86.1h0M119.7 93.3h0M108.8 92.7h0M98.1 99.2h0M109.8 73.1h0M112.3 92.7h0M124.9 91.0h0M122.9 91.9h0M126.3 59.5h0M109.7 49.6h0M120.6 81.5h0M118.3 87.2h0M121.8 71.0h0M114.7 56.5h0M126.8 99.1h0M110.2 78.0h0M114.7 85.5h0M135.6 64.3h0M114.4 82.4h0M126.5 88.9h0M109.4 93.8h0M127.1 79.1h0M121.8 64.3h0M116.5 95.7h0M126.2 94.2h0M128.9 78.5h0M112.1 99.2h0M126.6 75.0h0M121.3 96.4h0M125.5 87.4h0M114.6 88.5h0M133.3 90.0h0M113.5 87.4h0M109.4 84.7h0M114.3 96.3h0M117.3 98.4h0M139.4 86.5h0M111.8 88.6h0M118.9 86.0h0M113.3 90.3h0M128.2 56.2h0M117.0 88.2h0M131.6 79.3h0M109.6 97.6h0M114.8 84.4h0M121.3 95.0h0M124.1 69.8h0M129.7 80.8h0M130.9 72.4h0M117.1 80.1h0M120.8 57.7h0M123.8 96.2h0M123.5 79.6h0M119.6 93.1h0M112.9 77.7h0M113.2 92.2h0M126.7 67.9h0M111.8 84.2h0M110.7 99.2h0M121.1 78.4h0M111.5 78.5h0M124.4 94.8h0M104.0 101.7h0M121.8 70.0h0M123.3 76.4h0M117.6 74.8h0M121.1 77.5h0M104.6 87.3h0M111.7 98.6h0M122.2 93.3h0M117.0 101.4h0M120.9 70.6h0M132.3 49.6h0M116.4 86.2h0M112.3 99.6h0M125.3 87.1h0M113.0 97.5h0M116.1 77.3h0M123.9 93.5h0M137.0 85.7h0M102.7 88.7h0M130.7 84.7h0M116.4 76.5h0M108.2 88.5h0M123.7 93.5h0M112.8 71.6h0M114.2 60.1h0M114.8 60.7h0M117.1 89.2h0M125.1 85.1h0M114.7 82.5h0M125.6 81.4h0M121.5 80.2h0M115.7 83.4h0M107.5 95.3h0M106.0 86.7h0M103.9 100.7h0M129.7 75.4h0M120.3 68.5h0M118.1 89.2h0M145.1 71.8h0M131.9 79.1h0M119.1 96.0h0M122.9 90.6h0M118.5 83.5h0M117.1 99.8h0M110.0 74.5h0M113.4 68.9h0M109.9 96.5h0M110.3 82.4h0M109.4 87.3h0M128.1 94.3h0M127.4 83.9h0M111.2 54.2h0M117.2 91.2h0M131.3 82.2h0M119.7 87.5h0M128.7 85.4h0M107.6 95.6h0M121.9 89.8h0M109.9 81.2h0M113.3 54.4h0M119.6 77.9h0M119.5 103.8h0M112.7 92.6h0M109.5 82.9h0M118.2 80.6h0M131.2 60.9h0M123.7 73.8h0M119.6 89.3h0M118.3 78.4h0M109.0 88.6h0M113.1 88.3h0M104.0 98.6h0M107.9 96.7h0M114.6 90.1h0M116.5 92.4h0M115.7 100.4h0M123.0 94.2h0M135.6 78.6h0M130.1 87.7h0M106.6 87.0h0M115.9 83.6h0M128.4 60.0h0M127.5 72.3h0M125.4 63.6h0M120.8 86.7h0M126.7 81.7h0M111.1 79.6h0M116.6 74.1h0M123.9 67.9h0M116.9 81.3h0M117.0 79.7h0M128.3 92.2h0M110.9 75.6h0M128.2 77.2h0M120.7 83.8h0M124.8 82.8h0M121.8 72.6h0M126.0 72.8h0M133.8 87.4h0M115.5 93.7h0M119.0 85.0h0M122.1 74.6h0M115.1 73.0h0M131.1 78.3h0M118.3 77.4h0M110.8 89.1h0M122.0 80.4h0M128.4 68.7h0M125.8 88.6h0M106.6 102.4h0M122.7 100.7h0M109.4 77.4h0M113.7 90.9h0M137.3 62.4h0M120.6 82.4h0M128.0 85.6h0M110.6 78.8h0M114.5 71.8h0M122.0 77.9h0M127.4 65.1h0M130.1 68.9h0M105.9 68.3h0M132.1 80.0h0M125.3 102.3h0M115.9 99.7h0M124.9 76.3h0M111.1 79.9h0M132.5 68.7h0M105.4 87.6h0M114.0 92.5h0M139.7 69.3h0M118.2 81.8h0M118.2 98.0h0M130.1 88.2h0M117.5 82.8h0M117.9 101.5h0M111.4 89.0h0M129.4 104.3h0M125.7 73.4h0M114.9 80.5h0M123.3 81.5h0M111.0 71.4h0M121.2 95.8h0M110.2 76.4h0M108.7 73.2h0M147.8 92.3h0M119.3 75.7h0M116.8 57.6h0M120.6 80.4h0M137.3 66.1h0M118.8 102.1h0M102.3 88.3h0M105.5 87.3h0M131.7 87.1h0M124.7 75.7h0M118.4 99.2h0M119.0 81.8h0M120.3 95.4h0M106.9 81.3h0M112.9 88.9h0M127.1 90.2h0M133.6 74.0h0M120.2 70.4h0M120.1 85.4h0M122.6 68.0h0M120.9 78.2h0M125.7 81.8h0M128.4 89.4h0M105.9 77.9h0M105.4 93.4h0M131.4 86.7h0M128.5 66.4h0M104.1 72.1h0M123.2 64.0h0M119.6 88.2h0M127.7 81.0h0M118.8 92.0h0M107.2 98.9h0M127.9 83.0h0M123.4 97.9h0M130.9 100.5h0M119.3 93.5h0M110.3 91.3h0M106.4 86.2h0M129.8 65.2h0M139.2 73.4h0M130.1 79.5h0M124.8 76.3h0M136.2 102.7h0M131.7 98.1h0M125.0 87.6h0M116.1 91.5h0M121.9 82.6h0M110.2 77.4h0M126.5 79.5h0M123.3 83.2h0M115.0 70.5h0M115.2 79.0h0M114.2 98.2h0M118.6 55.7h0M127.1 79.9h0M129.7 95.1h0M127.2 87.9h0M129.8 78.6h0M116.1 76.9h0M111.3 98.1h0M115.2 97.9h0M114.3 96.1h0M120.2 80.5h0M119.4 86.5h0M120.3 65.6h0M134.9 83.0h0M113.6 51.4h0M100.0 70.6h0M136.6 66.3h0M124.0 60.1h0M127.6 91.6h0M118.1 102.6h0M129.7 101.3h0M120.2 66.2h0M117.9 59.7h0M135.2 86.0h0M120.5 87.4h0M138.2 81.6h0M128.5 91.0h0M125.6 59.5h0M130.1 76.9h0M115.7 86.5h0M117.0 99.3h0M114.3 85.3h0M122.3 85.5h0M126.5 82.8h0M132.2 78.0h0M108.9 81.0h0M131.4 80.5h0M116.4 78.8h0M122.1 82.7h0M128.6 63.1h0M130.1 95.4h0M108.6 100.5h0M118.7 104.6h0M105.1 103.6h0M127.7 58.1h0M127.2 82.3h0M112.9 79.7h0M102.7 88.0h0M119.4 80.7h0M131.3 88.1h0M118.2 70.9h0M116.0 98.3h0M119.2 70.0h0M127.3 87.4h0M109.8 84.6h0M107.1 77.0h0M121.0 100.4h0M107.2 92.7h0M126.8 84.7h0M139.8 89.9h0M111.7 88.2h0M100.0 100.8h0M129.4 81.6h0M123.2 92.9h0M137.7 80.8h0M117.0 55.6h0M123.3 63.7h0M117.4 89.5h0M119.9 71.5h0M130.4 84.6h0M118.7 97.4h0M113.0 69.9h0M140.6 87.9h0M112.8 79.1h0M119.9 67.5h0M117.0 83.5h0M118.2 91.5h0M111.6 61.6h0M128.0 80.6h0M128.8 91.1h0M107.1 88.5h0M111.2 85.8h0M117.2 93.5h0M119.8 95.5h0M101.2 74.1h0M120.9 91.3h0M111.3 93.7h0M128.7 87.9h0M119.6 79.5h0M117.2 100.1h0M133.7 81.7h0M115.5 72.4h0M127.2 89.6h0M120.9 91.5h0M123.6 83.8h0M114.1 74.4h0M119.8 89.9h0M118.7 78.5h0M132.6 81.5h0M123.0 81.0h0M118.6 63.2h0M118.8 72.9h0M130.9 71.6h0M114.7 92.2h0M117.6 90.7h0M132.5 65.0h0M120.2 71.4h0M131.3 86.0h0M117.1 84.8h0M124.3 82.0h0M127.3 97.7h0M127.9 87.3h0M118.7 79.3h0M122.9 62.8h0M120.2 95.8h0M121.8 78.2h0M119.7 87.6h0M112.2 87.4h0M125.3 87.0h0M121.8 71.0h0M113.1 92.3h0M133.8 79.3h0M122.1 92.2h0M127.2 89.8h0M120.6 96.9h0M110.9 82.7h0M113.1 55.8h0M119.0 63.2h0M120.7 98.3h0M118.2 82.2h0M119.2 80.7h0M120.0 89.3h0M119.2 73.6h0M113.4 93.6h0M111.9 102.1h0M113.6 101.4h0M113.2 73.2h0M122.2 91.7h0M119.7 88.3h0M110.1 104.3h0M125.4 91.5h0M106.2 85.7h0M115.2 88.5h0M129.8 76.9h0M118.9 96.1h0M122.5 80.7h0M114.2 73.8h0M106.9 94.3h0M125.1 69.4h0M124.5 68.2h0M134.2 68.3h0M113.9 85.6h0M120.1 72.9h0M117.0 80.4h0M115.1 86.0h0M120.9 74.4h0M125.9 63.6h0M137.2 65.5h0M118.3 88.5h0M122.5 88.6h0M133.7 72.9h0M119.1 86.1h0M118.3 75.9h0M132.5 78.1h0M117.3 79.9h0M117.9 86.0h0M117.3 88.7h0M119.6 90.7h0M133.5 76.6h0M134.4 82.2h0M124.7 87.8h0M124.4 59.1h0M135.1 78.2h0M110.5 96.1h0M130.7 96.7h0M119.5 94.4h0M109.4 83.8h0M122.8 78.7h0M127.0 66.6h0M122.7 102.3h0M109.6 83.5h0M130.6 92.8h0M115.5 69.8h0M111.6 82.5h0M115.1 79.2h0M122.6 84.4h0M119.5 81.7h0M128.6 86.7h0M115.4 95.7h0M109.7 91.5h0M125.8 94.7h0M118.7 83.8h0M107.4 79.1h0M119.4 95.7h0M122.5 79.7h0M113.8 82.0h0M117.1 99.6h0M121.8 78.1h0M120.9 78.1h0M125.6 56.4h0M111.9 66.2h0M123.9 84.3h0M117.3 99.0h0M108.3 96.3h0M125.4 76.2h0M136.2 69.6h0M112.2 79.4h0M123.8 82.7h0M104.8 76.2h0M130.2 88.6h0M110.6 86.3h0M110.5 84.4h0M124.2 80.0h0M123.1 80.7h0M110.6 102.1h0M125.5 81.6h0M113.6 84.9h0M121.6 96.0h0M129.8 93.0h0M126.2 96.9h0M135.2 68.5h0M118.9 77.1h0M133.1 72.0h0M112.6 102.4h0M126.3 80.8h0M138.8 71.6h0M124.3 82.3h0M124.9 81.8h0M113.0 85.1h0M108.3 88.1h0M114.6 95.0h0M118.9 75.0h0M119.0 100.3h0M103.9 81.4h0M129.5 67.9h0M111.2 90.3h0M115.9 74.6h0M136.3 76.0h0M121.1 53.8h0M115.8 66.7h0M129.1 102.7h0M126.5 83.5h0M124.9 90.5h0M120.1 60.8h0M113.1 82.2h0M119.8 74.3h0M131.0 72.9h0M128.4 80.0h0M124.6 70.5h0M122.6 74.4h0M106.8 80.3h0M116.9 94.3h0M125.6 72.1h0M123.6 52.1h0M107.2 97.9h0M129.0 96.6h0M120.4 92.0h0M129.5 63.6h0M109.4 97.0h0M128.2 89.5h0M118.9 78.7h0M119.0 71.5h0M104.8 82.0h0M117.3 80.5h0M131.1 94.9h0M112.7 89.8h0M105.1 94.0h0M122.7 82.2h0M119.5 103.3h0M119.8 70.9h0M136.1 88.6h0M133.7 78.7h0M125.0 76.9h0M125.8 81.9h0M109.7 102.0h0M129.4 59.5h0M121.3 72.2h0M112.6 74.3h0M116.3 83.5h0M120.2 59.3h0M113.0 93.9h0M107.5 88.9h0M125.0 79.4h0M124.9 75.3h0M120.4 70.5h0M119.0 102.1h0M110.8 97.5h0M106.6 68.6h0M106.5 103.4h0M112.9 92.5h0M103.9 81.2h0M124.5 84.7h0M98.5 80.6h0M121.8 102.2h0M128.7 63.7h0M115.4 94.9h0M111.8 89.4h0M116.0 84.2h0M128.2 76.7h0M141.5 91.8h0M125.1 75.4h0M121.4 80.8h0M113.9 61.8h0M122.5 83.5h0M106.9 51.7h0M117.9 82.5h0M128.9 69.7h0M125.6 81.4h0M116.6 81.2h0M125.7 93.0h0M129.2 77.2h0M121.7 68.8h0M117.1 77.9h0M114.0 92.0h0M120.7 94.4h0M117.4 97.7h0M117.6 96.4h0M121.4 94.3h0M123.7 68.3h0M121.5 90.4h0M120.3 77.9h0M146.0 75.9h0M119.7 83.2h0M115.5 65.7h0M115.7 78.2h0M113.5 93.2h0M109.5 86.6h0M128.3 98.3h0M121.1 44.6h0M124.9 92.0h0M111.2 98.9h0M116.5 84.5h0M110.9 85.9h0M118.4 76.8h0M127.6 88.9h0M106.1 89.6h0M129.3 75.3h0M116.8 83.9h0M117.7 85.0h0M126.7 79.2h0M138.5 79.4h0M138.3 89.4h0M122.2 70.1h0M128.2 88.5h0M112.1 87.3h0M128.3 95.4h0M133.2 103.1h0M123.5 84.5h0M120.2 100.4h0M123.1 99.0h0M119.1 94.1h0M129.9 84.4h0M104.2 103.0h0M126.0 79.7h0M122.6 81.4h0M107.4 78.2h0M108.3 83.6h0M115.3 98.0h0M117.8 88.4h0M119.0 78.6h0M105.9 93.5h0M123.3 77.0h0M123.0 79.2h0M113.6 85.6h0M130.3 83.1h0M111.1 73.3h0M136.6 77.5h0M130.0 83.5h0M126.1 84.2h0M109.2 75.6h0M136.8 86.7h0M125.5 80.9h0M117.9 87.8h0M120.5 81.7h0M119.3 66.2h0M105.3 89.0h0M126.3 82.4h0M130.2 65.9h0M123.7 73.8h0M132.4 75.1h0M123.7 70.7h0M126.7 68.9h0M119.0 64.1h0M119.1 72.2h0M131.0 75.3h0M143.5 70.5h0M136.8 77.4h0M125.5 68.0h0M132.8 57.7h0M125.4 70.1h0M131.3 62.6h0M129.5 65.6h0M124.3 75.0h0M124.2 64.2h0M121.7 69.1h0M133.5 69.0h0M130.8 71.5h0M128.1 73.7h0M120.6 65.8h0M126.2 73.2h0M132.5 74.6h0M120.7 74.4h0M125.8 64.3h0M127.4 67.3h0M128.0 78.8h0M126.6 79.1h0M122.8 67.0h0M121.8 69.5h0M125.8 74.0h0M125.7 81.7h0M136.6 73.7h0M115.4 62.5h0M125.0 71.2h0M127.2 66.7h0M128.3 71.0h0M129.1 83.3h0M124.8 74.8h0M129.2 63.0h0M134.4 77.5h0M131.0 75.7h0M130.1 70.1h0M129.9 66.6h0M131.0 75.1h0M131.0 71.5h0M123.6 73.9h0M136.2 70.3h0M127.4 66.5h0M127.5 74.0h0M133.7 65.7h0M132.0 64.5h0M128.9 61.6h0M124.7 64.5h0M132.9 70.5h0M121.6 69.7h0M120.7 64.6h0M121.2 69.0h0M136.4 73.9h0M125.3 70.1h0M126.9 66.9h0M130.3 74.8h0M128.7 68.9h0M131.6 78.6h0M126.2 72.5h0M121.9 70.6h0M127.0 67.9h0M130.4 68.6h0M113.9 63.9h0M129.7 64.1h0M133.8 65.3h0M127.3 75.0h0M127.1 70.9h0M127.0 75.9h0M130.3 64.1h0M132.7 61.7h0M122.8 61.7h0M128.8 85.8h0M138.0 70.7h0M122.5 76.5h0M130.0 69.0h0M125.7 64.8h0M123.1 65.3h0M128.2 72.8h0M124.0 71.3h0M126.5 71.5h0M132.5 68.1h0M124.1 62.1h0M129.9 74.9h0M123.1 70.8h0M129.5 79.2h0M123.5 68.1h0M134.7 73.1h0M133.8 72.9h0M128.4 68.7h0M124.4 69.1h0M127.2 73.6h0M128.0 70.8h0M130.2 67.8h0M119.8 70.8h0M116.4 64.9h0M123.8 64.2h0M119.0 69.2h0M130.2 65.8h0M131.5 66.4h0M128.6 74.0h0M130.8 68.6h0M122.3 71.2h0M122.5 72.6h0M134.1 76.5h0M136.1 68.6h0M132.6 68.0h0M144.5 68.1h0M139.6 63.3h0M133.7 73.5h0M129.9 70.8h0M127.9 77.5h0M131.7 73.3h0M120.3 62.6h0M134.4 73.7h0M119.4 69.7h0M125.9 69.8h0M128.3 83.5h0M129.5 63.9h0M122.5 77.5h0M138.8 67.4h0M128.8 62.0h0M123.1 62.4h0M137.8 66.3h0M112.8 68.3h0M130.4 69.1h0M129.2 73.8h0M137.1 65.2h0M120.5 75.1h0M119.9 70.5h0M128.6 68.2h0M123.8 73.3h0M126.9 75.0h0M128.5 72.6h0M129.8 74.3h0M127.4 70.4h0M126.3 72.5h0M131.4 87.9h0M125.7 72.6h0M124.2 69.3h0M127.5 66.3h0M121.0 65.0h0M119.9 67.6h0M129.7 58.1h0M124.5 74.3h0M126.8 57.6h0M122.4 75.5h0M123.7 62.4h0M117.3 71.3h0M130.6 67.4h0M130.3 67.1h0M130.1 72.9h0M128.3 71.4h0M122.1 70.1h0M128.7 67.4h0M127.5 75.4h0M129.9 68.2h0M128.4 76.5h0M134.2 58.2h0M118.9 71.3h0M119.4 67.2h0M126.6 77.7h0M136.8 74.0h0M128.8 65.4h0M129.6 63.7h0M122.0 65.7h0M136.4 70.7h0M124.8 70.0h0M128.7 70.8h0M131.3 67.6h0M123.5 61.8h0M119.7 62.7h0M140.0 70.6h0M134.8 72.8h0M139.1 67.8h0M120.9 74.1h0M115.6 73.8h0M123.0 73.9h0M125.7 64.4h0M127.8 72.1h0M126.5 69.6h0M116.8 75.7h0M131.8 68.6h0M121.0 73.5h0M125.0 64.6h0M127.2 64.1h0M126.0 70.5h0M135.0 61.3h0M128.3 75.1h0M126.7 72.4h0M120.2 78.6h0M122.7 64.1h0M132.0 64.5h0M121.9 64.5h0M119.3 72.6h0M123.8 77.1h0M128.6 64.2h0M120.0 73.3h0M124.3 74.1h0M126.7 67.4h0M132.0 74.5h0M132.2 62.1h0M129.5 66.5h0M128.6 79.2h0M129.7 69.3h0M128.4 68.1h0M130.5 81.5h0M132.1 68.3h0M136.3 72.7h0M129.2 73.3h0M128.9 73.9h0M136.1 81.9h0M128.3 73.5h0M128.2 66.9h0M130.9 66.5h0M126.1 71.3h0M129.4 77.9h0M133.9 72.4h0M123.6 75.5h0M125.1 72.8h0M133.6 67.0h0M131.3 75.7h0M138.7 75.2h0M121.8 77.4h0M122.7 67.3h0M123.6 64.2h0M115.6 73.0h0M133.9 79.4h0M120.4 66.9h0M118.8 74.7h0M127.3 71.4h0M119.2 71.1h0M119.6 78.0h0M111.1 62.4h0M134.1 68.5h0M130.4 70.4h0M127.9 78.2h0M131.0 82.1h0M121.4 60.7h0M138.6 76.2h0M130.8 75.7h0M124.5 67.7h0M122.6 83.9h0M127.5 73.1h0M119.8 69.4h0M130.5 64.6h0M121.3 65.4h0M131.5 72.9h0M125.2 70.6h0M128.4 80.3h0M124.7 71.2h0M133.3 63.5h0M118.2 70.7h0M133.2 79.3h0M127.7 68.2h0M136.0 73.3h0M130.4 79.0h0M132.8 69.3h0M119.4 78.5h0M132.1 64.2h0M136.9 62.8h0M126.2 76.0h0M132.1 72.9h0M132.0 76.7h0M126.2 72.4h0M119.9 70.3h0M126.0 66.3h0M125.3 70.5h0M131.8 72.7h0M134.8 72.2h0M126.5 66.8h0M120.3 73.5h0M117.7 64.1h0M127.0 56.1h0M131.4 71.4h0M137.0 82.7h0M124.9 66.3h0M131.5 60.5h0M118.3 70.0h0M125.5 72.3h0M123.2 61.8h0M137.9 79.2h0M124.5 71.7h0M135.2 73.3h0M121.5 67.7h0M128.2 78.4h0M122.9 56.9h0M114.7 71.2h0M123.6 76.8h0M136.3 78.4h0M131.4 67.9h0M128.9 62.0h0M122.5 74.7h0M125.1 59.4h0M134.7 71.1h0M126.5 72.4h0M127.1 71.2h0M127.8 63.6h0M135.3 70.6h0M123.6 57.8h0M123.3 79.3h0M122.8 68.7h0M119.6 66.2h0M123.9 67.5h0M127.2 74.3h0M127.6 79.1h0M129.0 88.9h0M124.8 77.1h0M131.4 67.0h0M130.3 67.0h0M122.3 77.3h0M130.1 63.6h0M118.8 72.7h0M130.3 70.3h0M134.3 69.0h0M121.9 58.9h0M136.7 62.9h0M129.8 65.5h0M127.5 70.7h0M139.9 71.9h0M138.0 77.2h0M128.3 73.7h0M131.2 77.5h0M131.8 74.4h0M126.4 54.6h0M137.6 64.4h0M119.1 62.0h0M117.6 60.2h0M127.6 68.9h0M133.7 62.5h0M136.7 71.9h0M135.0 62.0h0M124.9 60.3h0M122.5 72.3h0M123.0 64.3h0M129.1 74.6h0M125.5 70.8h0M129.9 79.4h0M135.7 65.1h0M134.1 78.2h0M127.2 65.3h0M120.3 71.7h0M134.2 60.0h0M139.3 60.5h0M132.3 76.9h0M128.5 72.6h0M119.0 67.6h0M125.9 73.5h0M117.6 62.9h0M129.2 67.6h0M124.4 68.0h0M125.4 84.9h0M128.2 74.1h0M137.9 70.7h0M128.8 69.4h0M132.8 73.3h0M128.5 66.0h0M131.2 70.3h0M131.5 68.7h0M134.2 66.4h0M131.7 67.3h0M122.0 67.4h0M129.5 73.1h0M132.6 65.4h0M123.9 69.3h0M133.5 66.2h0M129.0 75.1h0M123.3 74.9h0M127.3 69.5h0M127.3 78.4h0M129.4 58.2h0M131.0 72.6h0M135.2 60.6h0M124.3 73.1h0M136.2 63.7h0M136.1 77.5h0M111.0 66.8h0M134.6 70.7h0M124.6 77.0h0M129.0 70.9h0M123.0 70.5h0M124.8 73.1h0M133.7 78.7h0M124.2 60.5h0M135.3 75.4h0M133.4 74.2h0M130.7 73.4h0M127.4 76.8h0M127.7 80.6h0M113.7 65.0h0M129.4 67.4h0M130.1 71.6h0M124.4 65.9h0M130.2 70.9h0M137.8 77.7h0M125.4 72.7h0M128.4 66.0h0M121.0 71.3h0M131.1 65.2h0M127.5 64.5h0M127.1 65.3h0M125.1 73.3h0M134.0 76.8h0M123.6 77.8h0M139.7 71.1h0M123.8 68.1h0M127.2 73.0h0M130.1 71.0h0M126.1 63.0h0M118.7 67.9h0M122.3 74.0h0M139.2 80.9h0M130.2 68.3h0M130.7 61.9h0M133.2 73.5h0M132.7 69.3h0M121.7 65.3h0M125.0 67.7h0M130.2 67.1h0M123.8 60.6h0M128.5 62.8h0M116.4 68.7h0M130.0 77.4h0M126.2 62.1h0M127.9 69.2h0M117.9 70.5h0M116.6 72.6h0M114.4 75.0h0M121.2 69.3h0M129.3 78.2h0M127.6 72.3h0M134.5 71.8h0M128.5 65.2h0M120.6 69.9h0M126.2 71.6h0M132.0 75.4h0M134.7 78.8h0M130.1 64.3h0M120.0 53.6h0M135.0 67.4h0M122.9 60.8h0M136.9 60.5h0M131.9 75.8h0M121.8 67.8h0M135.8 65.5h0M137.2 82.0h0M143.4 62.7h0M145.4 84.2h0M157.3 70.7h0M155.4 90.1h0M137.9 69.6h0M134.1 89.6h0M111.4 63.4h0M112.3 100.9h0M127.6 93.4h0M129.7 81.7h0M128.6 74.1h0M145.0 82.5h0M128.7 60.2h0M130.1 70.3h0M116.8 94.8h0M107.1 77.1h0M135.3 96.5h0M116.5 84.6h0M129.7 63.8h0M134.8 81.5h0M103.1 70.8h0M118.5 74.9h0M112.2 82.0h0M112.4 71.0h0M110.6 76.7h0M115.9 85.0h0M128.5 67.2h0M156.3 63.3h0M113.3 99.0h0M148.2 84.8h0M126.5 72.2h0M145.8 69.6h0M142.4 72.1h0M133.7 64.6h0M118.5 66.9h0M113.4 82.7h0M122.2 82.7h0M146.0 78.3h0M126.3 94.6h0M141.9 93.6h0M121.3 89.2h0M101.4 98.5h0M132.1 87.2h0M118.8 80.8h0M114.1 88.1h0M103.3 93.9h0M124.4 78.7h0M128.2 80.5h0M123.2 64.2h0M106.9 71.9h0M120.2 63.0h0M106.0 75.9h0M137.1 77.3h0M136.1 93.9h0M137.5 74.0h0M118.4 53.3h0M113.8 86.7h0M107.2 99.4h0M148.4 74.7h0M140.1 59.7h0M107.9 74.7h0M125.1 77.3h0M129.8 84.1h0M136.1 82.5h0M121.2 72.0h0M98.2 101.4h0M110.0 56.2h0M111.8 57.1h0M157.6 85.2h0M148.0 100.8h0M134.3 88.2h0M113.2 78.8h0M115.1 80.6h0M113.6 98.1h0M137.5 78.5h0M97.7 89.8h0M139.4 79.0h0M104.4 86.2h0M142.2 52.6h0M134.2 54.1h0M126.5 86.9h0M119.8 79.9h0M163.4 99.0h0M119.9 74.6h0M128.4 95.9h0M119.1 61.8h0M146.6 78.9h0M112.2 70.1h0M114.1 71.3h0M99.9 97.1h0M131.2 93.9h0M119.4 84.9h0M127.7 96.7h0M138.3 85.1h0M114.4 62.9h0M112.0 71.0h0M116.2 62.4h0M152.0 83.8h0M103.2 83.4h0M142.4 66.0h0M135.1 76.1h0M143.7 99.4h0M130.1 90.2h0M125.0 74.7h0M106.1 84.6h0M123.9 74.5h0M123.8 77.4h0M108.1 72.5h0M143.5 76.7h0M147.7 63.6h0M103.0 81.8h0M137.6 70.7h0M135.1 93.2h0M142.4 78.4h0M124.2 56.6h0M125.4 84.0h0M147.9 62.0h0M111.3 65.8h0M139.6 44.1h0M135.6 61.2h0M124.0 92.0h0M133.9 76.9h0M112.2 91.8h0M124.9 91.5h0M131.4 73.4h0M148.3 72.9h0M132.0 71.0h0M121.3 76.5h0M114.3 83.4h0M148.2 77.6h0M148.5 85.9h0M154.0 62.2h0M148.9 71.5h0M143.7 73.4h0M139.7 76.0h0M121.1 80.3h0M113.2 77.0h0M128.6 68.4h0M100.5 84.3h0M119.6 92.5h0M116.5 89.1h0M110.6 83.8h0M126.5 86.3h0M109.9 78.3h0M111.3 77.7h0M125.6 90.1h0M126.8 96.0h0M132.5 94.7h0M147.2 56.0h0M129.9 81.1h0M117.6 69.7h0M127.1 54.8h0M137.1 90.9h0M130.7 75.4h0M125.1 73.5h0M143.5 87.2h0M157.1 74.9h0M148.4 72.0h0M122.3 65.4h0M133.5 79.2h0M135.1 101.0h0M124.2 85.4h0M139.5 79.3h0M116.3 85.1h0M133.2 91.1h0M138.5 70.7h0M132.2 97.4h0M117.7 85.2h0M115.2 82.4h0M153.0 82.5h0M109.6 85.0h0M128.6 95.8h0M103.1 67.2h0M123.9 58.3h0M143.3 51.7h0M111.8 59.4h0M114.6 91.4h0M134.8 93.1h0M134.8 51.6h0M130.0 54.2h0M117.0 74.6h0M116.4 87.0h0M112.1 104.4h0M134.7 96.7h0M137.3 92.6h0M108.2 86.6h0M125.2 77.0h0M130.2 69.6h0M139.1 91.1h0M126.7 90.5h0M108.5 54.7h0M115.8 76.8h0M165.1 76.9h0M141.7 92.0h0M159.0 81.8h0M135.6 77.4h0M111.3 66.0h0M112.6 100.2h0M129.7 78.0h0M125.4 72.2h0M124.6 79.6h0M135.6 92.9h0M98.9 83.4h0M147.2 65.8h0M121.1 82.5h0M142.8 88.5h0M121.6 87.2h0M141.8 85.6h0M154.9 86.1h0M108.3 69.2h0M123.0 77.2h0M135.1 85.1h0M152.6 91.5h0M149.0 69.5h0M118.3 89.8h0M126.7 89.0h0M129.2 71.5h0M152.5 96.2h0M100.3 71.6h0M125.6 89.7h0M124.1 61.1h0M138.6 77.3h0M144.5 84.5h0M141.3 91.9h0M139.4 73.1h0M141.7 83.1h0M105.3 74.7h0M119.9 86.8h0M136.3 64.7h0M136.9 79.4h0M108.4 92.0h0M113.2 63.6h0M137.4 92.9h0M114.8 95.1h0M141.4 73.1h0M157.3 79.5h0M129.0 47.0h0M135.6 71.7h0M132.4 56.5h0M143.9 100.7h0M155.6 39.1h0M134.8 85.2h0M124.1 100.3h0M112.2 83.3h0M124.6 85.6h0M119.2 93.0h0M141.1 61.5h0M143.5 70.1h0M121.2 96.2h0M127.2 88.6h0M138.2 88.9h0M117.1 67.3h0M136.6 91.2h0M131.4 78.0h0M139.4 80.3h0M103.9 84.6h0M133.8 91.5h0M111.5 70.2h0M131.1 74.5h0M124.8 93.8h0M130.5 104.7h0M126.3 79.7h0M146.9 73.7h0M118.7 84.4h0M132.1 61.5h0M130.2 76.7h0M125.8 83.5h0M123.2 96.1h0M134.1 78.6h0M127.6 95.7h0M138.9 98.9h0M124.2 83.2h0M158.5 80.8h0M153.2 93.1h0M119.7 61.9h0M136.7 71.6h0M115.3 57.3h0M145.5 82.8h0M127.0 86.9h0M130.5 82.8h0M134.9 77.6h0M133.4 81.8h0M151.9 62.1h0M133.3 58.6h0M120.2 90.1h0M107.4 89.2h0M160.3 100.8h0M126.2 86.0h0M111.6 83.3h0M121.4 67.6h0M128.0 67.3h0M120.0 102.1h0M152.4 72.9h0M129.8 93.8h0M121.2 65.1h0M111.2 81.6h0M114.4 63.4h0M122.9 94.4h0M137.5 78.3h0M156.9 70.5h0M125.4 62.5h0M139.0 79.7h0M99.9 69.9h0M155.2 91.5h0M128.4 93.4h0M101.2 69.9h0M105.5 69.9h0M120.5 88.7h0M142.6 95.0h0M126.2 88.4h0M113.4 77.4h0M133.0 69.1h0M134.0 98.4h0M108.8 49.6h0M127.8 66.8h0M129.2 75.0h0M131.3 97.0h0M139.4 76.3h0M107.9 46.7h0M127.9 71.8h0M116.8 58.9h0M100.0 57.0h0M136.0 53.4h0M136.8 68.3h0M134.4 84.1h0M137.8 97.2h0M113.2 67.0h0M118.6 69.7h0M136.0 78.8h0M125.5 86.1h0M117.8 95.5h0" fill="none" stroke="#000" stroke-width="0.75" stroke-linecap="square" stroke-opacity="0.36"/>
</g>
<rect x="126.50" y="33.40" width="39.30" height="37.30" fill="none" stroke="#7a7a7a" stroke-width="1.0" />
<clipPath id="cp2"><rect x="171.2" y="33.0" width="70" height="72.0"/></clipPath>
<g clip-path="url(#cp2)">
<ellipse cx="211" cy="55.8" rx="17.5" ry="9.5" transform="rotate(-35 211 55.8)" fill="url(#cg)" opacity="1.0"/>
<path d="M194.2 69.9h0M213.0 48.2h0M208.0 65.9h0M200.3 47.2h0M201.9 71.0h0M207.7 69.5h0M223.6 45.5h0M213.0 47.6h0M204.3 54.8h0M211.6 44.6h0M209.9 57.2h0M207.6 40.4h0M190.0 63.2h0M209.3 58.3h0M220.9 66.2h0M219.6 54.9h0M209.2 63.8h0M220.3 55.1h0M212.2 60.3h0M222.6 41.0h0M193.0 75.5h0M217.1 49.7h0M217.5 74.8h0M201.4 52.2h0M208.2 62.1h0M203.3 58.0h0M212.1 51.5h0M211.9 54.9h0M200.7 63.7h0M203.2 69.3h0M200.7 61.0h0M191.2 65.9h0M204.5 73.1h0M211.6 59.8h0M188.7 60.9h0M203.7 49.5h0M220.3 45.9h0M213.4 56.7h0M212.3 61.4h0M205.6 62.7h0M223.2 49.1h0M210.6 53.3h0M213.9 59.5h0M201.6 48.2h0M211.7 54.1h0M215.4 53.1h0M221.2 38.5h0M203.8 66.3h0M202.0 64.9h0M202.7 45.0h0M222.5 59.2h0M207.1 46.7h0M214.1 44.8h0M211.1 59.2h0M196.4 51.8h0M209.1 56.7h0M199.3 57.4h0M217.4 50.5h0M203.7 55.9h0M212.6 55.4h0M203.4 49.4h0M204.5 55.0h0M215.7 62.1h0M222.2 53.2h0M210.3 53.5h0M211.9 51.1h0M204.0 53.6h0M209.7 56.0h0M230.4 46.8h0M209.9 62.9h0M210.0 64.9h0M229.3 67.0h0M199.9 62.9h0M210.6 58.5h0M213.5 45.8h0M204.8 62.6h0M215.4 43.3h0M200.2 72.8h0M222.8 56.5h0M200.5 61.4h0M214.4 57.0h0M209.2 56.6h0M218.5 46.9h0M203.7 57.3h0M206.2 60.2h0M206.8 55.0h0M225.2 48.3h0M212.2 65.3h0M205.3 59.7h0M207.4 53.5h0M207.2 59.0h0M195.5 63.4h0M213.9 55.9h0M222.4 66.9h0M216.2 50.9h0M209.4 56.8h0M213.5 51.5h0M220.5 40.1h0M218.4 54.6h0M202.2 67.0h0M213.3 48.9h0M235.0 44.7h0M205.6 55.6h0M204.5 62.3h0M205.7 47.9h0M198.0 59.0h0M205.3 56.7h0M206.7 63.9h0M219.7 50.2h0M189.4 69.6h0M215.4 51.9h0M213.4 54.8h0M186.9 52.0h0M214.3 49.1h0M213.2 51.7h0M214.1 64.6h0M199.2 63.8h0M200.5 63.6h0M217.4 56.5h0M206.6 47.5h0M216.2 59.3h0M227.9 61.2h0M211.8 46.8h0M205.9 59.9h0M215.9 43.0h0M221.5 53.6h0M204.7 65.0h0M203.3 61.0h0M208.5 59.3h0M201.5 66.6h0M188.7 68.0h0M211.2 68.3h0M213.6 49.9h0M202.3 62.1h0M213.1 72.3h0M184.8 74.5h0M191.5 77.7h0M209.1 70.0h0M209.5 65.5h0M216.9 61.2h0M199.4 39.7h0M197.8 52.3h0M221.4 52.8h0M212.3 58.5h0M210.1 51.6h0M229.6 44.6h0M203.1 49.3h0M204.7 60.2h0M207.0 54.6h0M205.7 50.3h0M204.7 47.6h0M199.6 57.6h0M220.5 53.0h0M206.8 49.3h0M209.8 63.0h0M216.6 39.8h0M206.9 59.4h0M213.8 53.8h0M211.2 43.8h0M220.7 39.6h0M213.1 58.5h0M224.9 53.3h0M223.6 57.3h0M212.0 61.1h0M222.1 41.8h0M193.7 59.7h0M228.6 53.6h0M208.2 59.7h0M219.1 58.7h0M190.9 65.3h0M209.4 59.5h0M210.2 53.8h0M203.5 40.1h0M216.5 46.6h0M222.5 64.5h0M228.1 44.5h0M199.7 65.1h0M211.2 62.7h0M198.0 63.4h0M211.5 51.7h0M216.3 42.9h0M197.8 62.2h0M217.4 48.9h0M208.3 64.3h0M210.8 51.7h0M211.0 53.9h0M217.0 52.8h0M201.4 58.7h0M208.3 60.8h0M211.1 49.0h0M210.2 59.0h0M222.1 50.2h0M229.2 43.3h0M216.4 49.4h0M201.8 63.2h0M216.5 54.6h0M210.8 53.2h0M201.9 59.8h0M218.8 58.2h0M182.1 81.0h0M225.8 55.8h0M216.9 57.2h0M206.2 58.5h0M211.5 46.5h0M204.1 62.3h0M198.4 65.1h0M197.5 66.9h0M208.8 52.7h0M199.9 59.4h0M188.1 68.6h0M216.5 61.9h0M205.3 58.4h0M230.5 56.4h0M210.2 65.0h0M223.8 51.1h0M197.8 57.4h0M225.2 65.0h0M215.1 65.8h0M223.8 36.6h0M210.9 68.3h0M222.1 52.6h0M213.1 59.6h0M214.4 74.0h0M192.9 53.7h0M217.7 63.0h0M205.9 59.0h0M200.8 62.4h0M197.3 57.2h0M194.7 62.7h0M228.1 43.4h0M221.2 67.1h0M200.9 54.7h0M210.9 45.8h0M218.3 60.2h0M198.5 60.3h0M222.7 39.0h0M205.2 61.8h0M204.5 53.4h0M223.6 42.2h0M212.3 51.6h0M203.3 50.0h0M217.8 47.5h0M218.3 41.2h0M208.0 61.9h0M209.2 51.7h0M204.4 49.8h0M201.0 41.0h0M217.6 62.4h0M222.5 54.8h0M208.7 61.5h0M206.6 58.2h0M196.8 38.1h0M221.2 52.4h0M215.0 45.2h0M219.1 54.1h0M182.8 61.1h0M208.7 52.0h0M208.1 52.6h0M217.5 35.6h0M194.1 59.7h0M195.6 61.9h0M205.3 48.8h0M219.3 60.9h0M228.9 59.8h0M221.4 48.3h0M230.3 48.1h0M227.8 42.5h0M186.4 63.5h0M214.6 57.9h0M212.7 62.9h0M197.2 59.8h0M220.4 49.8h0M217.2 63.2h0M218.2 44.4h0M206.2 45.3h0M212.3 58.3h0M200.5 76.1h0M231.8 45.5h0M225.5 58.2h0M213.3 62.9h0M208.7 45.0h0M200.2 58.9h0M221.5 49.5h0M218.5 46.9h0M206.9 75.9h0M238.3 40.1h0M213.7 63.9h0M199.7 62.2h0M199.3 68.2h0M211.8 52.1h0M199.0 51.9h0M208.0 68.3h0M212.6 65.3h0M202.5 61.3h0M205.7 57.6h0M210.4 39.6h0M220.7 54.9h0M211.3 56.4h0M211.6 61.3h0M208.3 50.9h0M216.2 60.3h0M214.6 53.7h0M211.1 51.9h0M199.4 48.7h0M213.1 62.6h0M203.9 53.6h0M220.1 51.0h0M214.2 57.7h0M217.5 51.1h0M209.9 71.1h0M208.6 51.4h0M217.4 61.3h0M202.7 72.5h0M217.4 67.9h0M216.9 51.0h0M227.7 54.7h0M208.6 59.6h0M209.7 64.4h0M197.2 64.3h0M193.3 73.2h0M186.1 64.9h0M212.2 52.3h0M203.2 53.6h0M199.9 49.5h0M217.2 58.3h0M218.1 50.8h0M224.3 50.5h0M221.5 51.9h0M208.5 51.6h0M188.9 76.8h0M217.6 67.6h0M195.7 73.6h0M202.2 62.2h0M204.1 63.7h0M214.1 61.0h0M214.3 57.6h0M225.0 50.5h0M214.6 63.6h0M211.6 59.0h0M205.5 54.5h0M185.6 79.5h0M203.1 67.6h0M222.9 37.0h0M218.9 49.7h0M210.8 46.5h0M212.0 56.6h0M232.7 58.3h0M212.7 51.9h0M231.5 40.9h0M211.0 56.9h0M218.2 56.8h0M205.3 59.2h0M234.8 52.4h0M216.4 54.6h0M212.9 63.1h0M206.8 60.0h0M204.5 55.6h0M211.6 55.8h0M205.5 59.4h0M210.0 53.0h0M204.6 59.5h0M222.0 57.4h0M211.9 53.3h0M218.2 66.6h0M216.1 44.8h0M208.7 53.4h0M201.4 49.2h0M206.3 48.4h0M211.5 68.1h0M217.3 44.7h0M198.1 57.8h0M189.9 63.0h0M204.7 52.0h0M218.1 50.8h0M213.0 69.0h0M218.1 51.7h0M233.6 51.0h0M205.9 62.4h0M201.7 51.0h0M234.8 51.7h0M201.2 67.0h0M200.0 72.6h0M209.6 54.7h0M223.1 47.8h0M212.3 62.7h0M211.8 62.7h0M214.4 60.5h0M220.2 56.2h0M209.0 72.9h0M216.5 66.7h0M204.6 58.4h0M213.2 64.1h0M208.8 61.1h0M194.7 63.7h0M213.0 53.9h0M195.5 71.1h0M209.6 73.0h0M218.2 69.7h0M219.3 54.1h0M206.3 58.5h0M208.0 42.2h0M216.2 42.9h0M198.3 42.6h0M218.5 57.1h0M215.2 55.9h0M208.3 59.3h0M221.1 45.6h0M218.8 56.7h0M210.0 58.9h0M211.4 51.8h0M232.7 37.4h0M231.6 50.5h0M192.9 70.9h0M224.2 53.6h0M203.7 63.4h0M195.8 58.2h0M209.7 58.6h0M227.9 47.3h0M216.7 42.3h0M198.3 61.0h0M222.7 36.9h0M195.9 66.1h0M216.2 39.0h0M203.5 50.1h0M227.7 50.2h0M213.6 53.9h0M209.5 58.3h0M201.6 55.4h0M200.6 63.5h0M207.0 66.2h0M193.3 73.2h0M221.0 59.2h0M202.9 49.3h0M206.8 68.5h0M206.6 55.7h0M205.3 59.5h0M202.9 48.8h0M209.4 65.6h0M224.5 45.6h0M211.5 67.0h0M204.9 50.6h0M212.7 60.7h0M224.2 42.8h0M215.0 50.5h0M223.1 49.8h0M209.8 48.7h0M206.8 56.3h0M180.0 84.9h0M210.2 54.9h0M207.8 58.6h0M208.3 47.1h0M212.8 55.8h0M205.6 47.5h0M204.8 49.8h0M219.6 61.0h0M218.1 48.3h0M203.7 56.5h0M211.9 49.9h0M196.2 45.6h0M199.9 57.3h0M210.7 66.4h0M192.9 57.7h0M213.0 46.5h0M210.2 58.1h0M208.2 51.6h0M225.7 58.2h0M200.4 61.2h0M219.3 48.5h0M199.8 60.3h0M215.1 44.9h0M215.0 56.4h0M207.1 63.5h0M221.3 57.1h0M214.2 41.4h0M221.9 53.3h0M217.1 44.7h0M221.2 52.0h0M205.0 70.8h0M199.7 55.6h0M212.5 50.0h0M213.6 52.2h0M217.0 58.6h0M214.2 61.1h0M215.9 45.7h0M221.7 53.7h0M216.8 61.3h0M229.9 49.2h0M198.9 68.3h0M208.8 55.4h0M213.2 51.9h0M227.8 46.6h0M214.4 60.2h0M223.4 57.2h0M217.1 51.6h0M204.1 43.1h0M201.3 71.6h0M215.1 68.2h0M223.5 37.0h0M225.4 70.0h0M205.2 63.4h0M208.1 56.2h0M208.5 57.7h0M215.4 46.4h0M213.3 48.7h0M217.5 54.2h0M204.4 61.9h0M200.9 56.2h0M215.3 38.1h0M219.3 56.2h0M209.8 66.0h0M214.9 42.7h0M218.1 55.1h0M206.4 64.1h0M215.6 47.0h0M193.8 71.5h0M197.5 51.4h0M198.3 45.3h0M213.9 66.6h0M185.8 77.6h0M200.8 59.9h0M205.0 65.6h0M208.1 51.7h0M197.1 62.3h0M217.5 41.5h0M216.5 55.1h0M196.4 75.5h0M219.6 68.7h0M226.9 43.0h0M205.8 51.4h0M201.2 69.6h0M207.3 55.4h0M212.3 60.9h0M220.3 49.7h0M209.8 57.9h0M202.0 66.4h0M217.5 61.9h0M231.6 58.2h0M206.0 64.8h0M212.8 63.0h0M216.5 59.7h0M204.8 61.9h0M205.3 58.0h0M202.9 53.3h0M223.2 50.1h0M217.9 43.0h0M190.0 65.5h0M213.0 61.4h0M226.3 55.7h0M229.0 49.7h0M209.4 50.9h0M216.0 48.5h0M205.9 64.7h0M216.8 59.3h0M209.1 67.4h0M214.1 52.6h0M199.8 55.0h0M203.7 73.1h0M200.2 69.1h0M206.7 54.4h0M206.4 58.6h0M222.3 53.0h0M205.9 48.3h0M201.5 78.5h0M195.4 53.9h0M216.3 39.9h0M222.2 56.2h0M217.5 59.7h0M193.1 58.5h0M209.5 57.3h0M212.4 59.2h0M195.8 49.0h0M214.3 52.0h0M227.4 62.2h0M214.4 58.7h0M206.3 67.1h0M215.6 55.1h0M215.7 43.4h0M218.5 54.7h0M219.5 35.1h0M219.1 68.9h0M205.6 56.3h0M238.4 58.0h0M209.6 51.2h0M204.0 57.8h0M200.0 57.1h0M213.1 55.0h0M216.0 52.9h0M202.5 68.3h0M211.4 51.0h0M209.9 59.6h0M211.5 54.7h0M222.9 56.8h0M208.2 58.0h0M199.9 62.5h0M219.3 57.6h0M212.5 54.4h0M205.2 62.0h0M201.2 64.1h0M207.9 50.7h0M213.6 52.6h0M215.1 49.2h0M222.1 61.5h0M216.1 59.2h0M203.7 58.3h0M192.5 67.9h0M200.8 64.2h0M188.0 65.0h0M213.6 57.6h0M193.6 64.8h0M239.0 43.1h0M201.9 39.4h0M204.4 65.1h0M215.3 56.9h0M220.8 50.1h0M212.4 40.2h0M234.1 37.4h0M210.9 68.8h0M220.8 57.4h0M206.3 61.7h0M213.6 44.8h0M208.1 56.1h0M205.6 54.0h0M200.7 66.9h0M218.1 60.8h0M207.9 52.7h0M197.5 66.2h0M216.1 69.4h0M239.4 49.4h0M197.0 54.2h0M205.4 52.6h0M225.3 47.1h0M207.2 58.6h0M219.5 42.2h0M210.6 45.3h0M206.5 53.7h0M214.8 54.7h0M225.4 51.8h0M200.1 52.6h0M201.6 59.1h0M205.9 53.3h0M225.2 53.9h0M206.5 55.0h0M208.6 57.3h0M204.5 47.1h0M199.6 48.4h0M214.1 59.5h0M201.5 64.1h0M202.5 56.2h0M233.5 47.8h0M214.0 50.3h0M214.3 52.1h0M211.9 47.9h0M208.8 54.3h0M204.1 75.0h0M215.8 46.1h0M194.1 61.8h0M200.6 58.2h0M193.2 61.5h0M213.3 57.9h0M192.0 69.3h0M197.4 56.8h0M205.3 54.3h0M220.5 55.2h0M205.6 54.4h0M235.7 54.4h0M214.2 52.5h0M226.5 57.3h0M213.1 69.7h0M213.8 63.2h0M206.3 59.9h0M206.8 59.2h0M217.3 44.0h0M210.3 61.1h0M214.6 70.7h0M206.9 80.3h0M208.5 66.0h0M228.8 48.0h0M196.0 63.7h0M213.9 58.7h0M225.0 55.7h0M221.6 40.6h0M213.8 39.4h0M208.2 48.9h0M197.4 73.3h0M214.7 61.8h0M190.8 59.9h0M207.4 52.9h0M209.2 52.0h0M203.2 51.8h0M222.3 45.4h0M202.2 67.9h0M216.6 53.9h0M211.6 52.2h0M200.9 44.3h0M190.9 59.6h0M218.7 61.0h0M208.4 55.6h0M220.6 46.2h0M219.1 54.0h0M199.3 66.9h0M208.4 48.1h0M195.8 55.8h0M232.8 58.6h0M224.2 60.1h0M203.5 73.2h0M236.7 51.7h0M206.2 68.6h0M214.2 62.9h0M204.8 60.5h0M207.3 62.6h0M214.5 63.0h0M220.8 52.7h0M209.5 54.5h0M214.1 60.2h0M213.5 56.8h0M210.4 55.8h0M197.0 49.8h0M218.9 55.3h0M209.2 73.6h0M203.6 69.7h0M214.8 56.1h0M225.9 53.5h0M207.1 49.8h0M199.9 65.5h0M230.0 50.2h0M212.1 58.1h0M224.6 61.1h0M206.5 65.4h0M210.7 49.7h0M206.2 70.2h0M213.5 52.5h0M216.0 60.9h0M218.4 64.5h0M205.4 53.3h0M206.2 51.4h0M212.6 65.4h0M230.3 47.9h0M209.4 49.4h0M202.7 65.0h0M210.4 51.5h0M212.9 68.0h0M221.0 49.5h0M218.4 61.7h0M215.6 54.9h0M188.9 57.1h0M183.3 56.2h0M212.3 58.0h0M204.3 64.5h0M215.1 52.5h0M202.4 74.4h0M222.3 43.2h0M230.3 42.9h0M201.7 59.0h0M191.5 66.7h0M199.9 73.5h0M208.6 45.8h0M209.8 42.2h0M214.5 57.7h0M207.2 49.1h0M209.2 55.7h0M217.6 64.1h0M234.0 53.4h0M201.8 56.1h0M213.0 58.3h0M188.4 66.6h0M223.7 36.6h0M201.0 57.0h0M215.6 52.3h0M201.8 49.5h0M217.0 51.8h0M204.6 60.7h0M212.9 42.1h0M191.7 60.8h0M190.2 44.5h0M209.6 66.5h0M211.9 64.1h0M182.3 75.2h0M231.0 55.5h0M202.8 54.7h0M209.9 46.4h0M200.7 48.9h0M211.8 55.5h0M228.5 46.8h0M204.1 60.0h0M198.5 65.1h0M210.6 59.9h0M212.1 38.1h0M217.2 58.0h0M206.8 75.2h0M213.8 75.1h0M222.6 56.2h0M217.7 59.9h0M197.6 58.5h0M193.9 72.6h0M207.0 65.2h0M211.5 44.2h0M219.0 52.7h0M214.8 57.3h0M210.8 56.3h0M217.4 43.0h0M196.1 59.9h0M219.9 47.0h0M202.2 58.4h0M219.0 61.8h0M205.1 51.4h0M225.5 59.1h0M188.1 77.0h0M210.6 49.2h0M207.5 60.9h0M210.3 54.4h0M200.6 65.7h0M204.8 61.1h0M206.0 61.2h0M219.3 52.2h0M211.9 43.5h0M216.7 54.5h0M204.1 59.4h0M183.7 75.8h0M197.8 45.8h0M213.4 48.8h0M212.7 52.7h0M216.1 53.2h0M210.1 60.8h0M210.0 37.2h0M208.8 52.4h0M205.3 71.1h0M216.2 43.4h0M203.2 68.4h0M203.4 58.5h0M191.0 68.8h0M220.2 45.5h0M216.8 66.8h0M225.3 58.1h0M221.9 58.6h0M191.2 62.8h0M203.6 80.2h0M212.2 54.0h0M199.4 55.4h0M192.3 88.2h0M210.3 56.9h0M196.8 65.3h0M214.3 52.9h0M213.6 46.9h0M217.7 58.9h0M217.9 54.3h0M205.9 51.1h0M214.8 50.0h0M204.7 66.9h0M192.8 63.9h0M222.3 56.1h0M207.5 59.0h0M215.9 51.9h0M205.0 63.8h0M212.9 55.5h0M223.1 50.1h0M207.0 60.1h0M227.1 38.5h0M205.1 53.2h0M209.3 46.3h0M218.3 57.3h0M199.9 56.5h0M196.4 66.5h0M197.4 60.1h0M204.0 55.0h0M225.5 59.4h0M186.7 66.0h0M209.1 48.3h0M206.5 60.9h0M229.3 53.2h0M208.6 58.8h0M206.6 57.5h0M192.3 53.9h0M211.2 64.1h0M210.9 40.1h0M206.5 53.7h0M209.3 47.7h0M219.1 48.5h0M220.1 57.1h0M191.0 68.1h0M225.9 45.7h0M222.9 51.2h0M207.2 61.0h0M226.4 56.2h0M220.7 39.7h0M213.6 42.4h0M208.8 55.7h0M218.4 53.5h0M220.7 43.9h0M220.8 52.4h0M206.2 49.1h0M217.8 53.9h0M218.5 50.4h0M210.0 60.0h0M218.2 56.8h0M227.1 39.4h0M217.1 44.7h0M227.1 37.1h0M217.4 43.1h0M203.1 68.4h0M216.7 46.0h0M233.3 37.7h0M222.2 39.5h0M201.9 63.1h0M202.9 65.6h0M190.6 71.8h0M201.6 54.4h0M212.1 53.3h0M209.8 63.7h0M215.4 56.1h0M223.7 46.5h0M217.5 47.9h0M219.0 54.8h0M199.5 51.1h0M194.7 59.4h0M215.9 51.4h0M210.0 60.8h0M223.7 59.0h0M207.3 63.2h0M214.1 45.7h0M208.5 49.9h0M210.4 59.9h0M190.8 62.7h0M203.4 62.1h0M205.3 63.2h0M200.5 58.9h0M218.2 53.7h0M212.3 54.7h0M226.3 57.0h0M204.4 54.4h0M207.7 73.0h0M196.9 54.6h0M217.8 60.2h0M198.4 63.7h0M194.2 61.9h0M227.5 45.8h0M208.7 58.2h0M213.3 53.5h0M194.7 57.4h0M227.6 37.9h0M219.8 43.7h0M226.5 51.1h0M216.9 68.9h0M200.9 61.1h0M199.5 57.4h0M203.6 53.0h0M214.1 67.2h0M189.0 60.7h0M199.8 59.9h0M223.7 53.2h0M216.5 53.9h0M229.9 33.2h0M199.6 63.7h0M212.0 53.2h0M197.5 54.3h0M205.5 53.9h0M202.0 53.1h0M225.9 49.4h0M227.0 40.4h0M210.6 54.2h0M210.2 54.4h0M201.5 45.9h0M211.1 61.8h0M190.6 67.3h0M221.6 59.3h0M212.0 59.2h0M233.3 51.4h0M204.2 55.6h0M221.8 50.3h0M204.8 58.4h0M213.3 52.7h0M207.6 56.4h0M203.3 76.1h0M228.9 56.3h0M210.2 57.6h0M219.9 56.7h0M194.6 70.5h0M201.0 62.4h0M211.3 70.2h0M216.1 52.2h0M224.3 46.1h0M203.2 59.9h0M207.6 58.8h0M218.7 49.6h0M214.4 62.2h0M217.6 59.4h0M207.1 47.7h0M193.4 54.2h0M223.7 50.6h0M202.4 53.6h0M214.0 52.8h0M210.8 49.0h0M206.4 72.5h0M201.6 62.4h0M216.7 36.4h0M218.1 51.6h0M210.7 58.5h0M190.6 51.5h0M228.3 41.5h0M224.1 56.2h0M215.6 56.6h0M224.2 60.1h0M220.8 59.8h0M206.5 55.6h0M213.4 57.7h0M224.0 63.4h0M219.4 50.6h0M231.7 44.3h0M216.5 56.4h0M203.5 52.1h0M211.1 53.3h0M203.1 62.6h0M206.7 54.0h0M193.1 67.1h0M231.7 49.1h0M221.5 48.5h0M218.6 45.0h0M208.6 62.0h0M197.4 66.0h0M220.7 63.5h0M205.9 63.1h0M202.5 57.3h0M181.1 69.0h0M224.3 51.1h0M222.4 68.9h0M211.4 45.3h0M208.8 57.0h0M223.1 40.0h0M219.0 58.7h0M203.5 62.0h0M191.9 70.2h0M188.1 68.8h0M229.4 46.6h0M212.2 56.5h0M234.2 44.5h0M219.5 46.4h0M202.7 53.0h0M206.6 53.2h0M223.2 52.9h0M207.8 53.7h0M180.6 72.3h0M216.7 57.7h0M208.5 49.1h0M207.1 54.8h0M209.4 41.5h0M209.3 65.2h0M209.8 49.9h0M216.6 54.5h0M205.2 66.0h0M217.1 50.7h0M215.6 43.0h0M217.7 49.7h0M199.6 59.0h0M220.2 44.9h0M205.1 54.6h0M207.2 66.8h0M237.9 48.5h0M219.0 56.8h0M205.8 55.5h0M205.4 72.1h0M204.9 54.2h0M205.6 61.4h0M205.8 59.8h0M218.0 62.4h0M200.2 66.1h0M202.6 58.3h0M229.3 48.5h0M209.3 61.4h0M215.3 62.4h0M208.3 62.1h0M209.1 57.5h0M207.2 53.5h0M216.0 60.8h0M203.7 57.9h0M211.7 49.2h0M222.4 54.1h0M172.4 72.4h0M178.2 92.1h0M201.8 73.6h0M184.4 82.6h0M184.7 92.5h0M196.6 94.1h0M196.5 98.4h0M190.8 80.0h0M181.2 92.8h0M194.6 98.8h0M188.4 79.9h0M188.5 100.1h0M192.4 88.5h0M181.6 88.3h0M197.6 75.6h0M207.9 78.7h0M198.7 85.0h0M193.9 76.6h0M183.1 91.9h0M189.5 80.8h0M195.5 95.4h0M190.8 88.2h0M205.3 87.2h0M192.1 91.0h0M184.0 59.9h0M188.5 95.4h0M193.4 79.6h0M182.0 93.0h0M192.5 66.1h0M195.2 89.5h0M190.2 98.0h0M199.7 94.6h0M195.1 60.7h0M193.1 84.2h0M197.5 102.8h0M190.0 101.9h0M189.6 84.5h0M183.8 79.7h0M188.7 97.8h0M181.3 92.6h0M214.2 75.2h0M187.8 84.8h0M200.7 87.6h0M183.0 82.6h0M189.0 87.9h0M177.8 100.5h0M181.8 91.3h0M195.3 73.2h0M190.6 85.5h0M186.0 94.0h0M202.5 77.3h0M192.0 86.7h0M186.1 66.4h0M205.5 82.5h0M211.8 68.2h0M193.9 94.8h0M184.1 77.9h0M181.0 83.2h0M198.3 99.5h0M190.2 98.9h0M193.6 69.9h0M188.7 76.7h0M189.9 88.9h0M208.1 77.2h0M198.9 102.9h0M175.8 90.2h0M185.4 68.7h0M197.8 94.8h0M189.8 86.7h0M185.6 76.9h0M185.2 82.9h0M194.1 70.2h0M196.5 71.1h0M188.1 81.4h0M183.3 101.6h0M200.9 101.3h0M204.6 85.4h0M202.4 87.7h0M191.1 88.7h0M180.3 74.9h0M187.5 88.9h0M191.6 74.9h0M179.9 82.4h0M183.4 68.6h0M188.6 86.8h0M188.3 62.5h0M190.0 95.1h0M187.6 79.7h0M178.3 90.8h0M185.3 82.0h0M194.0 63.7h0M218.8 73.3h0M193.5 75.8h0M183.7 100.4h0M174.2 79.0h0M193.9 87.5h0M195.8 77.2h0M179.8 66.0h0M184.1 92.6h0M185.7 103.8h0M190.3 87.5h0M197.1 65.4h0M198.5 73.5h0M178.9 83.5h0M192.1 87.2h0M191.8 78.5h0M213.6 66.4h0M176.5 99.8h0M197.1 77.4h0M183.0 80.0h0M211.4 96.9h0M180.3 85.4h0M179.9 100.9h0M188.6 100.3h0M192.7 89.2h0M182.4 77.7h0M194.9 80.2h0M211.7 90.7h0M180.3 94.7h0M184.1 88.5h0M191.4 76.4h0M201.8 89.3h0M200.5 83.6h0M181.5 67.3h0M186.1 81.7h0M188.9 91.1h0M178.5 84.8h0M181.5 74.2h0M199.6 98.6h0M203.5 85.5h0M191.6 74.7h0M199.0 71.8h0M184.2 89.1h0M184.5 87.8h0M208.9 77.8h0M204.3 80.4h0M181.2 85.4h0M201.2 79.1h0M185.0 78.2h0M183.2 85.5h0M184.6 80.4h0M194.4 81.0h0M202.1 79.8h0M202.9 89.3h0M196.2 90.9h0M183.5 91.6h0M188.7 100.6h0M193.6 77.4h0M187.5 79.3h0M180.3 75.3h0M201.5 69.2h0M194.1 56.7h0M183.8 88.2h0M189.4 85.4h0M178.5 89.0h0M179.3 93.4h0M193.0 81.0h0M204.1 83.9h0M198.6 88.6h0M186.9 96.6h0M193.8 85.9h0M188.3 87.2h0M191.8 81.4h0M189.0 52.6h0M189.8 81.9h0M199.2 93.0h0M191.7 75.0h0M199.0 80.0h0M183.3 101.1h0M191.4 99.0h0M178.2 82.3h0M203.7 72.8h0M190.5 90.2h0M184.2 81.8h0M210.2 68.2h0M195.4 80.9h0M192.9 75.6h0M205.4 75.2h0M191.5 92.2h0M190.1 81.7h0M184.5 96.3h0M194.2 85.1h0M180.0 84.3h0M194.8 85.9h0M208.4 66.3h0M212.3 88.7h0M185.5 62.2h0M195.8 93.7h0M188.3 84.0h0M192.8 80.5h0M198.1 95.0h0M194.1 65.8h0M203.4 82.7h0M177.0 97.6h0M200.6 62.9h0M176.8 76.6h0M179.6 80.4h0M187.2 94.3h0M198.2 85.8h0M173.9 94.1h0M187.1 90.0h0M198.7 77.4h0M204.5 89.9h0M193.3 80.6h0M193.1 98.5h0M183.4 90.6h0M190.1 69.8h0M185.3 91.4h0M191.5 99.0h0M185.1 80.0h0M188.8 92.5h0M192.0 73.8h0M172.9 95.2h0M201.4 79.9h0M203.2 87.9h0M190.1 100.9h0M188.3 75.0h0M174.0 84.7h0M191.3 96.3h0M195.0 87.8h0M203.3 76.0h0M191.9 92.1h0M189.7 101.9h0M198.5 85.2h0M203.5 102.7h0M190.6 83.9h0M181.5 81.0h0M187.4 87.1h0M184.6 90.9h0M194.3 66.6h0M188.5 73.6h0M179.8 79.3h0M201.6 74.4h0M173.1 78.7h0M218.0 85.4h0M193.8 81.1h0M193.1 104.0h0M185.0 98.7h0M180.0 85.2h0M178.4 84.5h0M184.0 86.6h0M179.6 85.3h0M192.9 78.9h0M186.8 69.6h0M185.4 89.0h0M188.5 86.8h0M202.2 84.5h0M190.1 95.6h0M193.4 91.0h0M190.7 80.7h0M202.4 89.0h0M195.8 93.1h0M188.8 93.1h0M195.1 88.4h0M206.4 85.0h0M207.7 93.5h0M193.5 66.3h0M181.3 63.7h0M195.5 94.5h0M174.4 80.4h0M197.8 68.5h0M202.7 72.2h0M199.4 90.4h0M189.1 65.0h0M187.5 83.5h0M190.9 78.1h0M185.6 95.0h0M182.9 80.8h0M194.2 86.2h0M186.4 87.0h0M199.5 73.9h0M207.6 66.5h0M203.5 82.5h0M182.7 77.3h0M191.0 72.9h0M179.7 76.0h0M197.1 92.2h0M203.7 81.3h0M188.0 80.5h0M189.9 91.0h0M203.2 97.5h0M187.3 101.4h0M187.4 68.1h0M195.4 88.7h0M188.2 96.3h0M187.5 83.1h0M191.4 93.7h0M198.3 88.9h0M199.9 57.7h0M205.6 69.8h0M192.2 66.0h0M205.9 82.5h0M189.2 82.9h0M194.1 95.9h0M185.5 97.8h0M180.1 90.9h0M182.5 91.8h0M185.6 78.5h0M206.4 75.5h0M178.0 89.0h0M189.0 79.5h0M181.9 79.6h0M194.4 74.6h0M188.2 90.6h0M178.6 95.9h0M180.5 80.7h0M173.9 84.3h0M213.8 84.0h0M198.8 90.1h0M176.4 86.3h0M182.0 84.0h0M174.7 90.0h0M199.6 94.0h0M187.7 81.5h0M189.6 84.7h0M185.1 77.8h0M197.2 79.4h0M184.7 76.8h0M186.4 86.2h0M186.4 81.7h0M179.6 97.6h0M191.8 81.6h0M192.7 85.2h0M176.9 79.3h0M202.8 94.7h0M202.3 80.0h0M179.2 73.5h0M204.9 76.6h0M179.7 96.0h0M188.4 82.1h0M193.0 86.9h0M186.6 87.2h0M183.9 82.8h0M199.0 74.2h0M191.7 71.2h0M194.6 93.9h0M195.0 99.2h0M196.7 95.7h0M180.3 94.0h0M190.7 92.5h0M175.9 94.6h0M205.1 69.5h0M186.6 78.3h0M180.1 99.5h0M212.1 77.7h0M199.9 84.4h0M209.5 59.8h0M182.4 98.1h0M179.7 97.0h0M182.0 97.0h0M196.4 81.5h0M183.9 81.2h0M200.1 87.6h0M177.0 78.7h0M197.9 74.1h0M191.2 80.0h0M175.7 86.8h0M182.4 73.6h0M204.2 74.8h0M191.6 100.1h0M197.2 92.7h0M192.3 68.1h0M189.8 90.4h0M188.6 72.3h0M200.8 74.7h0M195.3 80.3h0M193.6 92.6h0M178.0 80.1h0M194.7 76.8h0M210.6 65.2h0M201.9 64.5h0M180.2 66.2h0M197.1 77.7h0M186.8 72.5h0M179.8 70.7h0M182.2 78.5h0M194.0 55.7h0M180.4 97.0h0M185.9 82.3h0M185.6 74.6h0M203.1 50.2h0M201.7 45.7h0M208.7 46.9h0M213.1 83.1h0M181.1 78.3h0M198.1 85.1h0M196.3 64.8h0M199.6 86.3h0M176.6 79.4h0M205.0 61.8h0M200.3 81.7h0M215.2 92.4h0M194.6 42.1h0M195.8 65.9h0M197.4 85.7h0M235.5 73.9h0M178.6 83.1h0M194.5 69.1h0M215.3 73.7h0M202.6 72.6h0M214.2 77.3h0M192.6 60.3h0M215.1 71.6h0M215.4 48.5h0M200.4 77.5h0M202.8 62.9h0M207.3 91.6h0M174.0 90.7h0M207.4 56.5h0M212.7 69.1h0M220.4 57.2h0M217.0 55.8h0M208.0 78.2h0M202.3 77.5h0M195.1 83.4h0M196.4 58.6h0M201.9 67.8h0M191.8 79.7h0M201.8 77.0h0M182.6 50.1h0M199.8 54.6h0M201.6 76.4h0M219.1 89.1h0M214.5 58.6h0M211.2 61.2h0M211.1 53.8h0M222.3 74.3h0M199.5 49.5h0M207.5 61.2h0M207.1 58.6h0M195.9 77.2h0M224.2 50.8h0M200.8 74.0h0M201.4 62.4h0M233.9 56.8h0M208.6 61.7h0M202.2 36.6h0M216.0 65.6h0M190.1 91.9h0M199.7 60.0h0M191.7 83.5h0M204.0 64.2h0M185.0 55.9h0M208.4 68.3h0M175.4 56.3h0M193.0 37.5h0M214.3 61.9h0M185.1 76.5h0M200.3 55.1h0M185.2 66.9h0M204.8 43.7h0M217.4 50.8h0M223.2 73.2h0M201.0 73.3h0M195.3 67.7h0M226.6 60.6h0M215.0 56.0h0M203.3 82.1h0M186.8 73.3h0M173.5 52.5h0M197.7 80.9h0M213.6 55.8h0M201.8 71.2h0M181.7 74.5h0M222.5 86.0h0M195.3 62.9h0M190.5 61.7h0M200.1 78.1h0M204.7 55.6h0M215.1 80.9h0M195.0 65.1h0M202.2 45.6h0M205.5 78.0h0M230.9 71.3h0M199.6 66.5h0M212.2 79.8h0M191.6 71.3h0M212.8 40.5h0M222.8 65.6h0M215.8 68.0h0M200.2 67.6h0M207.7 80.8h0M200.0 53.0h0M193.9 55.0h0M214.3 55.3h0M225.0 70.5h0M202.5 87.0h0M198.6 64.6h0M214.6 79.1h0M189.8 103.2h0M211.7 51.2h0M201.3 81.7h0M206.9 80.8h0M236.9 81.8h0M231.9 78.4h0M194.5 90.0h0M194.1 82.3h0M213.1 57.1h0M194.1 66.5h0M209.6 87.7h0M205.1 95.7h0M216.3 60.2h0M195.5 70.4h0M196.9 68.0h0M215.1 72.9h0M218.0 59.7h0M192.3 49.8h0M179.4 63.1h0M205.4 66.6h0M204.5 98.1h0M189.2 65.7h0M197.7 56.8h0M223.4 69.1h0M222.1 53.8h0M230.8 101.3h0M192.4 69.4h0M202.8 77.4h0M186.4 76.2h0M214.8 61.2h0M172.9 60.1h0M199.1 80.4h0M196.0 53.6h0M213.3 74.9h0M215.0 70.3h0M219.5 76.9h0M179.7 72.5h0M215.5 70.2h0M225.2 63.3h0M214.5 52.5h0M204.7 62.0h0M190.7 51.4h0M207.9 75.7h0M195.9 52.4h0M192.5 80.4h0M187.9 85.7h0M181.4 73.7h0M214.1 86.9h0M198.8 59.1h0M184.9 82.5h0M203.0 63.4h0M198.9 73.3h0M205.3 86.3h0M174.7 81.6h0M197.4 68.7h0M200.4 68.6h0M215.4 72.9h0M184.6 68.9h0M203.5 75.0h0M205.4 68.7h0M219.2 54.6h0M235.4 62.0h0M190.4 80.9h0M219.9 87.4h0M225.3 76.6h0M205.8 75.2h0M204.9 62.3h0M227.4 95.4h0M205.1 66.7h0" fill="none" stroke="#000" stroke-width="0.75" stroke-linecap="square" stroke-opacity="0.36"/>
</g>
<rect x="201.20" y="33.40" width="39.30" height="37.30" fill="none" stroke="#7a7a7a" stroke-width="1.0" />
<clipPath id="cp3"><rect x="246.0" y="33.0" width="70" height="72.0"/></clipPath>
<g clip-path="url(#cp3)">
<ellipse cx="290" cy="56.5" rx="16" ry="11" transform="rotate(-40 290 56.5)" fill="url(#cg)" opacity="1.0"/>
<path d="M277.2 50.2h0M281.6 58.6h0M284.7 51.0h0M277.3 74.5h0M293.2 63.2h0M272.8 56.4h0M289.1 55.3h0M293.1 71.6h0M306.0 50.4h0M287.8 55.5h0M296.4 49.3h0M309.1 54.1h0M289.0 65.9h0M306.8 49.9h0M280.9 62.0h0M288.1 60.1h0M288.8 54.6h0M304.6 59.2h0M278.1 51.9h0M293.7 54.4h0M290.6 49.8h0M288.4 49.3h0M308.5 59.6h0M269.5 47.6h0M283.9 57.2h0M292.5 55.7h0M308.9 70.1h0M284.2 58.6h0M285.0 42.5h0M294.3 47.6h0M274.5 61.9h0M299.5 58.5h0M303.8 50.8h0M287.8 65.5h0M302.4 71.8h0M282.0 81.4h0M299.7 54.0h0M287.5 54.1h0M275.0 54.2h0M313.2 48.3h0M298.8 54.4h0M273.7 68.8h0M298.3 63.2h0M284.3 65.7h0M289.5 58.8h0M286.6 64.6h0M282.4 44.9h0M312.9 61.8h0M289.9 70.2h0M280.5 60.6h0M307.3 45.7h0M305.8 48.0h0M299.2 48.7h0M312.8 57.7h0M294.4 48.6h0M283.7 53.7h0M299.4 55.8h0M290.5 67.5h0M296.2 72.1h0M306.9 60.8h0M280.6 55.8h0M279.7 73.8h0M289.2 73.1h0M297.0 60.5h0M278.0 62.3h0M297.2 60.1h0M282.8 68.1h0M289.1 67.7h0M288.4 56.7h0M301.5 60.9h0M296.2 66.1h0M285.0 65.6h0M283.6 66.1h0M284.4 63.5h0M292.2 46.6h0M276.2 68.2h0M297.4 54.6h0M288.5 68.4h0M293.3 63.6h0M286.7 65.8h0M298.3 44.5h0M292.6 62.7h0M298.0 55.4h0M282.8 48.2h0M285.1 49.0h0M280.5 42.0h0M313.5 58.4h0M291.1 48.6h0M293.7 64.4h0M293.6 48.0h0M305.4 52.9h0M294.4 51.0h0M288.0 52.6h0M289.9 51.5h0M301.7 48.9h0M295.1 57.4h0M287.1 46.0h0M302.8 48.5h0M282.1 54.8h0M282.8 57.9h0M287.3 51.6h0M293.3 57.0h0M297.1 75.2h0M292.3 59.8h0M291.7 55.1h0M304.2 60.5h0M286.5 52.2h0M285.1 40.0h0M291.8 54.6h0M286.4 45.4h0M282.5 53.7h0M289.8 64.2h0M286.6 54.7h0M301.2 48.7h0M269.0 64.7h0M296.8 56.7h0M294.2 56.9h0M283.0 62.6h0M276.8 60.2h0M279.0 58.2h0M286.8 57.9h0M289.6 69.1h0M294.7 69.4h0M292.8 42.6h0M290.9 42.3h0M304.2 48.8h0M271.1 50.6h0M280.2 51.6h0M293.1 41.8h0M290.8 61.5h0M291.6 58.5h0M291.7 63.1h0M285.2 66.9h0M281.0 66.4h0M279.6 63.7h0M301.2 60.4h0M271.2 64.9h0M288.0 71.1h0M286.3 67.3h0M278.4 51.9h0M285.1 49.3h0M300.2 56.9h0M295.8 41.6h0M307.9 51.9h0M286.2 82.9h0M298.6 39.0h0M285.8 46.6h0M289.7 59.1h0M290.8 47.7h0M284.9 51.6h0M296.4 58.4h0M296.3 63.5h0M298.0 54.0h0M293.2 41.4h0M280.5 46.5h0M287.3 54.3h0M294.5 48.6h0M284.0 60.9h0M291.4 61.1h0M274.9 54.0h0M282.4 75.1h0M277.0 63.0h0M285.1 70.1h0M291.4 68.4h0M285.5 63.7h0M301.1 57.6h0M278.0 63.1h0M279.9 46.5h0M297.8 54.4h0M287.0 45.0h0M293.6 58.4h0M295.8 46.6h0M305.5 64.2h0M284.2 57.6h0M279.6 50.2h0M295.2 69.4h0M281.2 62.3h0M302.8 52.1h0M290.1 53.4h0M289.0 57.9h0M296.1 52.7h0M288.3 39.1h0M294.1 48.1h0M287.9 54.4h0M294.7 51.8h0M291.1 47.8h0M297.8 63.1h0M297.5 47.1h0M289.3 53.8h0M289.1 57.9h0M303.1 52.1h0M310.0 56.1h0M281.1 67.7h0M278.1 50.3h0M278.5 61.5h0M304.4 45.9h0M288.3 58.1h0M284.7 63.3h0M281.0 47.8h0M302.7 81.0h0M294.8 52.0h0M290.7 46.5h0M295.3 61.7h0M273.0 63.7h0M285.3 58.1h0M287.2 62.2h0M300.3 52.0h0M303.8 56.2h0M286.5 62.8h0M290.3 63.5h0M286.3 58.3h0M303.2 44.2h0M277.8 68.5h0M290.0 51.9h0M295.8 62.6h0M284.9 59.5h0M286.0 63.9h0M284.5 52.3h0M298.1 69.0h0M269.1 60.5h0M286.0 46.4h0M298.7 34.6h0M276.8 62.9h0M303.1 54.3h0M296.4 54.8h0M291.7 37.1h0M299.6 63.6h0M283.0 66.3h0M306.5 56.0h0M298.4 69.1h0M299.7 59.9h0M277.6 59.9h0M292.8 72.8h0M261.8 62.1h0M297.5 52.4h0M263.9 75.0h0M293.7 66.3h0M271.8 67.0h0M302.8 54.2h0M281.2 61.6h0M284.9 75.3h0M293.1 67.5h0M292.4 46.2h0M292.3 61.9h0M301.5 63.0h0M301.0 51.2h0M292.4 48.0h0M288.4 64.7h0M287.5 48.1h0M285.7 52.8h0M292.2 68.5h0M279.3 59.6h0M295.3 53.5h0M284.5 47.2h0M288.3 55.0h0M281.0 59.2h0M292.2 64.0h0M306.3 44.7h0M303.1 47.5h0M278.6 67.5h0M307.9 56.5h0M294.4 76.3h0M280.8 57.7h0M293.4 69.1h0M298.3 59.6h0M272.1 71.9h0M293.1 61.9h0M292.6 67.3h0M278.0 53.4h0M283.4 75.7h0M292.8 47.1h0M298.7 48.4h0M282.3 49.1h0M286.6 61.4h0M289.5 52.2h0M305.9 58.7h0M286.0 64.9h0M280.2 69.8h0M282.0 62.6h0M290.8 54.3h0M295.3 45.2h0M288.5 62.1h0M291.6 58.7h0M284.9 53.6h0M296.5 52.9h0M304.6 58.7h0M284.1 55.0h0M283.8 56.2h0M282.7 80.2h0M305.6 67.9h0M289.1 64.3h0M292.6 54.7h0M298.7 50.3h0M290.9 58.4h0M269.0 67.9h0M292.9 71.7h0M299.4 57.6h0M294.9 51.5h0M303.1 44.5h0M282.4 70.3h0M300.9 49.5h0M298.5 60.1h0M306.1 50.0h0M305.9 47.2h0M301.0 34.5h0M299.9 52.2h0M285.5 48.6h0M298.6 48.5h0M279.6 60.0h0M289.5 59.1h0M278.9 57.7h0M293.8 53.7h0M304.7 41.1h0M305.5 62.2h0M294.1 64.1h0M293.6 55.2h0M298.9 40.2h0M277.2 50.6h0M294.7 63.6h0M292.8 63.5h0M290.3 68.8h0M287.6 54.9h0M304.1 45.7h0M296.1 53.8h0M297.1 52.9h0M282.5 66.8h0M296.6 56.0h0M297.9 69.2h0M285.5 62.6h0M287.2 49.1h0M284.5 68.9h0M297.0 53.2h0M276.4 66.1h0M295.8 59.0h0M302.7 51.6h0M306.8 60.2h0M276.8 78.6h0M289.6 62.7h0M287.4 49.5h0M285.6 65.6h0M292.9 62.5h0M298.2 72.2h0M298.9 70.9h0M287.4 65.4h0M293.4 41.6h0M284.9 65.9h0M306.8 57.2h0M300.4 59.3h0M279.3 62.3h0M299.7 43.9h0M280.2 48.4h0M281.4 48.9h0M300.9 63.1h0M294.1 55.8h0M290.2 62.9h0M279.5 61.8h0M301.7 34.7h0M279.2 52.6h0M299.4 47.2h0M274.2 58.2h0M302.9 53.4h0M296.7 51.2h0M304.3 58.6h0M288.1 43.0h0M267.4 61.7h0M285.3 46.4h0M281.9 64.5h0M277.0 55.4h0M300.6 53.3h0M301.3 57.0h0M301.8 47.0h0M280.1 47.9h0M285.3 55.1h0M302.0 53.8h0M307.5 53.4h0M302.4 52.0h0M289.4 53.8h0M285.3 51.5h0M292.9 53.8h0M260.3 54.9h0M281.9 59.2h0M294.0 66.7h0M278.7 53.8h0M298.0 60.3h0M298.3 39.9h0M285.8 56.2h0M305.6 50.9h0M293.7 61.1h0M286.1 58.2h0M287.2 54.3h0M289.6 60.8h0M299.2 64.1h0M296.5 50.7h0M264.9 63.2h0M283.9 58.2h0M277.4 63.7h0M287.6 52.5h0M288.2 57.4h0M279.8 56.7h0M290.0 59.4h0M271.3 52.1h0M284.5 66.4h0M281.2 73.3h0M285.6 61.7h0M286.3 65.6h0M291.8 58.9h0M277.5 74.4h0M274.5 66.4h0M292.8 52.4h0M294.4 54.6h0M286.3 51.7h0M303.1 56.8h0M280.9 55.4h0M287.5 51.3h0M294.6 60.9h0M302.1 61.2h0M288.1 47.9h0M285.3 65.9h0M303.1 42.2h0M289.0 71.3h0M291.9 61.9h0M293.3 44.1h0M284.0 56.2h0M296.9 57.3h0M288.3 63.6h0M277.0 71.0h0M292.3 54.7h0M277.5 66.1h0M288.0 72.6h0M286.2 57.8h0M291.2 60.9h0M292.7 59.6h0M287.5 69.6h0M289.3 64.7h0M296.6 61.6h0M281.8 49.0h0M279.3 63.4h0M298.4 45.4h0M296.0 63.9h0M286.5 62.5h0M288.8 51.7h0M296.4 61.5h0M296.2 48.1h0M314.2 39.7h0M283.8 54.7h0M285.6 68.3h0M265.9 75.3h0M277.8 65.2h0M282.9 49.7h0M287.8 70.9h0M285.1 60.7h0M291.0 63.9h0M303.6 54.2h0M296.6 56.6h0M286.4 72.4h0M280.8 55.6h0M282.7 55.0h0M296.2 58.5h0M299.2 48.0h0M283.4 59.4h0M276.7 60.6h0M301.6 39.3h0M288.9 63.7h0M295.2 59.7h0M277.5 56.7h0M296.6 44.4h0M289.7 58.9h0M273.9 68.2h0M286.9 64.4h0M276.2 46.2h0M283.4 37.1h0M282.9 55.8h0M284.6 61.0h0M292.8 45.7h0M288.2 65.4h0M296.9 57.8h0M290.9 53.4h0M283.3 57.6h0M303.9 59.6h0M300.1 37.9h0M287.6 58.6h0M282.7 51.6h0M314.1 51.2h0M286.0 55.5h0M283.6 50.1h0M290.5 63.7h0M306.9 51.2h0M294.7 42.3h0M270.5 86.6h0M290.6 55.3h0M298.1 40.3h0M278.3 59.1h0M307.0 51.7h0M283.4 78.5h0M291.7 59.4h0M292.5 73.1h0M299.4 61.7h0M285.0 67.8h0M289.1 55.1h0M279.6 58.4h0M276.9 61.0h0M292.1 60.6h0M272.0 61.5h0M276.6 51.6h0M285.9 57.4h0M290.0 60.7h0M300.9 55.4h0M294.6 58.6h0M278.5 56.9h0M297.4 56.0h0M306.0 41.0h0M283.0 65.4h0M281.5 54.9h0M309.8 59.1h0M289.3 50.7h0M291.3 55.0h0M282.4 71.2h0M298.4 62.0h0M285.0 60.7h0M280.2 47.8h0M278.6 62.7h0M279.1 70.0h0M286.2 60.6h0M291.8 55.9h0M289.7 55.5h0M297.0 58.9h0M285.4 56.1h0M287.9 61.5h0M284.8 57.3h0M287.0 78.5h0M288.0 75.2h0M301.2 57.6h0M294.3 58.1h0M295.0 58.5h0M304.1 60.3h0M284.2 66.6h0M309.8 54.3h0M283.1 65.8h0M293.4 56.6h0M276.0 77.4h0M287.8 80.8h0M294.8 52.0h0M295.9 53.5h0M285.3 60.1h0M288.9 49.9h0M301.4 58.7h0M304.7 56.6h0M304.2 52.3h0M301.1 48.4h0M300.6 62.6h0M304.2 41.7h0M289.0 79.6h0M308.7 59.9h0M298.8 52.2h0M280.3 55.6h0M307.0 52.9h0M287.3 48.2h0M282.9 56.9h0M273.4 41.9h0M299.9 64.7h0M285.9 60.9h0M287.5 49.1h0M289.7 49.2h0M287.9 61.5h0M290.3 57.9h0M286.4 67.6h0M285.6 69.5h0M280.4 53.2h0M284.3 51.3h0M285.2 59.7h0M300.7 56.3h0M292.8 52.0h0M276.7 66.1h0M287.0 58.4h0M283.3 57.5h0M290.2 43.5h0M296.7 64.4h0M279.0 56.4h0M286.7 56.5h0M299.2 63.3h0M292.0 61.2h0M283.1 58.1h0M289.3 50.9h0M298.1 46.3h0M283.7 51.9h0M281.7 54.0h0M277.3 49.7h0M298.9 67.5h0M283.5 80.4h0M293.7 63.1h0M292.1 76.1h0M281.0 64.0h0M296.6 38.5h0M270.6 72.7h0M279.0 56.5h0M275.2 54.5h0M308.0 54.6h0M278.4 65.8h0M292.0 66.8h0M291.5 72.6h0M286.2 52.2h0M286.5 54.1h0M309.7 42.1h0M286.6 60.9h0M297.6 40.9h0M282.8 76.7h0M293.0 50.0h0M295.1 64.3h0M273.9 83.8h0M292.1 62.3h0M305.5 76.1h0M290.6 68.0h0M268.5 75.5h0M288.8 42.1h0M273.6 71.8h0M304.6 57.1h0M286.1 63.9h0M287.2 77.6h0M291.8 68.8h0M286.1 56.9h0M299.2 40.3h0M299.1 45.7h0M278.4 58.1h0M299.1 48.6h0M279.3 50.3h0M305.3 55.1h0M296.7 59.5h0M260.0 76.7h0M291.9 56.5h0M286.4 62.5h0M280.5 58.1h0M280.2 66.6h0M281.3 59.0h0M301.4 46.9h0M281.8 47.8h0M290.6 66.7h0M294.9 53.4h0M288.9 58.7h0M291.7 52.2h0M279.1 86.6h0M298.8 48.0h0M295.2 39.0h0M301.8 49.1h0M295.7 48.6h0M294.3 59.5h0M301.5 52.7h0M290.7 50.2h0M305.5 46.1h0M286.4 56.6h0M276.1 61.0h0M278.2 69.0h0M290.4 58.9h0M277.3 63.3h0M289.7 67.6h0M269.6 58.2h0M302.7 50.1h0M283.7 76.4h0M308.4 53.4h0M273.2 72.3h0M281.3 61.5h0M285.6 78.8h0M285.6 63.6h0M299.9 55.1h0M291.4 51.7h0M290.7 54.1h0M276.0 79.2h0M282.0 58.2h0M279.3 51.4h0M270.5 54.5h0M300.0 60.9h0M284.7 49.5h0M299.3 45.8h0M266.8 56.7h0M298.9 64.6h0M283.4 55.8h0M283.3 53.7h0M286.6 62.4h0M288.6 67.8h0M285.3 68.3h0M290.9 52.2h0M285.7 57.1h0M299.9 40.2h0M305.1 54.8h0M295.4 69.3h0M271.1 75.3h0M291.1 56.2h0M294.9 48.6h0M294.3 65.4h0M283.6 51.5h0M294.3 52.5h0M288.0 64.4h0M278.4 56.4h0M286.7 57.7h0M284.2 49.3h0M307.9 49.0h0M292.3 57.4h0M273.6 80.4h0M283.9 67.3h0M284.9 71.5h0M284.3 59.5h0M307.9 52.3h0M274.7 62.5h0M290.3 54.2h0M293.2 47.1h0M269.4 64.7h0M291.2 61.7h0M302.6 59.4h0M290.8 54.1h0M295.6 51.2h0M283.5 57.5h0M305.4 59.5h0M292.8 37.9h0M293.4 42.4h0M290.0 63.0h0M272.4 58.9h0M292.3 72.7h0M294.4 43.9h0M291.8 56.9h0M288.9 50.4h0M300.1 44.5h0M288.2 40.9h0M294.0 55.1h0M298.8 58.1h0M294.4 66.9h0M312.2 47.5h0M303.7 59.6h0M299.9 61.4h0M291.5 48.6h0M287.1 71.6h0M291.5 48.7h0M297.7 65.8h0M270.9 63.6h0M300.1 57.1h0M274.9 59.2h0M298.6 64.5h0M278.1 42.7h0M298.5 49.6h0M280.1 53.1h0M301.4 50.2h0M295.2 56.3h0M297.9 59.1h0M298.9 38.4h0M287.0 54.8h0M302.7 43.3h0M276.2 68.2h0M280.0 57.7h0M279.4 52.1h0M283.7 82.7h0M284.1 52.2h0M302.1 60.8h0M272.9 66.6h0M288.0 49.8h0M287.4 46.2h0M283.7 61.0h0M293.7 54.2h0M282.3 59.6h0M283.1 85.1h0M285.0 58.1h0M295.1 58.6h0M289.3 50.4h0M275.0 67.7h0M280.3 59.3h0M291.1 58.5h0M300.0 47.0h0M278.3 72.8h0M289.2 40.3h0M296.0 53.9h0M286.2 61.9h0M296.2 57.9h0M299.5 48.8h0M302.3 71.9h0M279.4 62.9h0M290.8 64.2h0M292.4 41.1h0M294.1 41.0h0M308.5 34.4h0M297.8 47.5h0M292.0 47.4h0M291.1 56.2h0M294.8 61.2h0M284.5 58.1h0M278.1 65.5h0M290.3 65.9h0M291.8 47.8h0M300.4 61.9h0M282.1 51.3h0M313.5 43.0h0M308.7 67.4h0M284.7 64.5h0M276.5 73.5h0M289.2 49.4h0M281.8 62.0h0M296.1 68.4h0M287.0 57.8h0M280.2 48.4h0M278.8 52.2h0M279.7 42.6h0M281.7 66.5h0M264.1 62.3h0M291.4 41.8h0M291.4 59.0h0M272.2 54.2h0M299.9 42.8h0M290.3 48.7h0M286.2 46.4h0M272.9 60.3h0M281.3 57.6h0M289.3 62.0h0M290.2 66.5h0M287.7 65.8h0M309.9 58.4h0M282.0 81.7h0M282.3 78.2h0M291.6 59.3h0M286.7 69.4h0M292.8 48.8h0M289.1 66.6h0M302.6 54.4h0M286.7 59.7h0M302.1 55.5h0M300.2 49.9h0M285.5 63.8h0M291.0 50.5h0M289.4 48.7h0M289.0 51.5h0M313.9 49.3h0M285.4 47.1h0M283.1 70.0h0M290.2 60.0h0M268.9 58.9h0M289.8 54.9h0M274.6 61.5h0M294.3 48.8h0M303.3 63.1h0M293.4 55.4h0M291.2 68.7h0M272.1 60.5h0M282.2 48.1h0M295.0 46.2h0M292.8 51.4h0M287.9 58.9h0M267.8 64.2h0M297.3 74.0h0M300.5 55.7h0M285.7 69.8h0M304.3 52.8h0M279.5 63.0h0M281.9 64.2h0M294.2 53.2h0M292.8 58.8h0M293.0 47.5h0M290.4 69.1h0M282.7 54.3h0M290.5 52.8h0M290.6 55.8h0M299.9 58.1h0M276.6 55.4h0M299.8 41.5h0M267.0 56.4h0M286.2 53.3h0M269.5 64.2h0M286.0 70.6h0M291.7 55.3h0M278.2 64.9h0M296.2 53.3h0M299.1 50.0h0M298.0 54.9h0M291.9 69.2h0M297.1 59.5h0M275.2 57.9h0M284.1 53.4h0M297.1 55.1h0M303.1 52.0h0M285.1 70.8h0M280.5 57.1h0M290.3 56.5h0M313.1 67.0h0M300.8 62.9h0M289.7 60.6h0M283.3 58.1h0M303.4 50.3h0M289.4 49.0h0M303.3 43.9h0M284.2 61.5h0M299.3 56.8h0M296.7 40.1h0M294.2 69.6h0M305.7 37.1h0M281.1 48.2h0M278.3 57.4h0M282.8 50.5h0M297.3 50.1h0M292.4 64.4h0M281.2 51.3h0M301.2 70.1h0M293.4 59.5h0M287.0 57.1h0M280.5 37.3h0M276.3 62.1h0M295.0 67.8h0M313.7 43.6h0M296.7 58.4h0M297.4 40.4h0M286.5 61.4h0M282.6 43.3h0M285.3 44.3h0M300.6 56.8h0M273.4 76.0h0M288.3 51.9h0M308.1 62.5h0M288.4 46.8h0M271.7 60.0h0M287.0 71.1h0M292.1 54.8h0M297.2 51.0h0M285.8 51.6h0M284.7 61.6h0M288.5 75.4h0M288.0 52.8h0M292.6 43.7h0M299.1 50.1h0M302.8 40.4h0M282.1 54.7h0M280.6 67.3h0M282.5 66.4h0M289.8 68.0h0M270.5 77.5h0M290.2 56.7h0M293.4 72.2h0M288.5 62.5h0M285.7 56.7h0M294.0 60.5h0M278.0 62.0h0M280.0 69.4h0M278.8 58.5h0M295.1 52.4h0M292.4 53.3h0M293.6 54.7h0M281.4 66.2h0M285.6 58.0h0M289.3 51.7h0M286.9 71.7h0M303.4 41.9h0M301.3 51.3h0M280.0 56.4h0M285.2 56.4h0M286.3 58.6h0M284.7 70.3h0M274.7 58.5h0M301.4 55.2h0M302.6 47.6h0M290.2 68.6h0M288.3 56.9h0M284.7 65.5h0M272.5 76.9h0M277.4 76.5h0M280.1 72.2h0M309.1 37.9h0M289.9 77.1h0M280.3 53.3h0M270.5 59.4h0M273.5 49.5h0M301.9 57.5h0M287.1 54.9h0M279.0 70.9h0M287.0 65.7h0M298.5 50.1h0M267.1 66.2h0M302.6 49.1h0M290.2 33.3h0M287.9 56.7h0M272.7 64.6h0M300.8 53.4h0M286.9 62.8h0M294.2 42.0h0M297.6 61.3h0M290.6 69.9h0M294.7 64.5h0M298.9 52.1h0M283.9 55.1h0M292.3 57.1h0M301.2 46.6h0M301.4 64.9h0M294.9 57.5h0M303.8 46.2h0M297.0 58.8h0M283.1 51.0h0M276.4 66.1h0M304.4 55.2h0M308.2 51.0h0M276.9 52.7h0M284.1 59.0h0M288.3 67.9h0M286.1 66.2h0M287.4 40.8h0M292.7 67.7h0M297.5 51.8h0M276.8 60.5h0M297.0 64.1h0M293.5 53.0h0M295.8 60.1h0M269.9 63.3h0M296.3 64.2h0M294.9 44.6h0M286.2 52.3h0M287.2 60.7h0M283.8 56.2h0M271.8 55.5h0M289.1 59.5h0M290.7 47.6h0M290.1 69.9h0M297.8 59.5h0M281.3 56.7h0M285.1 71.2h0M271.3 54.4h0M289.9 70.0h0M291.2 58.3h0M290.5 55.9h0M281.1 49.6h0M302.9 44.3h0M291.9 38.9h0M288.2 46.0h0M280.2 67.8h0M305.4 58.1h0M299.5 46.0h0M293.3 47.8h0M286.4 62.3h0M293.1 63.0h0M280.2 76.9h0M292.4 70.2h0M293.4 41.9h0M292.8 61.5h0M279.3 58.1h0M291.0 63.7h0M295.2 48.0h0M304.3 60.2h0M293.7 46.1h0M284.2 64.7h0M298.9 53.8h0M281.8 54.1h0M299.7 47.2h0M299.6 36.9h0M283.8 55.4h0M311.6 51.6h0M275.8 48.7h0M300.2 49.7h0M272.7 55.8h0M292.2 52.9h0M293.1 58.4h0M285.4 57.9h0M294.8 51.7h0M290.8 62.9h0M279.7 78.5h0M289.7 49.2h0M294.7 65.7h0M285.5 42.3h0M282.4 65.2h0M308.8 49.1h0M291.3 61.9h0M288.6 55.1h0M282.2 41.3h0M301.2 53.2h0M281.9 54.9h0M281.3 67.1h0M292.1 57.0h0M280.0 57.4h0M296.6 48.8h0M283.2 64.9h0M301.6 63.9h0M289.9 52.5h0M281.7 55.6h0M298.3 58.5h0M287.4 57.8h0M302.0 47.9h0M274.1 74.8h0M266.8 59.9h0M251.8 86.7h0M278.8 86.1h0M254.3 84.0h0M277.5 87.1h0M275.0 87.6h0M257.0 72.4h0M272.3 84.8h0M268.1 89.2h0M262.1 83.7h0M261.3 93.9h0M261.3 91.6h0M262.4 71.6h0M264.9 93.2h0M262.9 95.4h0M271.6 96.9h0M268.7 70.0h0M284.7 85.2h0M271.5 93.5h0M272.5 87.6h0M265.0 73.8h0M252.1 89.4h0M263.2 79.7h0M271.9 83.3h0M274.2 80.4h0M258.2 95.2h0M257.6 91.3h0M270.8 87.4h0M254.2 66.8h0M259.5 68.5h0M276.9 78.2h0M255.7 77.0h0M270.2 66.6h0M269.6 95.8h0M257.8 93.7h0M252.9 75.7h0M264.2 86.4h0M278.0 85.2h0M255.7 85.9h0M266.1 91.5h0M262.3 87.1h0M258.8 91.0h0M261.6 77.2h0M279.4 80.3h0M264.3 92.5h0M260.2 95.5h0M257.3 96.2h0M255.3 66.6h0M262.3 102.5h0M283.9 80.3h0M267.2 80.3h0M258.2 100.6h0M270.3 80.6h0M260.0 82.1h0M271.8 81.5h0M292.0 95.5h0M254.9 84.0h0M275.6 93.8h0M264.9 77.6h0M262.1 70.5h0M260.3 87.7h0M255.6 103.1h0M270.9 81.9h0M261.2 102.6h0M249.1 84.3h0M288.4 104.2h0M257.0 85.1h0M260.4 81.1h0M267.2 68.9h0M272.2 82.3h0M268.4 95.8h0M277.8 68.4h0M277.7 99.6h0M273.6 88.1h0M267.6 79.8h0M267.2 97.6h0M258.1 93.9h0M259.7 91.6h0M262.0 95.4h0M283.6 93.5h0M262.6 79.9h0M273.4 81.9h0M274.4 91.9h0M276.3 82.0h0M259.2 75.1h0M272.2 78.0h0M278.9 64.3h0M260.2 82.4h0M250.5 74.4h0M252.0 81.4h0M261.4 93.9h0M263.0 65.3h0M260.4 86.1h0M266.4 88.2h0M278.7 85.1h0M266.6 75.8h0M257.2 96.5h0M277.5 57.1h0M283.6 66.4h0M259.1 96.1h0M265.6 92.8h0M273.4 91.7h0M252.9 87.1h0M266.8 56.7h0M261.6 91.6h0M267.2 86.5h0M281.7 93.6h0M273.7 92.2h0M282.8 86.1h0M259.3 97.1h0M252.2 86.3h0M275.6 78.5h0M248.8 82.2h0M262.4 87.5h0M266.3 96.5h0M279.7 95.1h0M249.5 90.0h0M269.4 88.9h0M280.4 93.3h0M261.3 90.7h0M248.0 93.2h0M271.5 92.4h0M271.6 73.3h0M264.5 89.6h0M274.2 93.8h0M270.7 96.0h0M260.2 88.6h0M268.0 71.6h0M249.3 92.1h0M253.6 101.4h0M283.4 81.8h0M263.5 100.3h0M261.4 81.1h0M275.1 86.9h0M267.2 87.9h0M252.0 101.0h0M266.0 82.5h0M261.8 86.1h0M254.7 94.1h0M260.6 94.7h0M261.0 72.7h0M256.8 86.8h0M251.1 92.8h0M260.4 95.9h0M260.1 94.8h0M259.8 71.3h0M273.6 81.7h0M278.4 81.2h0M273.6 78.4h0M261.3 97.0h0M273.1 67.3h0M266.6 99.8h0M270.2 86.2h0M270.4 73.3h0M271.0 96.5h0M271.9 78.4h0M274.0 81.7h0M279.9 82.6h0M262.1 81.3h0M259.1 73.5h0M271.0 57.5h0M284.1 95.7h0M271.6 77.0h0M268.0 86.7h0M271.6 69.6h0M270.8 64.3h0M266.9 75.6h0M261.3 81.0h0M270.4 102.4h0M269.7 73.9h0M284.6 73.9h0M261.5 82.3h0M254.9 99.6h0M266.6 99.6h0M260.6 95.4h0M265.1 84.1h0M267.7 91.4h0M272.2 85.1h0M252.7 78.6h0M255.7 93.4h0M267.6 66.9h0M268.6 92.7h0M257.2 87.3h0M269.5 78.6h0M264.9 101.2h0M256.5 89.0h0M273.6 96.1h0M249.8 85.2h0M258.5 99.1h0M252.7 88.6h0M252.2 104.2h0M283.9 79.4h0M273.4 87.5h0M253.7 69.9h0M265.4 92.2h0M261.5 88.4h0M268.1 90.1h0M254.2 84.6h0M275.7 70.2h0M261.2 73.1h0M262.2 76.2h0M283.5 91.3h0M264.3 90.1h0M280.7 92.1h0M261.6 88.2h0M278.7 86.9h0M278.6 93.2h0M262.8 91.3h0M285.7 88.3h0M277.5 96.1h0M267.4 87.1h0M272.0 95.2h0M267.6 94.6h0M259.8 76.4h0M257.5 79.6h0M265.2 81.3h0M274.0 76.6h0M261.1 95.4h0M281.9 91.0h0M255.6 86.2h0M257.2 79.0h0M273.8 72.6h0M271.5 85.8h0M262.1 91.6h0M263.4 64.6h0M268.5 77.9h0M267.5 73.0h0M260.2 71.9h0M256.3 73.5h0M258.5 84.3h0M298.0 87.0h0M249.1 88.5h0M257.0 72.6h0M262.6 85.5h0M265.9 88.9h0M261.5 98.2h0M275.6 81.8h0M268.0 69.9h0M272.8 85.2h0M286.1 83.0h0M283.1 79.2h0M252.6 71.8h0M266.1 98.3h0M254.7 94.6h0M262.5 78.6h0M258.0 103.8h0M266.7 89.7h0M251.1 83.8h0M259.8 75.6h0M259.2 76.1h0M274.7 78.4h0M277.8 89.3h0M259.2 76.0h0M257.3 65.8h0M274.1 98.6h0M257.9 78.1h0M283.2 81.5h0M266.4 92.0h0M264.5 83.0h0M262.3 86.1h0M250.9 82.2h0M271.6 71.0h0M272.9 76.2h0M246.9 56.9h0M265.0 92.2h0M266.2 67.9h0M261.5 95.5h0M269.8 68.7h0M270.8 84.4h0M263.9 85.7h0M271.4 85.6h0M257.0 81.8h0M263.4 99.2h0M254.6 80.8h0M256.6 86.3h0M269.9 49.1h0M276.8 80.3h0M260.0 65.5h0M259.6 68.0h0M263.9 86.7h0M263.9 89.3h0M256.0 90.1h0M263.4 90.2h0M272.6 82.8h0M275.0 97.6h0M256.5 104.3h0M286.1 72.2h0M267.3 97.2h0M272.1 87.0h0M272.7 96.0h0M261.1 86.5h0M277.8 81.0h0M262.4 74.5h0M277.5 96.8h0M274.9 83.5h0M261.9 99.2h0M259.6 98.3h0M265.7 85.3h0M268.4 96.7h0M283.4 86.1h0M284.0 81.3h0M264.5 58.2h0M269.3 104.5h0M255.5 79.0h0M268.1 67.5h0M265.6 89.2h0M264.2 72.9h0M265.3 92.8h0M252.8 81.0h0M279.6 55.4h0M249.8 97.3h0M261.3 91.8h0M267.8 72.4h0M254.1 79.3h0M278.4 92.8h0M273.6 63.4h0M264.1 69.1h0M247.9 85.3h0M276.1 79.2h0M258.5 89.0h0M277.4 76.1h0M274.1 99.4h0M269.3 73.2h0M269.2 95.0h0M284.3 83.4h0M281.9 85.8h0M271.2 85.9h0M262.2 102.7h0M256.9 93.5h0M263.5 84.7h0M258.5 86.3h0M247.8 77.8h0M272.9 97.9h0M254.0 69.0h0M261.9 84.6h0M262.7 88.7h0M256.5 86.5h0M267.3 98.9h0M254.8 93.9h0M281.8 99.8h0M279.9 59.8h0M276.0 94.8h0M260.4 79.5h0M275.7 91.7h0M272.1 76.1h0M268.8 89.7h0M247.2 87.2h0M259.2 67.9h0M265.7 89.3h0M255.5 74.0h0M278.2 92.2h0M276.0 88.2h0M277.4 82.5h0M263.9 73.7h0M248.8 76.4h0M254.4 77.0h0M266.8 88.2h0M270.9 82.4h0M261.8 99.0h0M264.4 85.8h0M279.1 78.7h0M252.6 94.2h0M251.1 94.1h0M266.9 78.3h0M252.3 66.9h0M277.3 73.5h0M270.9 86.6h0M266.5 72.8h0M258.7 87.2h0M254.5 90.5h0M266.5 92.6h0M266.4 92.8h0M267.0 96.2h0M268.5 90.4h0M262.4 63.4h0M263.4 96.9h0M261.8 65.0h0M259.5 88.4h0M275.1 84.2h0M254.7 81.9h0M272.6 86.8h0M277.1 82.5h0M259.0 73.1h0M270.8 86.7h0M278.8 87.8h0M253.3 70.5h0M284.0 69.8h0M249.6 91.5h0M263.5 100.0h0M257.9 74.5h0M266.3 70.5h0M264.1 83.1h0M274.5 86.9h0M260.5 90.4h0M273.3 100.6h0M269.7 82.0h0M265.4 69.4h0M266.6 85.6h0M281.0 92.5h0M269.0 102.7h0M249.9 73.4h0M263.2 86.5h0M252.3 92.7h0M273.0 93.8h0M275.8 74.8h0M278.7 81.6h0M247.3 82.3h0M272.0 78.9h0M253.5 68.1h0M272.3 56.0h0M272.6 99.9h0M260.9 97.5h0M267.8 72.1h0M270.2 93.8h0M261.3 67.0h0M252.8 96.7h0M270.5 80.1h0M284.2 68.6h0M291.4 59.7h0M278.9 55.3h0M249.2 72.7h0M263.7 53.5h0M287.8 69.4h0M285.1 95.9h0M282.2 78.0h0M263.1 83.4h0M291.6 57.0h0M288.9 76.2h0M276.7 72.9h0M313.6 62.7h0M275.1 73.1h0M277.2 46.2h0M288.8 84.6h0M303.9 63.8h0M262.1 80.9h0M265.4 71.7h0M274.1 74.4h0M273.5 81.5h0M290.7 63.0h0M266.2 69.1h0M273.2 60.2h0M299.3 85.4h0M264.6 79.6h0M280.0 82.6h0M270.5 101.6h0M280.9 99.7h0M273.2 90.7h0M278.3 95.1h0M277.3 56.9h0M264.8 62.9h0M288.3 77.1h0M281.5 86.7h0M302.8 57.8h0M293.9 104.2h0M271.2 63.9h0M285.5 75.1h0M272.4 70.9h0M302.4 84.7h0M268.6 48.0h0M264.4 74.4h0M268.9 60.1h0M290.0 67.9h0M274.6 74.9h0M300.2 76.2h0M289.6 73.1h0M301.6 54.8h0M264.2 64.8h0M308.3 93.5h0M264.6 65.5h0M287.6 72.9h0M292.4 65.1h0M256.8 80.6h0M297.5 50.5h0M253.7 65.6h0M253.8 78.0h0M263.8 82.4h0M275.2 73.8h0M289.2 69.1h0M265.8 84.8h0M259.4 91.7h0M271.5 64.6h0M285.5 77.8h0M287.1 51.5h0M267.7 76.8h0M285.2 70.7h0M298.1 69.5h0M293.2 87.2h0M284.9 69.3h0M290.4 78.3h0M288.7 59.9h0M286.6 94.3h0M276.1 74.0h0M276.7 84.4h0M251.3 94.4h0M287.2 68.9h0M283.9 87.8h0M285.3 81.5h0M296.9 74.5h0M290.5 92.7h0M288.0 63.5h0M290.9 100.6h0M275.7 78.5h0M286.2 84.5h0M274.5 71.9h0M307.4 81.9h0M271.6 83.2h0M281.1 93.6h0M257.8 73.6h0M293.9 54.6h0M269.9 78.9h0M280.8 68.0h0M284.5 52.9h0M268.6 96.3h0M271.3 78.3h0M279.5 84.2h0M284.8 77.9h0M296.4 76.7h0M256.7 63.1h0M300.0 87.0h0M277.0 50.2h0M270.4 101.1h0M296.9 89.2h0M257.9 53.5h0M272.1 53.5h0M281.8 57.1h0M286.8 69.2h0M272.5 81.3h0M286.4 74.0h0M275.2 71.5h0M253.6 45.1h0M270.9 74.1h0M304.6 77.7h0M266.5 65.5h0M262.7 71.6h0M278.9 71.7h0M283.9 86.6h0M289.6 56.2h0M291.8 58.2h0M285.5 73.5h0M303.4 70.8h0M278.9 68.4h0M292.1 76.5h0M276.5 83.7h0M309.3 94.7h0M301.0 64.9h0M279.0 74.5h0M256.8 96.0h0M260.5 77.8h0M263.3 74.0h0M291.7 79.5h0M268.5 63.4h0M293.1 71.4h0M281.9 85.2h0M297.7 96.9h0M289.8 62.2h0M293.7 98.2h0M271.6 62.4h0M278.3 66.7h0M252.3 39.8h0M262.3 63.7h0M286.3 65.1h0M282.8 91.2h0M266.9 86.0h0M280.3 77.1h0M293.6 83.0h0M262.3 56.6h0M284.0 82.0h0M309.3 80.6h0M275.3 65.6h0M270.5 54.5h0M262.3 64.7h0M281.6 61.7h0M280.5 68.4h0M277.1 66.3h0M284.2 72.5h0M281.7 63.9h0M282.6 62.7h0M281.9 60.2h0M289.6 77.0h0M260.3 62.6h0M289.9 77.8h0M282.1 56.6h0M270.9 74.4h0M284.3 72.0h0M268.8 69.0h0M273.4 56.2h0M265.1 61.1h0M259.6 78.6h0M290.7 84.3h0M269.5 61.8h0M283.5 65.7h0M275.8 67.8h0" fill="none" stroke="#000" stroke-width="0.75" stroke-linecap="square" stroke-opacity="0.36"/>
</g>
<rect x="276.00" y="33.40" width="39.30" height="37.30" fill="none" stroke="#7a7a7a" stroke-width="1.0" />
<line x1="11.50" y1="85.00" x2="11.50" y2="35.00" stroke="#000" stroke-width="1.0" />
<path d="M11.5 32.3 L9.6 37.5 L13.4 37.5 Z" fill="#000" stroke="none" stroke-width="1" />
<text transform="translate(14.80,106.00) rotate(-90)" font-size="8.6" fill="#1a1a1a" textLength="17.3" lengthAdjust="spacingAndGlyphs">F4/80</text>
<text x="24.80" y="117.90" font-size="9" fill="#1a1a1a" textLength="23.1" lengthAdjust="spacingAndGlyphs">VCAM-1</text>
<line x1="52.00" y1="114.60" x2="311.00" y2="114.60" stroke="#000" stroke-width="1.0" />
<path d="M314.5 114.6 L309 112.7 L309 116.5 Z" fill="#000" stroke="none" stroke-width="1" />
<text x="337.30" y="17.00" font-size="11" fill="#000" font-weight="bold">B</text>
<line x1="369.50" y1="33.30" x2="369.50" y2="98.40" stroke="#1a1a1a" stroke-width="1.1" />
<line x1="366.80" y1="97.80" x2="369.50" y2="97.80" stroke="#1a1a1a" stroke-width="0.9" />
<text x="364.20" y="100.00" font-size="6.2" fill="#222" text-anchor="end" style="stroke-width:0.12px">0</text>
<line x1="366.80" y1="85.55" x2="369.50" y2="85.55" stroke="#1a1a1a" stroke-width="0.9" />
<text x="364.20" y="87.75" font-size="6.2" fill="#222" text-anchor="end" style="stroke-width:0.12px">20</text>
<line x1="366.80" y1="73.30" x2="369.50" y2="73.30" stroke="#1a1a1a" stroke-width="0.9" />
<text x="364.20" y="75.50" font-size="6.2" fill="#222" text-anchor="end" style="stroke-width:0.12px">40</text>
<line x1="366.80" y1="61.05" x2="369.50" y2="61.05" stroke="#1a1a1a" stroke-width="0.9" />
<text x="364.20" y="63.25" font-size="6.2" fill="#222" text-anchor="end" style="stroke-width:0.12px">60</text>
<line x1="366.80" y1="48.80" x2="369.50" y2="48.80" stroke="#1a1a1a" stroke-width="0.9" />
<text x="364.20" y="51.00" font-size="6.2" fill="#222" text-anchor="end" style="stroke-width:0.12px">80</text>
<line x1="366.80" y1="36.55" x2="369.50" y2="36.55" stroke="#1a1a1a" stroke-width="0.9" />
<text x="364.20" y="38.75" font-size="6.2" fill="#222" text-anchor="end" style="stroke-width:0.12px">100</text>
<rect x="373.25" y="97.06" width="15.50" height="0.84" fill="#222" stroke="#222" stroke-width="0.6" />
<rect x="396.05" y="57.19" width="15.50" height="40.71" fill="#2c4f8c" stroke="#223f72" stroke-width="0.6" />
<line x1="403.80" y1="57.19" x2="403.80" y2="56.76" stroke="#222" stroke-width="0.9" />
<line x1="400.30" y1="56.76" x2="407.30" y2="56.76" stroke="#222" stroke-width="1.0" />
<rect x="419.55" y="46.96" width="15.50" height="50.94" fill="#6eaa3c" stroke="#5a9a30" stroke-width="0.6" />
<line x1="427.30" y1="46.96" x2="427.30" y2="46.35" stroke="#222" stroke-width="0.9" />
<line x1="423.80" y1="46.35" x2="430.80" y2="46.35" stroke="#222" stroke-width="1.0" />
<rect x="442.75" y="43.72" width="15.50" height="54.18" fill="#ab0a2c" stroke="#8f0a25" stroke-width="0.6" />
<line x1="450.50" y1="43.72" x2="450.50" y2="43.29" stroke="#222" stroke-width="0.9" />
<line x1="447.00" y1="43.29" x2="454.00" y2="43.29" stroke="#222" stroke-width="1.0" />
<line x1="369.50" y1="97.90" x2="461.30" y2="97.90" stroke="#1a1a1a" stroke-width="1.1" />
<line x1="381.00" y1="97.90" x2="381.00" y2="100.90" stroke="#1a1a1a" stroke-width="0.9" />
<line x1="403.80" y1="97.90" x2="403.80" y2="100.90" stroke="#1a1a1a" stroke-width="0.9" />
<line x1="427.30" y1="97.90" x2="427.30" y2="100.90" stroke="#1a1a1a" stroke-width="0.9" />
<line x1="450.50" y1="97.90" x2="450.50" y2="100.90" stroke="#1a1a1a" stroke-width="0.9" />
<text transform="translate(384.80,106.20) rotate(-45)" font-size="6.6" fill="#222" text-anchor="end" style="stroke-width:0.2px">0 days</text>
<text transform="translate(407.60,106.20) rotate(-45)" font-size="6.6" fill="#222" text-anchor="end" style="stroke-width:0.2px">5 days</text>
<text transform="translate(431.10,106.20) rotate(-45)" font-size="6.6" fill="#222" text-anchor="end" style="stroke-width:0.2px">6 days</text>
<text transform="translate(454.30,106.20) rotate(-45)" font-size="6.6" fill="#222" text-anchor="end" style="stroke-width:0.2px">7 days</text>
<line x1="381.00" y1="28.60" x2="449.20" y2="28.60" stroke="#3a3a3a" stroke-width="1.4" />
<text x="415.10" y="28.80" font-size="5.6" fill="#666" text-anchor="middle" style="stroke:none">****</text>
<line x1="404.00" y1="34.70" x2="449.20" y2="34.70" stroke="#3a3a3a" stroke-width="1.4" />
<text x="426.60" y="34.90" font-size="5.6" fill="#666" text-anchor="middle" style="stroke:none">****</text>
<line x1="426.70" y1="40.80" x2="449.20" y2="40.80" stroke="#3a3a3a" stroke-width="1.4" />
<text x="437.95" y="41.00" font-size="5.6" fill="#666" text-anchor="middle" style="stroke:none">***</text>
<text transform="translate(347.80,65.50) rotate(-90)" font-size="7.2" fill="#222" text-anchor="middle" textLength="65" lengthAdjust="spacingAndGlyphs">F4/80<tspan font-size="4.5" dy="-2">hi</tspan><tspan dy="2">, VCAM-1</tspan><tspan font-size="4.5" dy="-2">+</tspan><tspan dy="2"> (%)</tspan></text>
<text x="7.40" y="142.70" font-size="11" fill="#000" font-weight="bold">C</text>
<path d="M30.4 217.5 L38.7 212.0 L44.9 205.8 L49.0 195.5 L52.1 185.1 L54.7 176.9 L57.3 171.7 L59.8 168.6 L62.4 170.7 L65.0 179.0 L67.0 184.0 L70.0 178.0 L74.0 168.0 L78.0 161.0 L80.5 158.8 L82.4 158.3 L83.5 161.0 L85.0 162.4 L87.0 168.0 L89.0 180.0 L91.2 191.0 L94.0 202.0 L97.0 210.5 L99.4 215.0 L101.5 217.5 Z" fill="#6c7cc6" stroke="#26337f" stroke-width="0.9" />
<path d="M40.0 217.5 L48.0 213.0 L56.2 207.9 L61.4 196.5 L62.7 191.0 L65.5 184.0 L68.0 177.0 L70.5 170.0 L72.5 163.0 L74.6 158.8 L77.0 158.5 L79.3 170.7 L81.5 181.0 L83.9 191.0 L86.0 203.0 L88.0 214.0 L89.0 217.5 Z" fill="#17863e" stroke="#1e6a30" stroke-width="0.5" />
<path d="M28.0 217.5 L35.0 216.2 L43.8 214.8 L52.0 214.0 L60.0 213.2 L64.2 207.0 L65.8 199.0 L66.8 191.0 L69.0 180.0 L72.0 170.0 L74.6 162.0 L76.0 159.5 L77.2 158.8 L79.0 159.5 L80.5 163.0 L82.0 170.0 L84.5 181.0 L87.0 191.0 L90.0 203.0 L93.2 214.0 L94.5 217.5 Z" fill="#fa180e" stroke="none" stroke-width="1" />
<path d="M74.6 162.0 L76.0 159.5 L77.2 158.8 L79.0 159.5 L80.5 163.0 L82.0 170.0 L84.5 181.0 L87.0 191.0 L90.0 203.0 L93.2 214.0 L94.5 217.5" fill="none" stroke="#c01010" stroke-width="0.6" />
<path d="M77.0 158.5 L79.3 170.7 L81.5 181.0 L83.9 191.0 L86.0 203.0 L88.0 214.0 L89.0 217.5" fill="none" stroke="#7a3020" stroke-width="0.9" />
<path d="M21.1 216.5 L29.4 214.6 L36.6 208.9 L41.8 199.6 L45.9 190.3 L48.5 178.9 L50.5 168.6 L52.6 162.4 L54.7 159.1 L56.7 161.4 L58.8 167.0 L59.6 168.6 L63.0 177.0 L67.4 185.0 L71.0 189.5 L75.7 193.4 L82.9 199.6 L89.0 207.9 L96.3 216.0 L99.0 217.5" fill="none" stroke="#151515" stroke-width="0.8" />
<line x1="20.80" y1="154.80" x2="20.80" y2="218.00" stroke="#111" stroke-width="1.1" />
<line x1="19.30" y1="217.00" x2="20.80" y2="217.00" stroke="#111" stroke-width="0.7" />
<line x1="19.30" y1="214.40" x2="20.80" y2="214.40" stroke="#111" stroke-width="0.7" />
<line x1="19.30" y1="211.80" x2="20.80" y2="211.80" stroke="#111" stroke-width="0.7" />
<line x1="19.30" y1="209.20" x2="20.80" y2="209.20" stroke="#111" stroke-width="0.7" />
<line x1="19.30" y1="206.60" x2="20.80" y2="206.60" stroke="#111" stroke-width="0.7" />
<line x1="19.30" y1="204.00" x2="20.80" y2="204.00" stroke="#111" stroke-width="0.7" />
<line x1="19.30" y1="201.40" x2="20.80" y2="201.40" stroke="#111" stroke-width="0.7" />
<line x1="19.30" y1="198.80" x2="20.80" y2="198.80" stroke="#111" stroke-width="0.7" />
<line x1="19.30" y1="196.20" x2="20.80" y2="196.20" stroke="#111" stroke-width="0.7" />
<line x1="19.30" y1="193.60" x2="20.80" y2="193.60" stroke="#111" stroke-width="0.7" />
<line x1="19.30" y1="191.00" x2="20.80" y2="191.00" stroke="#111" stroke-width="0.7" />
<line x1="19.30" y1="188.40" x2="20.80" y2="188.40" stroke="#111" stroke-width="0.7" />
<line x1="19.30" y1="185.80" x2="20.80" y2="185.80" stroke="#111" stroke-width="0.7" />
<line x1="19.30" y1="183.20" x2="20.80" y2="183.20" stroke="#111" stroke-width="0.7" />
<line x1="19.30" y1="180.60" x2="20.80" y2="180.60" stroke="#111" stroke-width="0.7" />
<line x1="19.30" y1="178.00" x2="20.80" y2="178.00" stroke="#111" stroke-width="0.7" />
<line x1="19.30" y1="175.40" x2="20.80" y2="175.40" stroke="#111" stroke-width="0.7" />
<line x1="19.30" y1="172.80" x2="20.80" y2="172.80" stroke="#111" stroke-width="0.7" />
<line x1="19.30" y1="170.20" x2="20.80" y2="170.20" stroke="#111" stroke-width="0.7" />
<line x1="19.30" y1="167.60" x2="20.80" y2="167.60" stroke="#111" stroke-width="0.7" />
<line x1="19.30" y1="165.00" x2="20.80" y2="165.00" stroke="#111" stroke-width="0.7" />
<line x1="19.30" y1="162.40" x2="20.80" y2="162.40" stroke="#111" stroke-width="0.7" />
<line x1="19.30" y1="159.80" x2="20.80" y2="159.80" stroke="#111" stroke-width="0.7" />
<line x1="19.30" y1="157.20" x2="20.80" y2="157.20" stroke="#111" stroke-width="0.7" />
<line x1="20.80" y1="217.70" x2="124.60" y2="217.70" stroke="#111" stroke-width="1.1" />
<line x1="22.00" y1="217.70" x2="22.00" y2="220.50" stroke="#111" stroke-width="0.7" />
<line x1="24.60" y1="217.70" x2="24.60" y2="219.20" stroke="#111" stroke-width="0.7" />
<line x1="27.20" y1="217.70" x2="27.20" y2="219.20" stroke="#111" stroke-width="0.7" />
<line x1="29.80" y1="217.70" x2="29.80" y2="219.20" stroke="#111" stroke-width="0.7" />
<line x1="32.40" y1="217.70" x2="32.40" y2="219.20" stroke="#111" stroke-width="0.7" />
<line x1="35.00" y1="217.70" x2="35.00" y2="219.20" stroke="#111" stroke-width="0.7" />
<line x1="37.60" y1="217.70" x2="37.60" y2="219.20" stroke="#111" stroke-width="0.7" />
<line x1="40.20" y1="217.70" x2="40.20" y2="219.20" stroke="#111" stroke-width="0.7" />
<line x1="42.80" y1="217.70" x2="42.80" y2="219.20" stroke="#111" stroke-width="0.7" />
<line x1="45.40" y1="217.70" x2="45.40" y2="220.50" stroke="#111" stroke-width="0.7" />
<line x1="48.00" y1="217.70" x2="48.00" y2="219.20" stroke="#111" stroke-width="0.7" />
<line x1="50.60" y1="217.70" x2="50.60" y2="219.20" stroke="#111" stroke-width="0.7" />
<line x1="53.20" y1="217.70" x2="53.20" y2="219.20" stroke="#111" stroke-width="0.7" />
<line x1="55.80" y1="217.70" x2="55.80" y2="219.20" stroke="#111" stroke-width="0.7" />
<line x1="58.40" y1="217.70" x2="58.40" y2="219.20" stroke="#111" stroke-width="0.7" />
<line x1="61.00" y1="217.70" x2="61.00" y2="219.20" stroke="#111" stroke-width="0.7" />
<line x1="63.60" y1="217.70" x2="63.60" y2="219.20" stroke="#111" stroke-width="0.7" />
<line x1="66.20" y1="217.70" x2="66.20" y2="219.20" stroke="#111" stroke-width="0.7" />
<line x1="68.80" y1="217.70" x2="68.80" y2="220.50" stroke="#111" stroke-width="0.7" />
<line x1="71.40" y1="217.70" x2="71.40" y2="219.20" stroke="#111" stroke-width="0.7" />
<line x1="74.00" y1="217.70" x2="74.00" y2="219.20" stroke="#111" stroke-width="0.7" />
<line x1="76.60" y1="217.70" x2="76.60" y2="219.20" stroke="#111" stroke-width="0.7" />
<line x1="79.20" y1="217.70" x2="79.20" y2="219.20" stroke="#111" stroke-width="0.7" />
<line x1="81.80" y1="217.70" x2="81.80" y2="219.20" stroke="#111" stroke-width="0.7" />
<line x1="84.40" y1="217.70" x2="84.40" y2="219.20" stroke="#111" stroke-width="0.7" />
<line x1="87.00" y1="217.70" x2="87.00" y2="219.20" stroke="#111" stroke-width="0.7" />
<line x1="89.60" y1="217.70" x2="89.60" y2="219.20" stroke="#111" stroke-width="0.7" />
<line x1="92.20" y1="217.70" x2="92.20" y2="220.50" stroke="#111" stroke-width="0.7" />
<line x1="94.80" y1="217.70" x2="94.80" y2="219.20" stroke="#111" stroke-width="0.7" />
<line x1="97.40" y1="217.70" x2="97.40" y2="219.20" stroke="#111" stroke-width="0.7" />
<line x1="100.00" y1="217.70" x2="100.00" y2="219.20" stroke="#111" stroke-width="0.7" />
<line x1="102.60" y1="217.70" x2="102.60" y2="219.20" stroke="#111" stroke-width="0.7" />
<line x1="105.20" y1="217.70" x2="105.20" y2="219.20" stroke="#111" stroke-width="0.7" />
<line x1="107.80" y1="217.70" x2="107.80" y2="219.20" stroke="#111" stroke-width="0.7" />
<line x1="110.40" y1="217.70" x2="110.40" y2="219.20" stroke="#111" stroke-width="0.7" />
<line x1="113.00" y1="217.70" x2="113.00" y2="219.20" stroke="#111" stroke-width="0.7" />
<line x1="115.60" y1="217.70" x2="115.60" y2="220.50" stroke="#111" stroke-width="0.7" />
<line x1="118.20" y1="217.70" x2="118.20" y2="219.20" stroke="#111" stroke-width="0.7" />
<line x1="120.80" y1="217.70" x2="120.80" y2="219.20" stroke="#111" stroke-width="0.7" />
<line x1="123.40" y1="217.70" x2="123.40" y2="219.20" stroke="#111" stroke-width="0.7" />
<line x1="99.70" y1="163.50" x2="105.00" y2="163.50" stroke="#111" stroke-width="1.1" />
<text x="108.50" y="165.30" font-size="5.9" fill="#222" textLength="15.3" lengthAdjust="spacingAndGlyphs" style="stroke-width:0.1px">0 days</text>
<rect x="99.90" y="168.00" width="5.40" height="5.60" fill="#4a58a8" stroke="#222" stroke-width="0.7" />
<text x="108.50" y="173.00" font-size="5.9" fill="#222" textLength="15.3" lengthAdjust="spacingAndGlyphs" style="stroke-width:0.1px">5 days</text>
<rect x="99.90" y="176.00" width="5.40" height="5.60" fill="#2e8040" stroke="#222" stroke-width="0.7" />
<text x="108.50" y="181.00" font-size="5.9" fill="#222" textLength="15.3" lengthAdjust="spacingAndGlyphs" style="stroke-width:0.1px">6 days</text>
<rect x="99.90" y="184.00" width="5.40" height="5.60" fill="#c02a2a" stroke="#222" stroke-width="0.7" />
<text x="108.50" y="189.00" font-size="5.9" fill="#222" textLength="15.3" lengthAdjust="spacingAndGlyphs" style="stroke-width:0.1px">7 days</text>
<line x1="11.00" y1="189.00" x2="11.00" y2="164.00" stroke="#000" stroke-width="1.0" />
<path d="M11 161 L9.2 166 L12.8 166 Z" fill="#000" stroke="none" stroke-width="1" />
<text transform="translate(13.50,219.50) rotate(-90)" font-size="7.8" fill="#1a1a1a" textLength="27.5" lengthAdjust="spacingAndGlyphs">% of Max</text>
<text x="24.60" y="231.50" font-size="8.5" fill="#1a1a1a" textLength="24" lengthAdjust="spacingAndGlyphs">VCAM-1</text>
<line x1="53.00" y1="229.00" x2="108.50" y2="229.00" stroke="#000" stroke-width="1.0" />
<path d="M112 229 L106.5 227.1 L106.5 230.9 Z" fill="#000" stroke="none" stroke-width="1" />
<text x="143.75" y="143.00" font-size="11" fill="#000" font-weight="bold">D</text>
<text x="217.50" y="145.50" font-size="9" fill="#1a1a1a" text-anchor="middle" textLength="27" lengthAdjust="spacingAndGlyphs">BMDM</text>
<line x1="172.00" y1="154.50" x2="172.00" y2="218.10" stroke="#1a1a1a" stroke-width="1.1" />
<line x1="169.30" y1="217.60" x2="172.00" y2="217.60" stroke="#1a1a1a" stroke-width="0.9" />
<text x="166.70" y="219.80" font-size="6.2" fill="#222" text-anchor="end" style="stroke-width:0.12px">0</text>
<line x1="169.30" y1="202.55" x2="172.00" y2="202.55" stroke="#1a1a1a" stroke-width="0.9" />
<text x="166.70" y="204.75" font-size="6.2" fill="#222" text-anchor="end" style="stroke-width:0.12px">20</text>
<line x1="169.30" y1="187.50" x2="172.00" y2="187.50" stroke="#1a1a1a" stroke-width="0.9" />
<text x="166.70" y="189.70" font-size="6.2" fill="#222" text-anchor="end" style="stroke-width:0.12px">40</text>
<line x1="169.30" y1="172.45" x2="172.00" y2="172.45" stroke="#1a1a1a" stroke-width="0.9" />
<text x="166.70" y="174.65" font-size="6.2" fill="#222" text-anchor="end" style="stroke-width:0.12px">60</text>
<line x1="169.30" y1="157.40" x2="172.00" y2="157.40" stroke="#1a1a1a" stroke-width="0.9" />
<text x="166.70" y="159.60" font-size="6.2" fill="#222" text-anchor="end" style="stroke-width:0.12px">80</text>
<line x1="172.00" y1="217.60" x2="262.50" y2="217.60" stroke="#1a1a1a" stroke-width="1.1" />
<line x1="184.50" y1="217.60" x2="184.50" y2="220.60" stroke="#1a1a1a" stroke-width="0.9" />
<line x1="206.30" y1="217.60" x2="206.30" y2="220.60" stroke="#1a1a1a" stroke-width="0.9" />
<line x1="228.80" y1="217.60" x2="228.80" y2="220.60" stroke="#1a1a1a" stroke-width="0.9" />
<line x1="251.00" y1="217.60" x2="251.00" y2="220.60" stroke="#1a1a1a" stroke-width="0.9" />
<text transform="translate(188.30,225.90) rotate(-45)" font-size="6.5" fill="#222" text-anchor="end" style="stroke-width:0.2px">Vehicle</text>
<text transform="translate(210.10,225.90) rotate(-45)" font-size="6.5" fill="#222" text-anchor="end" style="stroke-width:0.2px">IgG</text>
<text transform="translate(232.60,225.90) rotate(-45)" font-size="6.5" fill="#222" text-anchor="end" style="stroke-width:0.2px">Fresh RBCs</text>
<text transform="translate(254.80,225.90) rotate(-45)" font-size="6.5" fill="#222" text-anchor="end" style="stroke-width:0.2px">IgG-RBCs</text>
<line x1="184.50" y1="156.30" x2="251.00" y2="156.30" stroke="#3a3a3a" stroke-width="1.4" />
<text x="217.75" y="156.50" font-size="5.6" fill="#666" text-anchor="middle" style="stroke:none">****</text>
<line x1="206.00" y1="162.10" x2="251.00" y2="162.10" stroke="#3a3a3a" stroke-width="1.4" />
<text x="228.50" y="162.30" font-size="5.6" fill="#666" text-anchor="middle" style="stroke:none">****</text>
<line x1="230.50" y1="168.30" x2="251.00" y2="168.30" stroke="#3a3a3a" stroke-width="1.4" />
<text x="240.75" y="168.50" font-size="5.6" fill="#666" text-anchor="middle" style="stroke:none">****</text>
<line x1="244.50" y1="176.30" x2="257.50" y2="176.30" stroke="#5a2a80" stroke-width="1.4000000000000001" />
<line x1="251.00" y1="171.00" x2="251.00" y2="181.30" stroke="#5a2a80" stroke-width="1.1" />
<line x1="247.80" y1="171.00" x2="254.20" y2="171.00" stroke="#5a2a80" stroke-width="1.1" />
<line x1="247.80" y1="181.30" x2="254.20" y2="181.30" stroke="#5a2a80" stroke-width="1.1" />
<circle cx="250.00" cy="172.50" r="1.3" fill="#5a2a80"/>
<circle cx="250.00" cy="181.00" r="1.3" fill="#5a2a80"/>
<circle cx="252.50" cy="176.50" r="1.3" fill="#5a2a80"/>
<line x1="177.50" y1="216.47" x2="191.50" y2="216.47" stroke="#ab0a2c" stroke-width="2.2" />
<line x1="199.30" y1="216.47" x2="213.30" y2="216.47" stroke="#2c4f8c" stroke-width="2.2" />
<line x1="221.80" y1="215.34" x2="235.80" y2="215.34" stroke="#6eaa3c" stroke-width="3.2" />
<text transform="translate(155.50,186.30) rotate(-90)" font-size="7.5" fill="#222" text-anchor="middle" textLength="29" lengthAdjust="spacingAndGlyphs">RBC<tspan font-size="4.5" dy="-2">+</tspan><tspan dy="2"> (%)</tspan></text>
<text x="282.00" y="143.00" font-size="11" fill="#000" font-weight="bold">E</text>
<text x="358.30" y="140.00" font-size="9" fill="#1a1a1a" text-anchor="middle" textLength="18.5" lengthAdjust="spacingAndGlyphs">J774</text>
<line x1="313.75" y1="156.50" x2="313.75" y2="218.10" stroke="#1a1a1a" stroke-width="1.1" />
<line x1="311.05" y1="217.60" x2="313.75" y2="217.60" stroke="#1a1a1a" stroke-width="0.9" />
<text x="308.45" y="219.80" font-size="6.2" fill="#222" text-anchor="end" style="stroke-width:0.12px">0</text>
<line x1="311.05" y1="205.85" x2="313.75" y2="205.85" stroke="#1a1a1a" stroke-width="0.9" />
<text x="308.45" y="208.05" font-size="6.2" fill="#222" text-anchor="end" style="stroke-width:0.12px">20</text>
<line x1="311.05" y1="194.10" x2="313.75" y2="194.10" stroke="#1a1a1a" stroke-width="0.9" />
<text x="308.45" y="196.30" font-size="6.2" fill="#222" text-anchor="end" style="stroke-width:0.12px">40</text>
<line x1="311.05" y1="182.35" x2="313.75" y2="182.35" stroke="#1a1a1a" stroke-width="0.9" />
<text x="308.45" y="184.55" font-size="6.2" fill="#222" text-anchor="end" style="stroke-width:0.12px">60</text>
<line x1="311.05" y1="170.60" x2="313.75" y2="170.60" stroke="#1a1a1a" stroke-width="0.9" />
<text x="308.45" y="172.80" font-size="6.2" fill="#222" text-anchor="end" style="stroke-width:0.12px">80</text>
<line x1="311.05" y1="158.85" x2="313.75" y2="158.85" stroke="#1a1a1a" stroke-width="0.9" />
<text x="308.45" y="161.05" font-size="6.2" fill="#222" text-anchor="end" style="stroke-width:0.12px">100</text>
<line x1="312.50" y1="217.60" x2="402.50" y2="217.60" stroke="#1a1a1a" stroke-width="1.1" />
<line x1="325.00" y1="217.60" x2="325.00" y2="220.60" stroke="#1a1a1a" stroke-width="0.9" />
<line x1="347.20" y1="217.60" x2="347.20" y2="220.60" stroke="#1a1a1a" stroke-width="0.9" />
<line x1="369.50" y1="217.60" x2="369.50" y2="220.60" stroke="#1a1a1a" stroke-width="0.9" />
<line x1="391.25" y1="217.60" x2="391.25" y2="220.60" stroke="#1a1a1a" stroke-width="0.9" />
<text transform="translate(328.80,225.90) rotate(-45)" font-size="6.5" fill="#222" text-anchor="end" style="stroke-width:0.2px">Vehicle</text>
<text transform="translate(351.00,225.90) rotate(-45)" font-size="6.5" fill="#222" text-anchor="end" style="stroke-width:0.2px">IgG</text>
<text transform="translate(373.30,225.90) rotate(-45)" font-size="6.5" fill="#222" text-anchor="end" style="stroke-width:0.2px">Fresh RBCs</text>
<text transform="translate(395.05,225.90) rotate(-45)" font-size="6.5" fill="#222" text-anchor="end" style="stroke-width:0.2px">IgG-RBCs</text>
<line x1="325.75" y1="150.00" x2="391.75" y2="150.00" stroke="#3a3a3a" stroke-width="1.4" />
<text x="358.75" y="150.20" font-size="5.6" fill="#666" text-anchor="middle" style="stroke:none">****</text>
<line x1="348.75" y1="156.75" x2="391.75" y2="156.75" stroke="#3a3a3a" stroke-width="1.4" />
<text x="370.25" y="156.95" font-size="5.6" fill="#666" text-anchor="middle" style="stroke:none">****</text>
<line x1="371.25" y1="163.00" x2="391.75" y2="163.00" stroke="#3a3a3a" stroke-width="1.4" />
<text x="381.50" y="163.20" font-size="5.6" fill="#666" text-anchor="middle" style="stroke:none">****</text>
<line x1="384.75" y1="169.25" x2="397.75" y2="169.25" stroke="#5a2a80" stroke-width="1.4000000000000001" />
<line x1="391.25" y1="164.50" x2="391.25" y2="176.25" stroke="#5a2a80" stroke-width="1.1" />
<line x1="388.05" y1="164.50" x2="394.45" y2="164.50" stroke="#5a2a80" stroke-width="1.1" />
<line x1="388.05" y1="176.25" x2="394.45" y2="176.25" stroke="#5a2a80" stroke-width="1.1" />
<circle cx="390.00" cy="165.00" r="1.3" fill="#5a2a80"/>
<circle cx="392.00" cy="165.50" r="1.3" fill="#5a2a80"/>
<circle cx="391.00" cy="176.00" r="1.3" fill="#5a2a80"/>
<line x1="318.00" y1="216.72" x2="332.00" y2="216.72" stroke="#ab0a2c" stroke-width="2.2" />
<line x1="340.20" y1="216.72" x2="354.20" y2="216.72" stroke="#2c4f8c" stroke-width="2.2" />
<line x1="362.50" y1="215.54" x2="376.50" y2="215.54" stroke="#6eaa3c" stroke-width="3.2" />
<text transform="translate(292.50,186.90) rotate(-90)" font-size="7.5" fill="#222" text-anchor="middle" textLength="29" lengthAdjust="spacingAndGlyphs">RBC<tspan font-size="4.5" dy="-2">+</tspan><tspan dy="2"> (%)</tspan></text>
<text x="7.70" y="259.60" font-size="11" fill="#000" font-weight="bold">F</text>
<path d="M42.3 347.9 L47.1 335.7 L50.7 318.8 L53.1 312.7 L55.0 304.3 L56.8 289.8 L58.6 281.3 L60.6 275.3 L62.8 275.9 L64.6 289.8 L67.0 301.9 L70.1 316.4 L72.5 326.0 L76.1 329.7 L79.7 335.7 L83.4 341.8 L87.0 345.4 L90.6 347.9 Z" fill="#66c76c" stroke="#1d6b2a" stroke-width="0.9" />
<path d="M44.5 347.9 L46.5 340.6 L49.5 322.4 L51.9 304.3 L53.7 289.8 L55.6 277.7 L57.0 274.3 L58.6 280.0 L59.8 289.8 L61.6 304.3 L63.4 316.4 L65.2 328.5 L67.6 339.3 L70.0 345.4 L71.5 347.9" fill="none" stroke="#111" stroke-width="1.0" />
<path d="M48.3 347.9 L53.1 340.6 L57.4 322.4 L61.0 304.3 L64.0 292.2 L66.4 281.3 L70.1 274.3 L73.1 281.3 L75.5 292.2 L77.3 310.3 L79.1 322.4 L81.6 335.7 L84.6 344.2 L88.2 347.9" fill="none" stroke="#e2453a" stroke-width="0.9" />
<line x1="22.10" y1="271.00" x2="22.10" y2="348.40" stroke="#111" stroke-width="1.1" />
<line x1="20.50" y1="346.90" x2="22.10" y2="346.90" stroke="#111" stroke-width="0.7" />
<line x1="20.50" y1="342.90" x2="22.10" y2="342.90" stroke="#111" stroke-width="0.7" />
<line x1="20.50" y1="338.90" x2="22.10" y2="338.90" stroke="#111" stroke-width="0.7" />
<line x1="20.50" y1="334.90" x2="22.10" y2="334.90" stroke="#111" stroke-width="0.7" />
<line x1="20.50" y1="330.90" x2="22.10" y2="330.90" stroke="#111" stroke-width="0.7" />
<line x1="20.50" y1="326.90" x2="22.10" y2="326.90" stroke="#111" stroke-width="0.7" />
<line x1="20.50" y1="322.90" x2="22.10" y2="322.90" stroke="#111" stroke-width="0.7" />
<line x1="20.50" y1="318.90" x2="22.10" y2="318.90" stroke="#111" stroke-width="0.7" />
<line x1="20.50" y1="314.90" x2="22.10" y2="314.90" stroke="#111" stroke-width="0.7" />
<line x1="20.50" y1="310.90" x2="22.10" y2="310.90" stroke="#111" stroke-width="0.7" />
<line x1="20.50" y1="306.90" x2="22.10" y2="306.90" stroke="#111" stroke-width="0.7" />
<line x1="20.50" y1="302.90" x2="22.10" y2="302.90" stroke="#111" stroke-width="0.7" />
<line x1="20.50" y1="298.90" x2="22.10" y2="298.90" stroke="#111" stroke-width="0.7" />
<line x1="20.50" y1="294.90" x2="22.10" y2="294.90" stroke="#111" stroke-width="0.7" />
<line x1="20.50" y1="290.90" x2="22.10" y2="290.90" stroke="#111" stroke-width="0.7" />
<line x1="20.50" y1="286.90" x2="22.10" y2="286.90" stroke="#111" stroke-width="0.7" />
<line x1="20.50" y1="282.90" x2="22.10" y2="282.90" stroke="#111" stroke-width="0.7" />
<line x1="20.50" y1="278.90" x2="22.10" y2="278.90" stroke="#111" stroke-width="0.7" />
<line x1="20.50" y1="274.90" x2="22.10" y2="274.90" stroke="#111" stroke-width="0.7" />
<line x1="20.50" y1="270.90" x2="22.10" y2="270.90" stroke="#111" stroke-width="0.7" />
<line x1="22.10" y1="347.90" x2="104.50" y2="347.90" stroke="#111" stroke-width="1.1" />
<line x1="24.10" y1="347.90" x2="24.10" y2="350.70" stroke="#111" stroke-width="0.7" />
<line x1="26.80" y1="347.90" x2="26.80" y2="349.50" stroke="#111" stroke-width="0.7" />
<line x1="29.50" y1="347.90" x2="29.50" y2="349.50" stroke="#111" stroke-width="0.7" />
<line x1="32.20" y1="347.90" x2="32.20" y2="349.50" stroke="#111" stroke-width="0.7" />
<line x1="34.90" y1="347.90" x2="34.90" y2="349.50" stroke="#111" stroke-width="0.7" />
<line x1="37.60" y1="347.90" x2="37.60" y2="349.50" stroke="#111" stroke-width="0.7" />
<line x1="40.30" y1="347.90" x2="40.30" y2="349.50" stroke="#111" stroke-width="0.7" />
<line x1="43.00" y1="347.90" x2="43.00" y2="349.50" stroke="#111" stroke-width="0.7" />
<line x1="45.70" y1="347.90" x2="45.70" y2="349.50" stroke="#111" stroke-width="0.7" />
<line x1="48.40" y1="347.90" x2="48.40" y2="350.70" stroke="#111" stroke-width="0.7" />
<line x1="51.10" y1="347.90" x2="51.10" y2="349.50" stroke="#111" stroke-width="0.7" />
<line x1="53.80" y1="347.90" x2="53.80" y2="349.50" stroke="#111" stroke-width="0.7" />
<line x1="56.50" y1="347.90" x2="56.50" y2="349.50" stroke="#111" stroke-width="0.7" />
<line x1="59.20" y1="347.90" x2="59.20" y2="349.50" stroke="#111" stroke-width="0.7" />
<line x1="61.90" y1="347.90" x2="61.90" y2="349.50" stroke="#111" stroke-width="0.7" />
<line x1="64.60" y1="347.90" x2="64.60" y2="349.50" stroke="#111" stroke-width="0.7" />
<line x1="67.30" y1="347.90" x2="67.30" y2="349.50" stroke="#111" stroke-width="0.7" />
<line x1="70.00" y1="347.90" x2="70.00" y2="349.50" stroke="#111" stroke-width="0.7" />
<line x1="72.70" y1="347.90" x2="72.70" y2="350.70" stroke="#111" stroke-width="0.7" />
<line x1="75.40" y1="347.90" x2="75.40" y2="349.50" stroke="#111" stroke-width="0.7" />
<line x1="78.10" y1="347.90" x2="78.10" y2="349.50" stroke="#111" stroke-width="0.7" />
<line x1="80.80" y1="347.90" x2="80.80" y2="349.50" stroke="#111" stroke-width="0.7" />
<line x1="83.50" y1="347.90" x2="83.50" y2="349.50" stroke="#111" stroke-width="0.7" />
<line x1="86.20" y1="347.90" x2="86.20" y2="349.50" stroke="#111" stroke-width="0.7" />
<line x1="88.90" y1="347.90" x2="88.90" y2="349.50" stroke="#111" stroke-width="0.7" />
<line x1="91.60" y1="347.90" x2="91.60" y2="349.50" stroke="#111" stroke-width="0.7" />
<line x1="94.30" y1="347.90" x2="94.30" y2="349.50" stroke="#111" stroke-width="0.7" />
<line x1="97.00" y1="347.90" x2="97.00" y2="350.70" stroke="#111" stroke-width="0.7" />
<line x1="99.70" y1="347.90" x2="99.70" y2="349.50" stroke="#111" stroke-width="0.7" />
<line x1="102.40" y1="347.90" x2="102.40" y2="349.50" stroke="#111" stroke-width="0.7" />
<line x1="11.20" y1="280.00" x2="11.20" y2="314.90" stroke="#000" stroke-width="1.0" />
<path d="M11.2 276 L9.399999999999999 281 L13.0 281 Z" fill="#000" stroke="none" stroke-width="1" />
<text transform="translate(13.70,347.90) rotate(-90)" font-size="7.8" fill="#1a1a1a" textLength="28.5" lengthAdjust="spacingAndGlyphs">% of Max</text>
<text x="31.70" y="360.40" font-size="8.2" fill="#1a1a1a" textLength="38.5" lengthAdjust="spacingAndGlyphs">FITC (DCFDA)</text>
<line x1="74.00" y1="357.50" x2="96.50" y2="357.50" stroke="#000" stroke-width="1.0" />
<path d="M99.5 357.5 L94.0 355.6 L94.0 359.4 Z" fill="#000" stroke="none" stroke-width="1" />
<line x1="77.70" y1="264.20" x2="83.20" y2="264.20" stroke="#111" stroke-width="1.2" />
<line x1="77.70" y1="270.40" x2="83.20" y2="270.40" stroke="#e0302a" stroke-width="1.0" />
<rect x="78.00" y="275.20" width="5.30" height="5.40" fill="#1f6a2a" stroke="#0a2a10" stroke-width="1.0" />
<text x="86.50" y="266.30" font-size="6.0" fill="#222" textLength="9.5" lengthAdjust="spacingAndGlyphs" style="stroke-width:0.15px">PBS</text>
<text x="86.50" y="272.40" font-size="6.0" fill="#222" textLength="23.5" lengthAdjust="spacingAndGlyphs" style="stroke-width:0.15px">IgG-RBCs</text>
<text x="86.50" y="279.80" font-size="6.0" fill="#222" textLength="42.5" lengthAdjust="spacingAndGlyphs" style="stroke-width:0.15px">IgG-RBCs + Fer-1</text>
<text x="265.60" y="259.60" font-size="11" fill="#000" font-weight="bold">G</text>
<path d="M307.5 348.0 L311.3 338.0 L313.1 324.3 L315.0 308.0 L316.3 298.0 L318.1 289.9 L320.0 281.8 L321.3 276.1 L323.1 280.5 L325.0 290.5 L326.9 303.0 L328.8 311.8 L330.6 323.0 L333.1 335.5 L336.3 341.8 L341.3 344.9 L346.3 346.8 L348.0 348.0 Z" fill="#d46a9c" stroke="#4a1830" stroke-width="0.8" />
<path d="M308.0 348.0 L310.0 345.0 L312.5 333.0 L315.0 309.3 L316.9 295.5 L318.8 283.0 L320.6 276.1 L322.5 278.0 L324.4 289.3 L326.9 303.0 L329.4 315.5 L331.9 329.3 L334.4 339.3 L337.5 343.0 L342.5 344.9 L345.0 343.6 L348.8 343.0 L352.5 343.6 L355.0 346.8 L357.5 346.1 L359.4 348.0" fill="none" stroke="#1a0a10" stroke-width="1.1" />
<path d="M311.9 348.0 L316.3 335.5 L319.4 318.0 L321.3 305.5 L323.1 293.0 L324.4 283.0 L325.6 278.0 L326.5 276.1 L328.1 281.8 L330.0 290.5 L331.9 299.3 L333.8 310.5 L335.6 320.5 L337.5 328.0 L340.0 330.5 L343.1 326.8 L346.9 320.5 L349.4 313.6 L351.3 318.0 L353.8 325.5 L356.3 335.5 L358.8 343.0 L361.3 348.0" fill="none" stroke="#e8262a" stroke-width="1.0" />
<line x1="281.00" y1="273.00" x2="281.00" y2="348.50" stroke="#111" stroke-width="1.1" />
<line x1="279.40" y1="347.00" x2="281.00" y2="347.00" stroke="#111" stroke-width="0.7" />
<line x1="279.40" y1="343.00" x2="281.00" y2="343.00" stroke="#111" stroke-width="0.7" />
<line x1="279.40" y1="339.00" x2="281.00" y2="339.00" stroke="#111" stroke-width="0.7" />
<line x1="279.40" y1="335.00" x2="281.00" y2="335.00" stroke="#111" stroke-width="0.7" />
<line x1="279.40" y1="331.00" x2="281.00" y2="331.00" stroke="#111" stroke-width="0.7" />
<line x1="279.40" y1="327.00" x2="281.00" y2="327.00" stroke="#111" stroke-width="0.7" />
<line x1="279.40" y1="323.00" x2="281.00" y2="323.00" stroke="#111" stroke-width="0.7" />
<line x1="279.40" y1="319.00" x2="281.00" y2="319.00" stroke="#111" stroke-width="0.7" />
<line x1="279.40" y1="315.00" x2="281.00" y2="315.00" stroke="#111" stroke-width="0.7" />
<line x1="279.40" y1="311.00" x2="281.00" y2="311.00" stroke="#111" stroke-width="0.7" />
<line x1="279.40" y1="307.00" x2="281.00" y2="307.00" stroke="#111" stroke-width="0.7" />
<line x1="279.40" y1="303.00" x2="281.00" y2="303.00" stroke="#111" stroke-width="0.7" />
<line x1="279.40" y1="299.00" x2="281.00" y2="299.00" stroke="#111" stroke-width="0.7" />
<line x1="279.40" y1="295.00" x2="281.00" y2="295.00" stroke="#111" stroke-width="0.7" />
<line x1="279.40" y1="291.00" x2="281.00" y2="291.00" stroke="#111" stroke-width="0.7" />
<line x1="279.40" y1="287.00" x2="281.00" y2="287.00" stroke="#111" stroke-width="0.7" />
<line x1="279.40" y1="283.00" x2="281.00" y2="283.00" stroke="#111" stroke-width="0.7" />
<line x1="279.40" y1="279.00" x2="281.00" y2="279.00" stroke="#111" stroke-width="0.7" />
<line x1="279.40" y1="275.00" x2="281.00" y2="275.00" stroke="#111" stroke-width="0.7" />
<line x1="281.00" y1="348.00" x2="376.60" y2="348.00" stroke="#111" stroke-width="1.1" />
<line x1="283.00" y1="348.00" x2="283.00" y2="350.80" stroke="#111" stroke-width="0.7" />
<line x1="285.70" y1="348.00" x2="285.70" y2="349.60" stroke="#111" stroke-width="0.7" />
<line x1="288.40" y1="348.00" x2="288.40" y2="349.60" stroke="#111" stroke-width="0.7" />
<line x1="291.10" y1="348.00" x2="291.10" y2="349.60" stroke="#111" stroke-width="0.7" />
<line x1="293.80" y1="348.00" x2="293.80" y2="349.60" stroke="#111" stroke-width="0.7" />
<line x1="296.50" y1="348.00" x2="296.50" y2="349.60" stroke="#111" stroke-width="0.7" />
<line x1="299.20" y1="348.00" x2="299.20" y2="349.60" stroke="#111" stroke-width="0.7" />
<line x1="301.90" y1="348.00" x2="301.90" y2="349.60" stroke="#111" stroke-width="0.7" />
<line x1="304.60" y1="348.00" x2="304.60" y2="349.60" stroke="#111" stroke-width="0.7" />
<line x1="307.30" y1="348.00" x2="307.30" y2="350.80" stroke="#111" stroke-width="0.7" />
<line x1="310.00" y1="348.00" x2="310.00" y2="349.60" stroke="#111" stroke-width="0.7" />
<line x1="312.70" y1="348.00" x2="312.70" y2="349.60" stroke="#111" stroke-width="0.7" />
<line x1="315.40" y1="348.00" x2="315.40" y2="349.60" stroke="#111" stroke-width="0.7" />
<line x1="318.10" y1="348.00" x2="318.10" y2="349.60" stroke="#111" stroke-width="0.7" />
<line x1="320.80" y1="348.00" x2="320.80" y2="349.60" stroke="#111" stroke-width="0.7" />
<line x1="323.50" y1="348.00" x2="323.50" y2="349.60" stroke="#111" stroke-width="0.7" />
<line x1="326.20" y1="348.00" x2="326.20" y2="349.60" stroke="#111" stroke-width="0.7" />
<line x1="328.90" y1="348.00" x2="328.90" y2="349.60" stroke="#111" stroke-width="0.7" />
<line x1="331.60" y1="348.00" x2="331.60" y2="350.80" stroke="#111" stroke-width="0.7" />
<line x1="334.30" y1="348.00" x2="334.30" y2="349.60" stroke="#111" stroke-width="0.7" />
<line x1="337.00" y1="348.00" x2="337.00" y2="349.60" stroke="#111" stroke-width="0.7" />
<line x1="339.70" y1="348.00" x2="339.70" y2="349.60" stroke="#111" stroke-width="0.7" />
<line x1="342.40" y1="348.00" x2="342.40" y2="349.60" stroke="#111" stroke-width="0.7" />
<line x1="345.10" y1="348.00" x2="345.10" y2="349.60" stroke="#111" stroke-width="0.7" />
<line x1="347.80" y1="348.00" x2="347.80" y2="349.60" stroke="#111" stroke-width="0.7" />
<line x1="350.50" y1="348.00" x2="350.50" y2="349.60" stroke="#111" stroke-width="0.7" />
<line x1="353.20" y1="348.00" x2="353.20" y2="349.60" stroke="#111" stroke-width="0.7" />
<line x1="355.90" y1="348.00" x2="355.90" y2="350.80" stroke="#111" stroke-width="0.7" />
<line x1="358.60" y1="348.00" x2="358.60" y2="349.60" stroke="#111" stroke-width="0.7" />
<line x1="361.30" y1="348.00" x2="361.30" y2="349.60" stroke="#111" stroke-width="0.7" />
<line x1="364.00" y1="348.00" x2="364.00" y2="349.60" stroke="#111" stroke-width="0.7" />
<line x1="366.70" y1="348.00" x2="366.70" y2="349.60" stroke="#111" stroke-width="0.7" />
<line x1="369.40" y1="348.00" x2="369.40" y2="349.60" stroke="#111" stroke-width="0.7" />
<line x1="372.10" y1="348.00" x2="372.10" y2="349.60" stroke="#111" stroke-width="0.7" />
<line x1="374.80" y1="348.00" x2="374.80" y2="349.60" stroke="#111" stroke-width="0.7" />
<line x1="270.00" y1="281.00" x2="270.00" y2="315.00" stroke="#000" stroke-width="1.0" />
<path d="M270 277 L268.2 282 L271.8 282 Z" fill="#000" stroke="none" stroke-width="1" />
<text transform="translate(272.50,348.00) rotate(-90)" font-size="7.8" fill="#1a1a1a" textLength="28.5" lengthAdjust="spacingAndGlyphs">% of Max</text>
<text x="290.50" y="360.60" font-size="8.2" fill="#1a1a1a" textLength="48" lengthAdjust="spacingAndGlyphs">FITC (C11-bodipy)</text>
<line x1="342.00" y1="359.40" x2="371.50" y2="359.40" stroke="#000" stroke-width="1.0" />
<path d="M374.5 359.4 L369.0 357.5 L369.0 361.29999999999995 Z" fill="#000" stroke="none" stroke-width="1" />
<line x1="349.20" y1="266.10" x2="354.70" y2="266.10" stroke="#111" stroke-width="1.2" />
<line x1="349.20" y1="272.30" x2="354.70" y2="272.30" stroke="#e03040" stroke-width="1.0" />
<rect x="349.50" y="277.10" width="5.30" height="5.40" fill="#6a2a4a" stroke="#1a0a14" stroke-width="1.0" />
<text x="358.00" y="268.20" font-size="6.0" fill="#222" textLength="9.5" lengthAdjust="spacingAndGlyphs" style="stroke-width:0.15px">PBS</text>
<text x="358.00" y="274.30" font-size="6.0" fill="#222" textLength="23.5" lengthAdjust="spacingAndGlyphs" style="stroke-width:0.15px">IgG-RBCs</text>
<text x="358.00" y="281.70" font-size="6.0" fill="#222" textLength="42.5" lengthAdjust="spacingAndGlyphs" style="stroke-width:0.15px">IgG-RBCs + Fer-1</text>
<text x="7.30" y="404.00" font-size="11" fill="#000" font-weight="bold">H</text>
<path d="M34.9 488.2 L38.8 482.3 L42.6 471.5 L45.7 462.3 L48.8 456.2 L52.6 448.5 L56.5 439.2 L59.5 433.1 L61.8 425.4 L64.2 418.5 L64.9 416.9 L67.2 421.5 L69.5 426.9 L71.8 434.6 L74.2 445.4 L76.5 457.7 L78.8 465.4 L81.8 471.5 L86.5 477.7 L91.1 481.5 L94.9 485.4 L98.8 488.2 Z" fill="#66c76c" stroke="#1d6b2a" stroke-width="0.9" />
<path d="M39.5 488.2 L42.6 466.9 L44.9 465.4 L47.2 460.8 L49.5 462.3 L51.8 456.2 L54.2 448.5 L56.5 445.4 L58.8 436.2 L61.1 428.5 L63.4 420.8 L64.9 416.9 L68.0 423.8 L71.1 434.6 L74.2 445.4 L76.5 451.5 L78.8 449.2 L81.1 446.9 L83.4 448.5 L86.5 444.6 L88.8 448.5 L91.1 452.3 L92.6 460.8 L94.9 468.5 L97.2 477.7 L100.3 485.4 L101.8 488.2" fill="none" stroke="#e2503a" stroke-width="0.9" />
<path d="M36.5 488.2 L41.8 477.7 L45.7 473.1 L49.5 471.5 L52.6 466.9 L55.7 456.2 L58.8 443.8 L61.1 433.1 L63.4 420.8 L64.9 417.0 L66.5 422.3 L68.3 433.1 L70.3 448.5 L72.6 462.3 L74.9 473.1 L78.0 480.8 L81.1 485.4 L83.4 488.2" fill="none" stroke="#0e1a10" stroke-width="1.1" />
<line x1="22.50" y1="414.20" x2="22.50" y2="488.70" stroke="#111" stroke-width="1.1" />
<line x1="20.90" y1="487.20" x2="22.50" y2="487.20" stroke="#111" stroke-width="0.7" />
<line x1="20.90" y1="483.20" x2="22.50" y2="483.20" stroke="#111" stroke-width="0.7" />
<line x1="20.90" y1="479.20" x2="22.50" y2="479.20" stroke="#111" stroke-width="0.7" />
<line x1="20.90" y1="475.20" x2="22.50" y2="475.20" stroke="#111" stroke-width="0.7" />
<line x1="20.90" y1="471.20" x2="22.50" y2="471.20" stroke="#111" stroke-width="0.7" />
<line x1="20.90" y1="467.20" x2="22.50" y2="467.20" stroke="#111" stroke-width="0.7" />
<line x1="20.90" y1="463.20" x2="22.50" y2="463.20" stroke="#111" stroke-width="0.7" />
<line x1="20.90" y1="459.20" x2="22.50" y2="459.20" stroke="#111" stroke-width="0.7" />
<line x1="20.90" y1="455.20" x2="22.50" y2="455.20" stroke="#111" stroke-width="0.7" />
<line x1="20.90" y1="451.20" x2="22.50" y2="451.20" stroke="#111" stroke-width="0.7" />
<line x1="20.90" y1="447.20" x2="22.50" y2="447.20" stroke="#111" stroke-width="0.7" />
<line x1="20.90" y1="443.20" x2="22.50" y2="443.20" stroke="#111" stroke-width="0.7" />
<line x1="20.90" y1="439.20" x2="22.50" y2="439.20" stroke="#111" stroke-width="0.7" />
<line x1="20.90" y1="435.20" x2="22.50" y2="435.20" stroke="#111" stroke-width="0.7" />
<line x1="20.90" y1="431.20" x2="22.50" y2="431.20" stroke="#111" stroke-width="0.7" />
<line x1="20.90" y1="427.20" x2="22.50" y2="427.20" stroke="#111" stroke-width="0.7" />
<line x1="20.90" y1="423.20" x2="22.50" y2="423.20" stroke="#111" stroke-width="0.7" />
<line x1="20.90" y1="419.20" x2="22.50" y2="419.20" stroke="#111" stroke-width="0.7" />
<line x1="20.90" y1="415.20" x2="22.50" y2="415.20" stroke="#111" stroke-width="0.7" />
<line x1="22.50" y1="488.20" x2="104.50" y2="488.20" stroke="#111" stroke-width="1.1" />
<line x1="24.50" y1="488.20" x2="24.50" y2="491.00" stroke="#111" stroke-width="0.7" />
<line x1="27.20" y1="488.20" x2="27.20" y2="489.80" stroke="#111" stroke-width="0.7" />
<line x1="29.90" y1="488.20" x2="29.90" y2="489.80" stroke="#111" stroke-width="0.7" />
<line x1="32.60" y1="488.20" x2="32.60" y2="489.80" stroke="#111" stroke-width="0.7" />
<line x1="35.30" y1="488.20" x2="35.30" y2="489.80" stroke="#111" stroke-width="0.7" />
<line x1="38.00" y1="488.20" x2="38.00" y2="489.80" stroke="#111" stroke-width="0.7" />
<line x1="40.70" y1="488.20" x2="40.70" y2="489.80" stroke="#111" stroke-width="0.7" />
<line x1="43.40" y1="488.20" x2="43.40" y2="489.80" stroke="#111" stroke-width="0.7" />
<line x1="46.10" y1="488.20" x2="46.10" y2="489.80" stroke="#111" stroke-width="0.7" />
<line x1="48.80" y1="488.20" x2="48.80" y2="491.00" stroke="#111" stroke-width="0.7" />
<line x1="51.50" y1="488.20" x2="51.50" y2="489.80" stroke="#111" stroke-width="0.7" />
<line x1="54.20" y1="488.20" x2="54.20" y2="489.80" stroke="#111" stroke-width="0.7" />
<line x1="56.90" y1="488.20" x2="56.90" y2="489.80" stroke="#111" stroke-width="0.7" />
<line x1="59.60" y1="488.20" x2="59.60" y2="489.80" stroke="#111" stroke-width="0.7" />
<line x1="62.30" y1="488.20" x2="62.30" y2="489.80" stroke="#111" stroke-width="0.7" />
<line x1="65.00" y1="488.20" x2="65.00" y2="489.80" stroke="#111" stroke-width="0.7" />
<line x1="67.70" y1="488.20" x2="67.70" y2="489.80" stroke="#111" stroke-width="0.7" />
<line x1="70.40" y1="488.20" x2="70.40" y2="489.80" stroke="#111" stroke-width="0.7" />
<line x1="73.10" y1="488.20" x2="73.10" y2="491.00" stroke="#111" stroke-width="0.7" />
<line x1="75.80" y1="488.20" x2="75.80" y2="489.80" stroke="#111" stroke-width="0.7" />
<line x1="78.50" y1="488.20" x2="78.50" y2="489.80" stroke="#111" stroke-width="0.7" />
<line x1="81.20" y1="488.20" x2="81.20" y2="489.80" stroke="#111" stroke-width="0.7" />
<line x1="83.90" y1="488.20" x2="83.90" y2="489.80" stroke="#111" stroke-width="0.7" />
<line x1="86.60" y1="488.20" x2="86.60" y2="489.80" stroke="#111" stroke-width="0.7" />
<line x1="89.30" y1="488.20" x2="89.30" y2="489.80" stroke="#111" stroke-width="0.7" />
<line x1="92.00" y1="488.20" x2="92.00" y2="489.80" stroke="#111" stroke-width="0.7" />
<line x1="94.70" y1="488.20" x2="94.70" y2="489.80" stroke="#111" stroke-width="0.7" />
<line x1="97.40" y1="488.20" x2="97.40" y2="491.00" stroke="#111" stroke-width="0.7" />
<line x1="100.10" y1="488.20" x2="100.10" y2="489.80" stroke="#111" stroke-width="0.7" />
<line x1="102.80" y1="488.20" x2="102.80" y2="489.80" stroke="#111" stroke-width="0.7" />
<line x1="11.50" y1="421.00" x2="11.50" y2="455.20" stroke="#000" stroke-width="1.0" />
<path d="M11.5 417 L9.7 422 L13.3 422 Z" fill="#000" stroke="none" stroke-width="1" />
<text transform="translate(14.00,488.20) rotate(-90)" font-size="7.8" fill="#1a1a1a" textLength="28.5" lengthAdjust="spacingAndGlyphs">% of Max</text>
<text x="31.70" y="502.40" font-size="8.2" fill="#1a1a1a" textLength="39" lengthAdjust="spacingAndGlyphs">FITC (DCFDA)</text>
<line x1="74.00" y1="499.90" x2="96.50" y2="499.90" stroke="#000" stroke-width="1.0" />
<path d="M99.5 499.9 L94.0 498.0 L94.0 501.79999999999995 Z" fill="#000" stroke="none" stroke-width="1" />
<line x1="77.20" y1="418.80" x2="82.70" y2="418.80" stroke="#1a3a2a" stroke-width="1.2" />
<line x1="77.20" y1="425.00" x2="82.70" y2="425.00" stroke="#c06050" stroke-width="1.0" />
<rect x="77.50" y="429.80" width="5.30" height="5.40" fill="#3a8a3a" stroke="#0a2a10" stroke-width="1.0" />
<text x="86.00" y="420.90" font-size="6.0" fill="#222" textLength="9.5" lengthAdjust="spacingAndGlyphs" style="stroke-width:0.15px">PBS</text>
<text x="86.00" y="427.00" font-size="6.0" fill="#222" textLength="23.5" lengthAdjust="spacingAndGlyphs" style="stroke-width:0.15px">IgG-RBCs</text>
<text x="86.00" y="434.40" font-size="6.0" fill="#222" textLength="42.5" lengthAdjust="spacingAndGlyphs" style="stroke-width:0.15px">IgG-RBCs + Fer-1</text>
<text x="265.60" y="403.50" font-size="11" fill="#000" font-weight="bold">I</text>
<path d="M305.4 488.3 L312.1 483.4 L316.2 475.3 L319.5 464.5 L321.5 455.1 L323.6 447.0 L325.6 439.0 L327.6 433.6 L328.9 434.2 L330.3 429.5 L332.3 424.2 L334.3 420.1 L336.3 417.2 L338.4 421.5 L339.7 428.2 L341.0 439.0 L343.1 452.4 L345.1 464.5 L347.8 475.3 L351.1 483.4 L355.2 488.3 Z" fill="#d46a9c" stroke="#6a2050" stroke-width="0.8" />
<path d="M316.2 488.3 L322.9 471.3 L326.2 457.8 L328.3 445.7 L330.3 430.9 L332.3 428.2 L335.0 422.8 L337.7 418.8 L339.7 428.2 L341.0 437.6 L343.1 448.4 L344.4 461.8 L346.4 475.3 L348.5 482.0 L350.5 488.3" fill="none" stroke="#1a0a10" stroke-width="1.1" />
<path d="M312.1 488.3 L318.8 479.3 L322.9 467.2 L326.2 452.4 L328.9 437.6 L332.3 428.2 L336.3 422.8 L339.0 418.8 L341.0 416.7 L343.1 425.5 L345.1 433.6 L347.1 440.3 L349.1 452.4 L351.1 464.5 L353.8 471.3 L356.5 478.0 L359.9 485.4 L361.9 488.3" fill="none" stroke="#e8262a" stroke-width="1.0" />
<line x1="280.60" y1="414.60" x2="280.60" y2="488.80" stroke="#111" stroke-width="1.1" />
<line x1="279.00" y1="487.30" x2="280.60" y2="487.30" stroke="#111" stroke-width="0.7" />
<line x1="279.00" y1="483.30" x2="280.60" y2="483.30" stroke="#111" stroke-width="0.7" />
<line x1="279.00" y1="479.30" x2="280.60" y2="479.30" stroke="#111" stroke-width="0.7" />
<line x1="279.00" y1="475.30" x2="280.60" y2="475.30" stroke="#111" stroke-width="0.7" />
<line x1="279.00" y1="471.30" x2="280.60" y2="471.30" stroke="#111" stroke-width="0.7" />
<line x1="279.00" y1="467.30" x2="280.60" y2="467.30" stroke="#111" stroke-width="0.7" />
<line x1="279.00" y1="463.30" x2="280.60" y2="463.30" stroke="#111" stroke-width="0.7" />
<line x1="279.00" y1="459.30" x2="280.60" y2="459.30" stroke="#111" stroke-width="0.7" />
<line x1="279.00" y1="455.30" x2="280.60" y2="455.30" stroke="#111" stroke-width="0.7" />
<line x1="279.00" y1="451.30" x2="280.60" y2="451.30" stroke="#111" stroke-width="0.7" />
<line x1="279.00" y1="447.30" x2="280.60" y2="447.30" stroke="#111" stroke-width="0.7" />
<line x1="279.00" y1="443.30" x2="280.60" y2="443.30" stroke="#111" stroke-width="0.7" />
<line x1="279.00" y1="439.30" x2="280.60" y2="439.30" stroke="#111" stroke-width="0.7" />
<line x1="279.00" y1="435.30" x2="280.60" y2="435.30" stroke="#111" stroke-width="0.7" />
<line x1="279.00" y1="431.30" x2="280.60" y2="431.30" stroke="#111" stroke-width="0.7" />
<line x1="279.00" y1="427.30" x2="280.60" y2="427.30" stroke="#111" stroke-width="0.7" />
<line x1="279.00" y1="423.30" x2="280.60" y2="423.30" stroke="#111" stroke-width="0.7" />
<line x1="279.00" y1="419.30" x2="280.60" y2="419.30" stroke="#111" stroke-width="0.7" />
<line x1="279.00" y1="415.30" x2="280.60" y2="415.30" stroke="#111" stroke-width="0.7" />
<line x1="280.60" y1="488.30" x2="375.00" y2="488.30" stroke="#111" stroke-width="1.1" />
<line x1="282.60" y1="488.30" x2="282.60" y2="491.10" stroke="#111" stroke-width="0.7" />
<line x1="285.30" y1="488.30" x2="285.30" y2="489.90" stroke="#111" stroke-width="0.7" />
<line x1="288.00" y1="488.30" x2="288.00" y2="489.90" stroke="#111" stroke-width="0.7" />
<line x1="290.70" y1="488.30" x2="290.70" y2="489.90" stroke="#111" stroke-width="0.7" />
<line x1="293.40" y1="488.30" x2="293.40" y2="489.90" stroke="#111" stroke-width="0.7" />
<line x1="296.10" y1="488.30" x2="296.10" y2="489.90" stroke="#111" stroke-width="0.7" />
<line x1="298.80" y1="488.30" x2="298.80" y2="489.90" stroke="#111" stroke-width="0.7" />
<line x1="301.50" y1="488.30" x2="301.50" y2="489.90" stroke="#111" stroke-width="0.7" />
<line x1="304.20" y1="488.30" x2="304.20" y2="489.90" stroke="#111" stroke-width="0.7" />
<line x1="306.90" y1="488.30" x2="306.90" y2="491.10" stroke="#111" stroke-width="0.7" />
<line x1="309.60" y1="488.30" x2="309.60" y2="489.90" stroke="#111" stroke-width="0.7" />
<line x1="312.30" y1="488.30" x2="312.30" y2="489.90" stroke="#111" stroke-width="0.7" />
<line x1="315.00" y1="488.30" x2="315.00" y2="489.90" stroke="#111" stroke-width="0.7" />
<line x1="317.70" y1="488.30" x2="317.70" y2="489.90" stroke="#111" stroke-width="0.7" />
<line x1="320.40" y1="488.30" x2="320.40" y2="489.90" stroke="#111" stroke-width="0.7" />
<line x1="323.10" y1="488.30" x2="323.10" y2="489.90" stroke="#111" stroke-width="0.7" />
<line x1="325.80" y1="488.30" x2="325.80" y2="489.90" stroke="#111" stroke-width="0.7" />
<line x1="328.50" y1="488.30" x2="328.50" y2="489.90" stroke="#111" stroke-width="0.7" />
<line x1="331.20" y1="488.30" x2="331.20" y2="491.10" stroke="#111" stroke-width="0.7" />
<line x1="333.90" y1="488.30" x2="333.90" y2="489.90" stroke="#111" stroke-width="0.7" />
<line x1="336.60" y1="488.30" x2="336.60" y2="489.90" stroke="#111" stroke-width="0.7" />
<line x1="339.30" y1="488.30" x2="339.30" y2="489.90" stroke="#111" stroke-width="0.7" />
<line x1="342.00" y1="488.30" x2="342.00" y2="489.90" stroke="#111" stroke-width="0.7" />
<line x1="344.70" y1="488.30" x2="344.70" y2="489.90" stroke="#111" stroke-width="0.7" />
<line x1="347.40" y1="488.30" x2="347.40" y2="489.90" stroke="#111" stroke-width="0.7" />
<line x1="350.10" y1="488.30" x2="350.10" y2="489.90" stroke="#111" stroke-width="0.7" />
<line x1="352.80" y1="488.30" x2="352.80" y2="489.90" stroke="#111" stroke-width="0.7" />
<line x1="355.50" y1="488.30" x2="355.50" y2="491.10" stroke="#111" stroke-width="0.7" />
<line x1="358.20" y1="488.30" x2="358.20" y2="489.90" stroke="#111" stroke-width="0.7" />
<line x1="360.90" y1="488.30" x2="360.90" y2="489.90" stroke="#111" stroke-width="0.7" />
<line x1="363.60" y1="488.30" x2="363.60" y2="489.90" stroke="#111" stroke-width="0.7" />
<line x1="366.30" y1="488.30" x2="366.30" y2="489.90" stroke="#111" stroke-width="0.7" />
<line x1="369.00" y1="488.30" x2="369.00" y2="489.90" stroke="#111" stroke-width="0.7" />
<line x1="371.70" y1="488.30" x2="371.70" y2="489.90" stroke="#111" stroke-width="0.7" />
<line x1="374.40" y1="488.30" x2="374.40" y2="489.90" stroke="#111" stroke-width="0.7" />
<line x1="270.00" y1="423.40" x2="270.00" y2="455.30" stroke="#000" stroke-width="1.0" />
<path d="M270 419.4 L268.2 424.4 L271.8 424.4 Z" fill="#000" stroke="none" stroke-width="1" />
<text transform="translate(272.50,488.30) rotate(-90)" font-size="7.8" fill="#1a1a1a" textLength="28.5" lengthAdjust="spacingAndGlyphs">% of Max</text>
<text x="290.50" y="501.50" font-size="8.2" fill="#1a1a1a" textLength="48" lengthAdjust="spacingAndGlyphs">FITC (C11-bodipy)</text>
<line x1="341.30" y1="499.60" x2="371.50" y2="499.60" stroke="#000" stroke-width="1.0" />
<path d="M374.5 499.6 L369.0 497.70000000000005 L369.0 501.5 Z" fill="#000" stroke="none" stroke-width="1" />
<line x1="347.70" y1="408.00" x2="353.20" y2="408.00" stroke="#111" stroke-width="1.2" />
<line x1="347.70" y1="414.20" x2="353.20" y2="414.20" stroke="#e03040" stroke-width="1.0" />
<rect x="348.00" y="419.00" width="5.30" height="5.40" fill="#6a2a4a" stroke="#1a0a14" stroke-width="1.0" />
<text x="356.50" y="410.10" font-size="6.0" fill="#222" textLength="9.5" lengthAdjust="spacingAndGlyphs" style="stroke-width:0.15px">PBS</text>
<text x="356.50" y="416.20" font-size="6.0" fill="#222" textLength="23.5" lengthAdjust="spacingAndGlyphs" style="stroke-width:0.15px">IgG-RBCs</text>
<text x="356.50" y="423.60" font-size="6.0" fill="#222" textLength="42.5" lengthAdjust="spacingAndGlyphs" style="stroke-width:0.15px">IgG-RBCs + Fer-1</text>
<text x="203.50" y="282.70" font-size="9" fill="#1a1a1a" text-anchor="middle" textLength="18.5" lengthAdjust="spacingAndGlyphs">J774</text>
<line x1="163.90" y1="290.50" x2="163.90" y2="348.40" stroke="#1a1a1a" stroke-width="1.1" />
<line x1="161.20" y1="347.90" x2="163.90" y2="347.90" stroke="#1a1a1a" stroke-width="0.9" />
<text x="158.60" y="350.10" font-size="6.2" fill="#222" text-anchor="end" style="stroke-width:0.12px">0</text>
<line x1="161.20" y1="334.05" x2="163.90" y2="334.05" stroke="#1a1a1a" stroke-width="0.9" />
<text x="158.60" y="336.25" font-size="6.2" fill="#222" text-anchor="end" style="stroke-width:0.12px">10</text>
<line x1="161.20" y1="320.20" x2="163.90" y2="320.20" stroke="#1a1a1a" stroke-width="0.9" />
<text x="158.60" y="322.40" font-size="6.2" fill="#222" text-anchor="end" style="stroke-width:0.12px">20</text>
<line x1="161.20" y1="306.35" x2="163.90" y2="306.35" stroke="#1a1a1a" stroke-width="0.9" />
<text x="158.60" y="308.55" font-size="6.2" fill="#222" text-anchor="end" style="stroke-width:0.12px">30</text>
<line x1="161.20" y1="292.50" x2="163.90" y2="292.50" stroke="#1a1a1a" stroke-width="0.9" />
<text x="158.60" y="294.70" font-size="6.2" fill="#222" text-anchor="end" style="stroke-width:0.12px">40</text>
<line x1="161.00" y1="347.90" x2="245.80" y2="347.90" stroke="#1a1a1a" stroke-width="1.1" />
<line x1="173.40" y1="347.90" x2="173.40" y2="350.90" stroke="#1a1a1a" stroke-width="0.9" />
<line x1="195.40" y1="347.90" x2="195.40" y2="350.90" stroke="#1a1a1a" stroke-width="0.9" />
<line x1="215.70" y1="347.90" x2="215.70" y2="350.90" stroke="#1a1a1a" stroke-width="0.9" />
<line x1="236.30" y1="347.90" x2="236.30" y2="350.90" stroke="#1a1a1a" stroke-width="0.9" />
<text transform="translate(177.20,356.20) rotate(-45)" font-size="6.5" fill="#222" text-anchor="end" style="stroke-width:0.2px">Vehicle</text>
<text transform="translate(199.20,356.20) rotate(-45)" font-size="6.5" fill="#222" text-anchor="end" style="stroke-width:0.2px">Fresh RBCs</text>
<text transform="translate(219.50,356.20) rotate(-45)" font-size="6.5" fill="#222" text-anchor="end" style="stroke-width:0.2px">IgG-RBCs</text>
<text transform="translate(240.10,356.20) rotate(-45)" font-size="6.5" fill="#222" text-anchor="end" style="stroke-width:0.2px">IgG-RBCs + Fer-1</text>
<line x1="172.80" y1="293.30" x2="213.00" y2="293.30" stroke="#3a3a3a" stroke-width="1.4" />
<text x="192.90" y="293.50" font-size="5.6" fill="#666" text-anchor="middle" style="stroke:none">****</text>
<line x1="215.70" y1="293.30" x2="237.30" y2="293.30" stroke="#3a3a3a" stroke-width="1.4" />
<text x="226.50" y="293.50" font-size="5.6" fill="#666" text-anchor="middle" style="stroke:none">****</text>
<line x1="210.70" y1="306.40" x2="223.70" y2="306.40" stroke="#b01a40" stroke-width="1.4000000000000001" />
<line x1="217.20" y1="297.00" x2="217.20" y2="315.50" stroke="#b01a40" stroke-width="1.1" />
<line x1="214.00" y1="297.00" x2="220.40" y2="297.00" stroke="#b01a40" stroke-width="1.1" />
<line x1="214.00" y1="315.50" x2="220.40" y2="315.50" stroke="#b01a40" stroke-width="1.1" />
<circle cx="217.20" cy="297.50" r="1.3" fill="#b01a40"/>
<circle cx="217.20" cy="315.00" r="1.3" fill="#b01a40"/>
<circle cx="217.20" cy="306.00" r="1.3" fill="#b01a40"/>
<line x1="229.80" y1="332.80" x2="242.80" y2="332.80" stroke="#7ab850" stroke-width="1.4000000000000001" />
<line x1="236.30" y1="328.20" x2="236.30" y2="337.30" stroke="#7ab850" stroke-width="1.1" />
<line x1="233.10" y1="328.20" x2="239.50" y2="328.20" stroke="#7ab850" stroke-width="1.1" />
<line x1="233.10" y1="337.30" x2="239.50" y2="337.30" stroke="#7ab850" stroke-width="1.1" />
<circle cx="236.30" cy="328.50" r="1.3" fill="#7ab850"/>
<circle cx="236.30" cy="337.00" r="1.3" fill="#7ab850"/>
<circle cx="236.30" cy="333.00" r="1.3" fill="#7ab850"/>
<line x1="167.00" y1="347.35" x2="180.00" y2="347.35" stroke="#505a70" stroke-width="1.2" />
<line x1="188.00" y1="347.07" x2="202.00" y2="347.07" stroke="#2a4a8a" stroke-width="1.7" />
<text transform="translate(145.50,319.10) rotate(-90)" font-size="7.8" fill="#222" text-anchor="middle" textLength="36.7" lengthAdjust="spacingAndGlyphs">DCFDA<tspan font-size="4.5" dy="-2">+</tspan><tspan dy="2"> (%)</tspan></text>
<text x="472.00" y="288.00" font-size="9" fill="#1a1a1a" text-anchor="middle" textLength="18.5" lengthAdjust="spacingAndGlyphs">J774</text>
<line x1="432.20" y1="291.50" x2="432.20" y2="348.40" stroke="#1a1a1a" stroke-width="1.1" />
<line x1="429.50" y1="347.90" x2="432.20" y2="347.90" stroke="#1a1a1a" stroke-width="0.9" />
<text x="426.90" y="350.10" font-size="6.2" fill="#222" text-anchor="end" style="stroke-width:0.12px">0</text>
<line x1="429.50" y1="334.40" x2="432.20" y2="334.40" stroke="#1a1a1a" stroke-width="0.9" />
<text x="426.90" y="336.60" font-size="6.2" fill="#222" text-anchor="end" style="stroke-width:0.12px">10</text>
<line x1="429.50" y1="320.90" x2="432.20" y2="320.90" stroke="#1a1a1a" stroke-width="0.9" />
<text x="426.90" y="323.10" font-size="6.2" fill="#222" text-anchor="end" style="stroke-width:0.12px">20</text>
<line x1="429.50" y1="307.40" x2="432.20" y2="307.40" stroke="#1a1a1a" stroke-width="0.9" />
<text x="426.90" y="309.60" font-size="6.2" fill="#222" text-anchor="end" style="stroke-width:0.12px">30</text>
<line x1="429.50" y1="293.90" x2="432.20" y2="293.90" stroke="#1a1a1a" stroke-width="0.9" />
<text x="426.90" y="296.10" font-size="6.2" fill="#222" text-anchor="end" style="stroke-width:0.12px">40</text>
<line x1="431.00" y1="347.90" x2="513.00" y2="347.90" stroke="#1a1a1a" stroke-width="1.1" />
<line x1="442.20" y1="347.90" x2="442.20" y2="350.90" stroke="#1a1a1a" stroke-width="0.9" />
<line x1="462.30" y1="347.90" x2="462.30" y2="350.90" stroke="#1a1a1a" stroke-width="0.9" />
<line x1="482.60" y1="347.90" x2="482.60" y2="350.90" stroke="#1a1a1a" stroke-width="0.9" />
<line x1="503.20" y1="347.90" x2="503.20" y2="350.90" stroke="#1a1a1a" stroke-width="0.9" />
<text transform="translate(446.00,356.20) rotate(-45)" font-size="6.5" fill="#222" text-anchor="end" style="stroke-width:0.2px">Vehicle</text>
<text transform="translate(466.10,356.20) rotate(-45)" font-size="6.5" fill="#222" text-anchor="end" style="stroke-width:0.2px">Fresh RBCs</text>
<text transform="translate(486.40,356.20) rotate(-45)" font-size="6.5" fill="#222" text-anchor="end" style="stroke-width:0.2px">IgG-RBCs</text>
<text transform="translate(507.00,356.20) rotate(-45)" font-size="6.5" fill="#222" text-anchor="end" style="stroke-width:0.2px">IgG-RBCs + Fer-1</text>
<line x1="441.30" y1="298.60" x2="480.40" y2="298.60" stroke="#3a3a3a" stroke-width="1.4" />
<text x="460.85" y="298.80" font-size="5.6" fill="#666" text-anchor="middle" style="stroke:none">***</text>
<line x1="484.20" y1="298.60" x2="505.10" y2="298.60" stroke="#3a3a3a" stroke-width="1.4" />
<text x="494.65" y="298.80" font-size="5.6" fill="#666" text-anchor="middle" style="stroke:none">****</text>
<line x1="435.80" y1="337.70" x2="448.80" y2="337.70" stroke="#3a4a70" stroke-width="1.4000000000000001" />
<line x1="442.30" y1="337.00" x2="442.30" y2="338.30" stroke="#3a4a70" stroke-width="1.1" />
<line x1="439.10" y1="337.00" x2="445.50" y2="337.00" stroke="#3a4a70" stroke-width="1.1" />
<line x1="439.10" y1="338.30" x2="445.50" y2="338.30" stroke="#3a4a70" stroke-width="1.1" />
<circle cx="440.00" cy="337.70" r="1.3" fill="#3a4a70"/>
<circle cx="444.00" cy="337.70" r="1.3" fill="#3a4a70"/>
<line x1="456.50" y1="336.20" x2="469.50" y2="336.20" stroke="#2a5aa0" stroke-width="1.4000000000000001" />
<line x1="463.00" y1="332.00" x2="463.00" y2="339.80" stroke="#2a5aa0" stroke-width="1.1" />
<line x1="459.80" y1="332.00" x2="466.20" y2="332.00" stroke="#2a5aa0" stroke-width="1.1" />
<line x1="459.80" y1="339.80" x2="466.20" y2="339.80" stroke="#2a5aa0" stroke-width="1.1" />
<circle cx="462.00" cy="334.00" r="1.3" fill="#2a5aa0"/>
<circle cx="464.00" cy="338.00" r="1.3" fill="#2a5aa0"/>
<circle cx="463.00" cy="336.00" r="1.3" fill="#2a5aa0"/>
<line x1="479.20" y1="307.70" x2="492.20" y2="307.70" stroke="#c0203a" stroke-width="1.4000000000000001" />
<line x1="485.70" y1="302.80" x2="485.70" y2="312.30" stroke="#c0203a" stroke-width="1.1" />
<line x1="482.50" y1="302.80" x2="488.90" y2="302.80" stroke="#c0203a" stroke-width="1.1" />
<line x1="482.50" y1="312.30" x2="488.90" y2="312.30" stroke="#c0203a" stroke-width="1.1" />
<circle cx="485.70" cy="303.00" r="1.3" fill="#c0203a"/>
<circle cx="485.70" cy="312.00" r="1.3" fill="#c0203a"/>
<circle cx="485.70" cy="307.70" r="1.3" fill="#c0203a"/>
<line x1="496.70" y1="341.50" x2="509.70" y2="341.50" stroke="#7a3a8a" stroke-width="1.4000000000000001" />
<line x1="503.20" y1="333.80" x2="503.20" y2="347.50" stroke="#7a3a8a" stroke-width="1.1" />
<line x1="500.00" y1="333.80" x2="506.40" y2="333.80" stroke="#7a3a8a" stroke-width="1.1" />
<line x1="500.00" y1="347.50" x2="506.40" y2="347.50" stroke="#7a3a8a" stroke-width="1.1" />
<circle cx="503.20" cy="334.00" r="1.3" fill="#7a3a8a"/>
<circle cx="503.20" cy="347.00" r="1.3" fill="#7a3a8a"/>
<text transform="translate(412.50,319.70) rotate(-90)" font-size="8" fill="#222" text-anchor="middle" textLength="52" lengthAdjust="spacingAndGlyphs">C11-bodipy<tspan font-size="4.5" dy="-2">+</tspan><tspan dy="2"> (%)</tspan></text>
<text x="204.50" y="425.90" font-size="9" fill="#1a1a1a" text-anchor="middle" textLength="27" lengthAdjust="spacingAndGlyphs">BMDM</text>
<line x1="164.30" y1="431.50" x2="164.30" y2="489.00" stroke="#1a1a1a" stroke-width="1.1" />
<line x1="161.60" y1="488.50" x2="164.30" y2="488.50" stroke="#1a1a1a" stroke-width="0.9" />
<text x="159.00" y="490.70" font-size="6.2" fill="#222" text-anchor="end" style="stroke-width:0.12px">0</text>
<line x1="161.60" y1="477.60" x2="164.30" y2="477.60" stroke="#1a1a1a" stroke-width="0.9" />
<text x="159.00" y="479.80" font-size="6.2" fill="#222" text-anchor="end" style="stroke-width:0.12px">20</text>
<line x1="161.60" y1="466.70" x2="164.30" y2="466.70" stroke="#1a1a1a" stroke-width="0.9" />
<text x="159.00" y="468.90" font-size="6.2" fill="#222" text-anchor="end" style="stroke-width:0.12px">40</text>
<line x1="161.60" y1="455.80" x2="164.30" y2="455.80" stroke="#1a1a1a" stroke-width="0.9" />
<text x="159.00" y="458.00" font-size="6.2" fill="#222" text-anchor="end" style="stroke-width:0.12px">60</text>
<line x1="161.60" y1="444.90" x2="164.30" y2="444.90" stroke="#1a1a1a" stroke-width="0.9" />
<text x="159.00" y="447.10" font-size="6.2" fill="#222" text-anchor="end" style="stroke-width:0.12px">80</text>
<line x1="161.60" y1="434.00" x2="164.30" y2="434.00" stroke="#1a1a1a" stroke-width="0.9" />
<text x="159.00" y="436.20" font-size="6.2" fill="#222" text-anchor="end" style="stroke-width:0.12px">100</text>
<line x1="161.00" y1="488.50" x2="245.80" y2="488.50" stroke="#1a1a1a" stroke-width="1.1" />
<line x1="173.80" y1="488.50" x2="173.80" y2="491.50" stroke="#1a1a1a" stroke-width="0.9" />
<line x1="194.60" y1="488.50" x2="194.60" y2="491.50" stroke="#1a1a1a" stroke-width="0.9" />
<line x1="215.10" y1="488.50" x2="215.10" y2="491.50" stroke="#1a1a1a" stroke-width="0.9" />
<line x1="235.20" y1="488.50" x2="235.20" y2="491.50" stroke="#1a1a1a" stroke-width="0.9" />
<text transform="translate(177.60,496.80) rotate(-45)" font-size="6.5" fill="#222" text-anchor="end" style="stroke-width:0.2px">Vehicle</text>
<text transform="translate(198.40,496.80) rotate(-45)" font-size="6.5" fill="#222" text-anchor="end" style="stroke-width:0.2px">Fresh RBCs</text>
<text transform="translate(218.90,496.80) rotate(-45)" font-size="6.5" fill="#222" text-anchor="end" style="stroke-width:0.2px">IgG-RBCs</text>
<text transform="translate(239.00,496.80) rotate(-45)" font-size="6.5" fill="#222" text-anchor="end" style="stroke-width:0.2px">IgG-RBCs + Fer-1</text>
<line x1="173.40" y1="441.70" x2="212.40" y2="441.70" stroke="#3a3a3a" stroke-width="1.4" />
<text x="192.90" y="441.90" font-size="5.6" fill="#666" text-anchor="middle" style="stroke:none">***</text>
<line x1="215.70" y1="441.70" x2="236.30" y2="441.70" stroke="#3a3a3a" stroke-width="1.4" />
<text x="226.00" y="441.90" font-size="5.6" fill="#666" text-anchor="middle" style="stroke:none">*</text>
<line x1="168.30" y1="485.20" x2="179.30" y2="485.20" stroke="#606a78" stroke-width="1.4000000000000001" />
<line x1="173.80" y1="484.00" x2="173.80" y2="486.50" stroke="#606a78" stroke-width="1.1" />
<line x1="170.60" y1="484.00" x2="177.00" y2="484.00" stroke="#606a78" stroke-width="1.1" />
<line x1="170.60" y1="486.50" x2="177.00" y2="486.50" stroke="#606a78" stroke-width="1.1" />
<circle cx="171.00" cy="485.00" r="1.3" fill="#606a78"/>
<circle cx="176.00" cy="485.50" r="1.3" fill="#606a78"/>
<circle cx="173.80" cy="483.50" r="1.3" fill="#606a78"/>
<rect x="187.50" y="482.60" width="14.00" height="3.20" fill="#2a4a80" stroke="none" stroke-width="0" rx="1.5"/>
<line x1="188.10" y1="484.20" x2="201.10" y2="484.20" stroke="#2a4a80" stroke-width="1.4000000000000001" />
<line x1="194.60" y1="483.00" x2="194.60" y2="485.50" stroke="#2a4a80" stroke-width="1.1" />
<line x1="191.40" y1="483.00" x2="197.80" y2="483.00" stroke="#2a4a80" stroke-width="1.1" />
<line x1="191.40" y1="485.50" x2="197.80" y2="485.50" stroke="#2a4a80" stroke-width="1.1" />
<line x1="208.10" y1="461.40" x2="221.10" y2="461.40" stroke="#b02040" stroke-width="1.4000000000000001" />
<line x1="214.60" y1="450.60" x2="214.60" y2="472.40" stroke="#b02040" stroke-width="1.1" />
<line x1="211.40" y1="450.60" x2="217.80" y2="450.60" stroke="#b02040" stroke-width="1.1" />
<line x1="211.40" y1="472.40" x2="217.80" y2="472.40" stroke="#b02040" stroke-width="1.1" />
<circle cx="214.70" cy="446.00" r="1.3" fill="#b02040"/>
<circle cx="212.00" cy="466.00" r="1.3" fill="#b02040"/>
<circle cx="218.30" cy="466.00" r="1.3" fill="#b02040"/>
<line x1="228.90" y1="477.30" x2="241.90" y2="477.30" stroke="#8cc456" stroke-width="1.4000000000000001" />
<line x1="235.40" y1="470.70" x2="235.40" y2="483.60" stroke="#8cc456" stroke-width="1.1" />
<line x1="232.20" y1="470.70" x2="238.60" y2="470.70" stroke="#8cc456" stroke-width="1.1" />
<line x1="232.20" y1="483.60" x2="238.60" y2="483.60" stroke="#8cc456" stroke-width="1.1" />
<circle cx="235.40" cy="467.10" r="1.3" fill="#8cc456"/>
<circle cx="233.00" cy="480.00" r="1.3" fill="#8cc456"/>
<circle cx="238.00" cy="480.00" r="1.3" fill="#8cc456"/>
<circle cx="235.40" cy="477.00" r="1.3" fill="#8cc456"/>
<text transform="translate(141.50,459.60) rotate(-90)" font-size="7.8" fill="#222" text-anchor="middle" textLength="36.7" lengthAdjust="spacingAndGlyphs">DCFDA<tspan font-size="4.5" dy="-2">+</tspan><tspan dy="2"> (%)</tspan></text>
<text x="472.00" y="426.50" font-size="9" fill="#1a1a1a" text-anchor="middle" textLength="27" lengthAdjust="spacingAndGlyphs">BMDM</text>
<line x1="432.20" y1="431.50" x2="432.20" y2="489.20" stroke="#1a1a1a" stroke-width="1.1" />
<line x1="429.50" y1="488.70" x2="432.20" y2="488.70" stroke="#1a1a1a" stroke-width="0.9" />
<text x="426.90" y="490.90" font-size="6.2" fill="#222" text-anchor="end" style="stroke-width:0.12px">0</text>
<line x1="429.50" y1="477.74" x2="432.20" y2="477.74" stroke="#1a1a1a" stroke-width="0.9" />
<text x="426.90" y="479.94" font-size="6.2" fill="#222" text-anchor="end" style="stroke-width:0.12px">5</text>
<line x1="429.50" y1="466.78" x2="432.20" y2="466.78" stroke="#1a1a1a" stroke-width="0.9" />
<text x="426.90" y="468.98" font-size="6.2" fill="#222" text-anchor="end" style="stroke-width:0.12px">10</text>
<line x1="429.50" y1="455.82" x2="432.20" y2="455.82" stroke="#1a1a1a" stroke-width="0.9" />
<text x="426.90" y="458.02" font-size="6.2" fill="#222" text-anchor="end" style="stroke-width:0.12px">15</text>
<line x1="429.50" y1="444.86" x2="432.20" y2="444.86" stroke="#1a1a1a" stroke-width="0.9" />
<text x="426.90" y="447.06" font-size="6.2" fill="#222" text-anchor="end" style="stroke-width:0.12px">20</text>
<line x1="429.50" y1="433.90" x2="432.20" y2="433.90" stroke="#1a1a1a" stroke-width="0.9" />
<text x="426.90" y="436.10" font-size="6.2" fill="#222" text-anchor="end" style="stroke-width:0.12px">25</text>
<line x1="431.00" y1="488.70" x2="513.00" y2="488.70" stroke="#1a1a1a" stroke-width="1.1" />
<line x1="443.00" y1="488.70" x2="443.00" y2="491.70" stroke="#1a1a1a" stroke-width="0.9" />
<line x1="463.00" y1="488.70" x2="463.00" y2="491.70" stroke="#1a1a1a" stroke-width="0.9" />
<line x1="483.10" y1="488.70" x2="483.10" y2="491.70" stroke="#1a1a1a" stroke-width="0.9" />
<line x1="503.20" y1="488.70" x2="503.20" y2="491.70" stroke="#1a1a1a" stroke-width="0.9" />
<text transform="translate(446.80,497.00) rotate(-45)" font-size="6.5" fill="#222" text-anchor="end" style="stroke-width:0.2px">Vehicle</text>
<text transform="translate(466.80,497.00) rotate(-45)" font-size="6.5" fill="#222" text-anchor="end" style="stroke-width:0.2px">Fresh RBCs</text>
<text transform="translate(486.90,497.00) rotate(-45)" font-size="6.5" fill="#222" text-anchor="end" style="stroke-width:0.2px">IgG-RBCs</text>
<text transform="translate(507.00,497.00) rotate(-45)" font-size="6.5" fill="#222" text-anchor="end" style="stroke-width:0.2px">IgG-RBCs + Fer-1</text>
<line x1="441.30" y1="439.00" x2="480.80" y2="439.00" stroke="#3a3a3a" stroke-width="1.4" />
<text x="461.05" y="439.20" font-size="5.6" fill="#666" text-anchor="middle" style="stroke:none">****</text>
<line x1="484.20" y1="439.00" x2="505.10" y2="439.00" stroke="#3a3a3a" stroke-width="1.4" />
<text x="494.65" y="439.20" font-size="5.6" fill="#666" text-anchor="middle" style="stroke:none">****</text>
<line x1="436.50" y1="481.50" x2="449.50" y2="481.50" stroke="#2a3a6a" stroke-width="1.4000000000000001" />
<line x1="443.00" y1="478.10" x2="443.00" y2="484.50" stroke="#2a3a6a" stroke-width="1.1" />
<line x1="439.80" y1="478.10" x2="446.20" y2="478.10" stroke="#2a3a6a" stroke-width="1.1" />
<line x1="439.80" y1="484.50" x2="446.20" y2="484.50" stroke="#2a3a6a" stroke-width="1.1" />
<circle cx="441.00" cy="482.00" r="1.3" fill="#2a3a6a"/>
<circle cx="445.00" cy="480.00" r="1.3" fill="#2a3a6a"/>
<circle cx="443.00" cy="484.00" r="1.3" fill="#2a3a6a"/>
<line x1="456.50" y1="478.10" x2="469.50" y2="478.10" stroke="#2a5a9a" stroke-width="1.4000000000000001" />
<line x1="463.00" y1="472.00" x2="463.00" y2="482.60" stroke="#2a5a9a" stroke-width="1.1" />
<line x1="459.80" y1="472.00" x2="466.20" y2="472.00" stroke="#2a5a9a" stroke-width="1.1" />
<line x1="459.80" y1="482.60" x2="466.20" y2="482.60" stroke="#2a5a9a" stroke-width="1.1" />
<circle cx="463.00" cy="473.00" r="1.3" fill="#2a5a9a"/>
<circle cx="463.00" cy="482.00" r="1.3" fill="#2a5a9a"/>
<circle cx="463.00" cy="477.00" r="1.3" fill="#2a5a9a"/>
<line x1="476.60" y1="447.00" x2="489.60" y2="447.00" stroke="#c0203a" stroke-width="1.4000000000000001" />
<line x1="483.10" y1="444.90" x2="483.10" y2="449.10" stroke="#c0203a" stroke-width="1.1" />
<line x1="479.90" y1="444.90" x2="486.30" y2="444.90" stroke="#c0203a" stroke-width="1.1" />
<line x1="479.90" y1="449.10" x2="486.30" y2="449.10" stroke="#c0203a" stroke-width="1.1" />
<circle cx="481.00" cy="447.00" r="1.3" fill="#c0203a"/>
<circle cx="485.00" cy="447.00" r="1.3" fill="#c0203a"/>
<circle cx="483.00" cy="445.00" r="1.3" fill="#c0203a"/>
<circle cx="483.00" cy="449.00" r="1.3" fill="#c0203a"/>
<line x1="496.70" y1="477.70" x2="509.70" y2="477.70" stroke="#6a3a9a" stroke-width="1.4000000000000001" />
<line x1="503.20" y1="476.70" x2="503.20" y2="478.70" stroke="#6a3a9a" stroke-width="1.1" />
<line x1="500.00" y1="476.70" x2="506.40" y2="476.70" stroke="#6a3a9a" stroke-width="1.1" />
<line x1="500.00" y1="478.70" x2="506.40" y2="478.70" stroke="#6a3a9a" stroke-width="1.1" />
<circle cx="501.00" cy="477.70" r="1.3" fill="#6a3a9a"/>
<circle cx="505.00" cy="477.70" r="1.3" fill="#6a3a9a"/>
<text transform="translate(412.80,460.30) rotate(-90)" font-size="8" fill="#222" text-anchor="middle" textLength="52" lengthAdjust="spacingAndGlyphs">C11-bodipy<tspan font-size="4.5" dy="-2">+</tspan><tspan dy="2"> (%)</tspan></text>
<text x="6.25" y="544.50" font-size="11" fill="#000" font-weight="bold">J</text>
<text x="86.25" y="554.50" font-size="9" fill="#1a1a1a" text-anchor="middle" textLength="27" lengthAdjust="spacingAndGlyphs">BMDM</text>
<line x1="43.75" y1="562.00" x2="43.75" y2="625.70" stroke="#1a1a1a" stroke-width="1.1" />
<line x1="41.05" y1="625.20" x2="43.75" y2="625.20" stroke="#1a1a1a" stroke-width="0.9" />
<text x="38.45" y="627.40" font-size="6.2" fill="#222" text-anchor="end" style="stroke-width:0.12px">0</text>
<line x1="41.05" y1="605.20" x2="43.75" y2="605.20" stroke="#1a1a1a" stroke-width="0.9" />
<text x="38.45" y="607.40" font-size="6.2" fill="#222" text-anchor="end" style="stroke-width:0.12px">5000</text>
<line x1="41.05" y1="585.20" x2="43.75" y2="585.20" stroke="#1a1a1a" stroke-width="0.9" />
<text x="38.45" y="587.40" font-size="6.2" fill="#222" text-anchor="end" style="stroke-width:0.12px">10000</text>
<line x1="41.05" y1="565.20" x2="43.75" y2="565.20" stroke="#1a1a1a" stroke-width="0.9" />
<text x="38.45" y="567.40" font-size="6.2" fill="#222" text-anchor="end" style="stroke-width:0.12px">15000</text>
<rect x="47.70" y="579.00" width="15.00" height="46.20" fill="#ab0a2c" stroke="#8f0a25" stroke-width="0.6" />
<line x1="55.20" y1="579.00" x2="55.20" y2="577.20" stroke="#222" stroke-width="0.9" />
<line x1="51.70" y1="577.20" x2="58.70" y2="577.20" stroke="#222" stroke-width="1.0" />
<rect x="69.20" y="590.40" width="15.00" height="34.80" fill="#6eaa3c" stroke="#5a9a30" stroke-width="0.6" />
<line x1="76.70" y1="590.40" x2="76.70" y2="589.80" stroke="#222" stroke-width="0.9" />
<line x1="73.20" y1="589.80" x2="80.20" y2="589.80" stroke="#222" stroke-width="1.0" />
<rect x="90.80" y="602.20" width="15.00" height="23.00" fill="#5b2873" stroke="#3a1050" stroke-width="0.6" />
<line x1="98.30" y1="602.20" x2="98.30" y2="601.80" stroke="#222" stroke-width="0.9" />
<line x1="94.80" y1="601.80" x2="101.80" y2="601.80" stroke="#222" stroke-width="1.0" />
<rect x="112.30" y="597.60" width="15.00" height="27.60" fill="#2c4f8c" stroke="#1f3a6e" stroke-width="0.6" />
<line x1="119.80" y1="597.60" x2="119.80" y2="594.00" stroke="#222" stroke-width="0.9" />
<line x1="116.30" y1="594.00" x2="123.30" y2="594.00" stroke="#222" stroke-width="1.0" />
<line x1="41.70" y1="625.20" x2="130.60" y2="625.20" stroke="#1a1a1a" stroke-width="1.1" />
<line x1="55.20" y1="625.20" x2="55.20" y2="628.20" stroke="#1a1a1a" stroke-width="0.9" />
<line x1="76.70" y1="625.20" x2="76.70" y2="628.20" stroke="#1a1a1a" stroke-width="0.9" />
<line x1="98.30" y1="625.20" x2="98.30" y2="628.20" stroke="#1a1a1a" stroke-width="0.9" />
<line x1="119.80" y1="625.20" x2="119.80" y2="628.20" stroke="#1a1a1a" stroke-width="0.9" />
<text transform="translate(59.00,633.50) rotate(-45)" font-size="6.5" fill="#222" text-anchor="end" style="stroke-width:0.2px">Vehicle</text>
<text transform="translate(80.50,633.50) rotate(-45)" font-size="6.5" fill="#222" text-anchor="end" style="stroke-width:0.2px">Erastin</text>
<text transform="translate(102.10,633.50) rotate(-45)" font-size="6.5" fill="#222" text-anchor="end" style="stroke-width:0.2px">RSL3</text>
<text transform="translate(123.60,633.50) rotate(-45)" font-size="6.5" fill="#222" text-anchor="end" style="stroke-width:0.2px">IKE</text>
<line x1="53.00" y1="564.30" x2="120.50" y2="564.30" stroke="#3a3a3a" stroke-width="1.4" />
<text x="86.75" y="564.50" font-size="5.6" fill="#666" text-anchor="middle" style="stroke:none">****</text>
<line x1="53.00" y1="570.80" x2="97.00" y2="570.80" stroke="#3a3a3a" stroke-width="1.4" />
<text x="75.00" y="571.00" font-size="5.6" fill="#666" text-anchor="middle" style="stroke:none">****</text>
<line x1="53.00" y1="576.80" x2="74.50" y2="576.80" stroke="#3a3a3a" stroke-width="1.4" />
<text x="63.75" y="577.00" font-size="5.6" fill="#666" text-anchor="middle" style="stroke:none">****</text>
<text transform="translate(14.50,595.60) rotate(-90)" font-size="8.3" fill="#222" text-anchor="middle" textLength="34.9" lengthAdjust="spacingAndGlyphs">Cell number</text>
<text x="148.75" y="544.50" font-size="11" fill="#000" font-weight="bold">K</text>
<text x="230.00" y="555.00" font-size="9" fill="#1a1a1a" text-anchor="middle" textLength="18.5" lengthAdjust="spacingAndGlyphs">J774</text>
<line x1="185.40" y1="561.00" x2="185.40" y2="625.10" stroke="#1a1a1a" stroke-width="1.1" />
<line x1="182.70" y1="624.60" x2="185.40" y2="624.60" stroke="#1a1a1a" stroke-width="0.9" />
<text x="180.10" y="626.80" font-size="6.2" fill="#222" text-anchor="end" style="stroke-width:0.12px">0</text>
<line x1="182.70" y1="604.60" x2="185.40" y2="604.60" stroke="#1a1a1a" stroke-width="0.9" />
<text x="180.10" y="606.80" font-size="6.2" fill="#222" text-anchor="end" style="stroke-width:0.12px">20000</text>
<line x1="182.70" y1="584.60" x2="185.40" y2="584.60" stroke="#1a1a1a" stroke-width="0.9" />
<text x="180.10" y="586.80" font-size="6.2" fill="#222" text-anchor="end" style="stroke-width:0.12px">40000</text>
<line x1="182.70" y1="564.60" x2="185.40" y2="564.60" stroke="#1a1a1a" stroke-width="0.9" />
<text x="180.10" y="566.80" font-size="6.2" fill="#222" text-anchor="end" style="stroke-width:0.12px">60000</text>
<rect x="189.30" y="582.60" width="15.00" height="42.00" fill="#ab0a2c" stroke="#8f0a25" stroke-width="0.6" />
<line x1="196.80" y1="582.60" x2="196.80" y2="579.60" stroke="#222" stroke-width="0.9" />
<line x1="193.30" y1="579.60" x2="200.30" y2="579.60" stroke="#222" stroke-width="1.0" />
<rect x="211.80" y="606.10" width="15.00" height="18.50" fill="#6eaa3c" stroke="#5a9a30" stroke-width="0.6" />
<line x1="219.30" y1="606.10" x2="219.30" y2="604.40" stroke="#222" stroke-width="0.9" />
<line x1="215.80" y1="604.40" x2="222.80" y2="604.40" stroke="#222" stroke-width="1.0" />
<rect x="234.90" y="619.60" width="15.00" height="5.00" fill="#5b2873" stroke="#3a1050" stroke-width="0.6" />
<line x1="242.40" y1="619.60" x2="242.40" y2="619.30" stroke="#222" stroke-width="0.9" />
<line x1="238.90" y1="619.30" x2="245.90" y2="619.30" stroke="#222" stroke-width="1.0" />
<rect x="258.00" y="621.40" width="15.00" height="3.20" fill="#2c4f8c" stroke="#1f3a6e" stroke-width="0.6" />
<line x1="265.50" y1="621.40" x2="265.50" y2="621.00" stroke="#222" stroke-width="0.9" />
<line x1="262.00" y1="621.00" x2="269.00" y2="621.00" stroke="#222" stroke-width="1.0" />
<line x1="184.70" y1="624.60" x2="276.10" y2="624.60" stroke="#1a1a1a" stroke-width="1.1" />
<line x1="196.80" y1="624.60" x2="196.80" y2="627.60" stroke="#1a1a1a" stroke-width="0.9" />
<line x1="219.30" y1="624.60" x2="219.30" y2="627.60" stroke="#1a1a1a" stroke-width="0.9" />
<line x1="242.40" y1="624.60" x2="242.40" y2="627.60" stroke="#1a1a1a" stroke-width="0.9" />
<line x1="265.50" y1="624.60" x2="265.50" y2="627.60" stroke="#1a1a1a" stroke-width="0.9" />
<text transform="translate(200.60,632.90) rotate(-45)" font-size="6.5" fill="#222" text-anchor="end" style="stroke-width:0.2px">Vehicle</text>
<text transform="translate(223.10,632.90) rotate(-45)" font-size="6.5" fill="#222" text-anchor="end" style="stroke-width:0.2px">Erastin</text>
<text transform="translate(246.20,632.90) rotate(-45)" font-size="6.5" fill="#222" text-anchor="end" style="stroke-width:0.2px">RSL3</text>
<text transform="translate(269.30,632.90) rotate(-45)" font-size="6.5" fill="#222" text-anchor="end" style="stroke-width:0.2px">IKE</text>
<line x1="195.50" y1="565.00" x2="262.50" y2="565.00" stroke="#3a3a3a" stroke-width="1.4" />
<text x="229.00" y="565.20" font-size="5.6" fill="#666" text-anchor="middle" style="stroke:none">****</text>
<line x1="195.50" y1="571.75" x2="238.00" y2="571.75" stroke="#3a3a3a" stroke-width="1.4" />
<text x="216.75" y="571.95" font-size="5.6" fill="#666" text-anchor="middle" style="stroke:none">****</text>
<line x1="195.50" y1="578.00" x2="216.25" y2="578.00" stroke="#3a3a3a" stroke-width="1.4" />
<text x="205.88" y="578.20" font-size="5.6" fill="#666" text-anchor="middle" style="stroke:none">****</text>
<text transform="translate(155.50,593.20) rotate(-90)" font-size="8.5" fill="#222" text-anchor="middle" textLength="37.6" lengthAdjust="spacingAndGlyphs">Cell number</text>
<text x="296.25" y="543.75" font-size="11" fill="#000" font-weight="bold">L</text>
<text x="365.00" y="557.50" font-size="9" fill="#1a1a1a" text-anchor="middle" textLength="27" lengthAdjust="spacingAndGlyphs">BMDM</text>
<line x1="321.25" y1="562.00" x2="321.25" y2="625.30" stroke="#1a1a1a" stroke-width="1.1" />
<line x1="318.55" y1="624.80" x2="321.25" y2="624.80" stroke="#1a1a1a" stroke-width="0.9" />
<text x="315.95" y="627.00" font-size="6.2" fill="#222" text-anchor="end" style="stroke-width:0.12px">0</text>
<line x1="318.55" y1="609.85" x2="321.25" y2="609.85" stroke="#1a1a1a" stroke-width="0.9" />
<text x="315.95" y="612.05" font-size="6.2" fill="#222" text-anchor="end" style="stroke-width:0.12px">10</text>
<line x1="318.55" y1="594.90" x2="321.25" y2="594.90" stroke="#1a1a1a" stroke-width="0.9" />
<text x="315.95" y="597.10" font-size="6.2" fill="#222" text-anchor="end" style="stroke-width:0.12px">20</text>
<line x1="318.55" y1="579.95" x2="321.25" y2="579.95" stroke="#1a1a1a" stroke-width="0.9" />
<text x="315.95" y="582.15" font-size="6.2" fill="#222" text-anchor="end" style="stroke-width:0.12px">30</text>
<line x1="318.55" y1="565.00" x2="321.25" y2="565.00" stroke="#1a1a1a" stroke-width="0.9" />
<text x="315.95" y="567.20" font-size="6.2" fill="#222" text-anchor="end" style="stroke-width:0.12px">40</text>
<rect x="325.20" y="610.90" width="15.00" height="13.90" fill="#ab0a2c" stroke="#8f0a25" stroke-width="0.6" />
<line x1="332.70" y1="610.90" x2="332.70" y2="605.37" stroke="#222" stroke-width="0.9" />
<line x1="329.20" y1="605.37" x2="336.20" y2="605.37" stroke="#222" stroke-width="1.0" />
<rect x="347.40" y="612.39" width="15.00" height="12.41" fill="#6eaa3c" stroke="#5a9a30" stroke-width="0.6" />
<line x1="354.90" y1="612.39" x2="354.90" y2="608.80" stroke="#222" stroke-width="0.9" />
<line x1="351.40" y1="608.80" x2="358.40" y2="608.80" stroke="#222" stroke-width="1.0" />
<rect x="369.00" y="587.42" width="15.00" height="37.38" fill="#5b2873" stroke="#3a1050" stroke-width="0.6" />
<line x1="376.50" y1="587.42" x2="376.50" y2="581.44" stroke="#222" stroke-width="0.9" />
<line x1="373.00" y1="581.44" x2="380.00" y2="581.44" stroke="#222" stroke-width="1.0" />
<rect x="391.50" y="606.86" width="15.00" height="17.94" fill="#2c4f8c" stroke="#1f3a6e" stroke-width="0.6" />
<line x1="399.00" y1="606.86" x2="399.00" y2="601.63" stroke="#222" stroke-width="0.9" />
<line x1="395.50" y1="601.63" x2="402.50" y2="601.63" stroke="#222" stroke-width="1.0" />
<line x1="320.30" y1="624.80" x2="409.70" y2="624.80" stroke="#1a1a1a" stroke-width="1.1" />
<line x1="332.70" y1="624.80" x2="332.70" y2="627.80" stroke="#1a1a1a" stroke-width="0.9" />
<line x1="354.90" y1="624.80" x2="354.90" y2="627.80" stroke="#1a1a1a" stroke-width="0.9" />
<line x1="376.50" y1="624.80" x2="376.50" y2="627.80" stroke="#1a1a1a" stroke-width="0.9" />
<line x1="399.00" y1="624.80" x2="399.00" y2="627.80" stroke="#1a1a1a" stroke-width="0.9" />
<text transform="translate(336.50,633.10) rotate(-45)" font-size="6.5" fill="#222" text-anchor="end" style="stroke-width:0.2px">Vehicle</text>
<text transform="translate(358.70,633.10) rotate(-45)" font-size="6.5" fill="#222" text-anchor="end" style="stroke-width:0.2px">Fresh RBCs</text>
<text transform="translate(380.30,633.10) rotate(-45)" font-size="6.5" fill="#222" text-anchor="end" style="stroke-width:0.2px">IgG-RBCs</text>
<text transform="translate(402.80,633.10) rotate(-45)" font-size="6.5" fill="#222" text-anchor="end" style="stroke-width:0.2px">IgG-RBCs + Fer-1</text>
<line x1="334.50" y1="573.75" x2="375.50" y2="573.75" stroke="#3a3a3a" stroke-width="1.4" />
<text x="355.00" y="573.95" font-size="5.6" fill="#666" text-anchor="middle" style="stroke:none">***</text>
<line x1="377.50" y1="573.75" x2="398.75" y2="573.75" stroke="#3a3a3a" stroke-width="1.4" />
<text x="388.12" y="573.95" font-size="5.6" fill="#666" text-anchor="middle" style="stroke:none">**</text>
<line x1="355.50" y1="579.50" x2="375.50" y2="579.50" stroke="#3a3a3a" stroke-width="1.4" />
<text x="365.50" y="579.70" font-size="5.6" fill="#666" text-anchor="middle" style="stroke:none">***</text>
<text transform="translate(302.80,594.00) rotate(-90)" font-size="8.3" fill="#222" text-anchor="middle" textLength="42.6" lengthAdjust="spacingAndGlyphs">Dead cells (%)</text>
<rect x="0.00" y="0.00" width="520.00" height="1.40" fill="#000" stroke="none" stroke-width="0" />
<rect x="0.00" y="0.00" width="1.50" height="678.00" fill="#000" stroke="none" stroke-width="0" />
<rect x="518.60" y="0.00" width="1.40" height="678.00" fill="#000" stroke="none" stroke-width="0" />
<rect x="0.00" y="676.20" width="520.00" height="1.80" fill="#000" stroke="none" stroke-width="0" />
</svg></body></html>
